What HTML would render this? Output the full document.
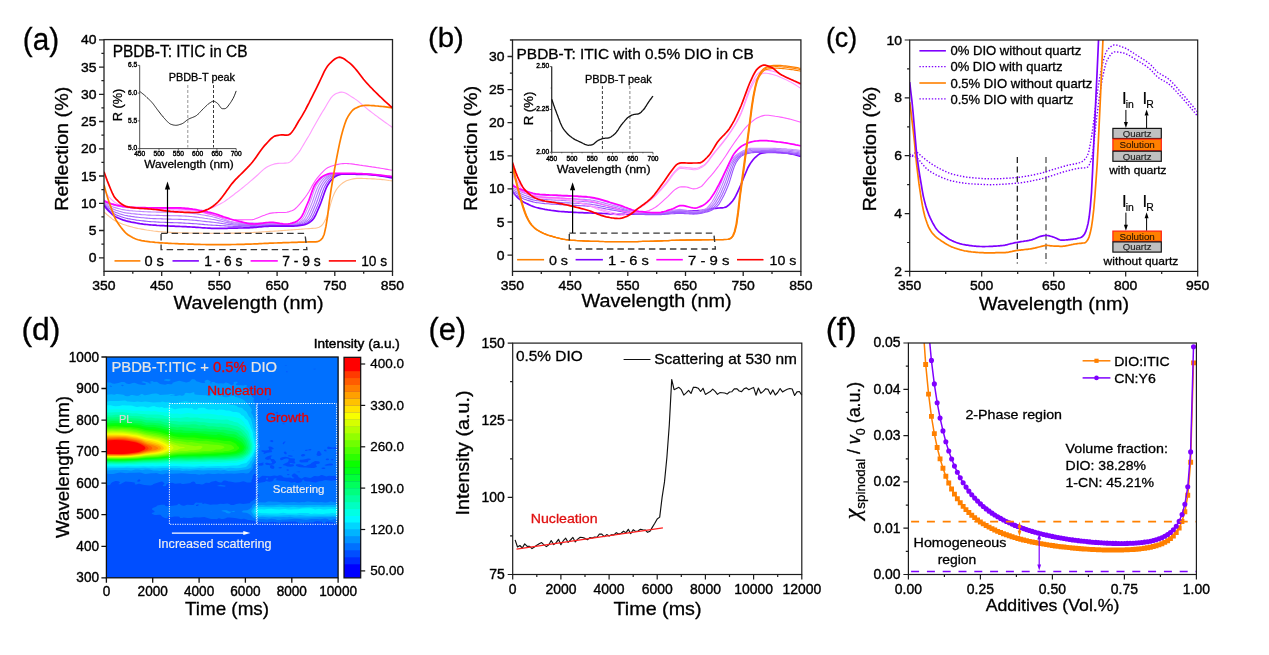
<!DOCTYPE html>
<html lang="en"><head><meta charset="utf-8"><title>Figure</title>
<style>
html,body{margin:0;padding:0;background:#fff;}
body{width:1269px;height:655px;overflow:hidden;}
svg{display:block;}
svg text{font-family:'Liberation Sans', Arial, Helvetica, sans-serif;}
</style></head><body>
<svg width="1269" height="655" viewBox="0 0 1269 655">
<rect width="1269" height="655" fill="#fff"/>
<g id="panel_a">
<clipPath id="ca"><rect x="104" y="39.6" width="288.5" height="231.7"/></clipPath>
<path d="M104 212L105.7 213.5L107.4 215L109.1 216.4L110.8 217.7L112.5 219.1L114.2 220.3L115.9 221.2L117.7 222.1L119.4 222.8L121.1 223.5L122.8 224.2L124.5 224.8L126.2 225.3L127.9 225.9L129.6 226.4L131.3 226.8L133 227.3L134.7 227.7L136.4 228.1L138.1 228.5L139.8 228.8L141.6 229.1L143.3 229.4L145 229.7L146.7 230L148.4 230.2L150.1 230.5L151.8 230.7L153.5 231L155.2 231.2L156.9 231.4L158.6 231.6L160.3 231.8L162 231.9L163.7 232L165.5 232.1L167.2 232.2L168.9 232.3L170.6 232.4L172.3 232.5L174 232.5L175.7 232.6L177.4 232.7L179.1 232.7L180.8 232.8L182.5 232.8L184.2 232.9L185.9 232.9L187.6 232.9L189.4 233L191.1 233L192.8 233L194.5 233L196.2 233.1L197.9 233.1L199.6 233.1L201.3 233.1L203 233.2L204.7 233.2L206.4 233.2L208.1 233.2L209.8 233.2L211.5 233.2L213.3 233.2L215 233.2L216.7 233.2L218.4 233.2L220.1 233.2L221.8 233.2L223.5 233.2L225.2 233.2L226.9 233.2L228.6 233.1L230.3 233.1L232 233.1L233.7 233.1L235.4 233L237.2 233L238.9 232.9L240.6 232.9L242.3 232.9L244 232.8L245.7 232.8L247.4 232.7L249.1 232.7L250.8 232.6L252.5 232.5L254.2 232.4L255.9 232.3L257.6 232.2L259.3 232.1L261.1 232L262.8 231.9L264.5 231.8L266.2 231.6L267.9 231.5L269.6 231.4L271.3 231.3L273 231.2L274.7 231.1L276.4 231L278.1 230.9L279.8 230.7L281.5 230.6L283.2 230.5L285 230.4L286.7 230.3L288.4 230.1L290.1 230L291.8 229.9L293.5 229.8L295.2 229.6L296.9 229.5L298.6 229.4L300.3 229.2L302 229.1L303.7 229L305.4 228.8L307.1 228.7L308.9 228.6L310.6 228.5L312.3 228.4L314 228.3L315.7 228.1L317.4 227.8L319.1 227.2L320.8 226.2L322.5 224.7L324.2 222.1L325.9 218.7L327.6 214.1L329.3 208.8L331 202.6L332.8 197.1L334.5 193L336.2 189.9L337.9 187.5L339.6 185.7L341.3 184.2L343 182.8L344.7 181.7L346.4 180.8L348.1 180.2L349.8 179.7L351.5 179.3L353.2 178.9L354.9 178.6L356.7 178.4L358.4 178.4L360.1 178.4L361.8 178.4L363.5 178.5L365.2 178.5L366.9 178.6L368.6 178.7L370.3 178.8L372 178.9L373.7 178.9L375.4 179L377.1 179.2L378.8 179.3L380.6 179.4L382.3 179.6L384 179.8L385.7 180L387.4 180.2L389.1 180.5L390.8 180.7L392.5 180.9" fill="none" stroke="#FFC490" stroke-width="1.1" clip-path="url(#ca)"/>
<path d="M104 201.6L105.7 202.3L107.4 203L109.1 203.6L110.8 204.2L112.5 204.8L114.2 205.3L115.9 205.7L117.7 206.1L119.4 206.4L121.1 206.8L122.8 207.1L124.5 207.3L126.2 207.5L127.9 207.7L129.6 207.8L131.3 207.9L133 208L134.7 208.1L136.4 208.2L138.1 208.3L139.8 208.4L141.6 208.5L143.3 208.5L145 208.6L146.7 208.6L148.4 208.7L150.1 208.7L151.8 208.7L153.5 208.7L155.2 208.7L156.9 208.7L158.6 208.7L160.3 208.7L162 208.7L163.7 208.7L165.5 208.7L167.2 208.7L168.9 208.7L170.6 208.7L172.3 208.7L174 208.7L175.7 208.7L177.4 208.7L179.1 208.7L180.8 208.8L182.5 208.8L184.2 208.9L185.9 209.1L187.6 209.3L189.4 209.5L191.1 209.8L192.8 210.1L194.5 210.4L196.2 210.7L197.9 211L199.6 211.4L201.3 211.7L203 212.1L204.7 212.4L206.4 212.8L208.1 213.1L209.8 213.6L211.5 214.1L213.3 214.6L215 215.2L216.7 215.9L218.4 216.6L220.1 217.3L221.8 218L223.5 218.7L225.2 219.4L226.9 220.1L228.6 220.7L230.3 221.2L232 221.6L233.7 222L235.4 222.2L237.2 222.4L238.9 222.5L240.6 222.6L242.3 222.6L244 222.7L245.7 222.7L247.4 222.8L249.1 222.8L250.8 222.9L252.5 222.9L254.2 223L255.9 223L257.6 223L259.3 223.1L261.1 223.1L262.8 223.1L264.5 223.2L266.2 223.2L267.9 223.3L269.6 223.4L271.3 223.4L273 223.5L274.7 223.7L276.4 223.9L278.1 224L279.8 224.2L281.5 224.3L283.2 224.5L285 224.5L286.7 224.5L288.4 224.4L290.1 224.2L291.8 223.9L293.5 223.6L295.2 223.3L296.9 222.7L298.6 221.9L300.3 220.9L302 219.5L303.7 217L305.4 213.4L307.1 209.4L308.9 205.4L310.6 200.9L312.3 195.8L314 190.7L315.7 186.5L317.4 183.6L319.1 181.2L320.8 179.1L322.5 177.5L324.2 176.4L325.9 175.5L327.6 174.8L329.3 174.2L331 173.9L332.8 173.9L334.5 173.9L336.2 173.9L337.9 173.9L339.6 173.9L341.3 173.9L343 173.9L344.7 173.9L346.4 173.9L348.1 173.9L349.8 173.9L351.5 173.9L353.2 173.9L354.9 173.9L356.7 173.9L358.4 173.9L360.1 173.9L361.8 173.9L363.5 173.9L365.2 173.9L366.9 173.9L368.6 174L370.3 174.1L372 174.2L373.7 174.4L375.4 174.6L377.1 174.8L378.8 175L380.6 175.2L382.3 175.5L384 175.7L385.7 176L387.4 176.3L389.1 176.6L390.8 176.8L392.5 177.1" fill="none" stroke="#D090FF" stroke-width="1.1" clip-path="url(#ca)"/>
<path d="M104 202.4L105.7 203.4L107.4 204.3L109.1 205.2L110.8 206L112.5 206.7L114.2 207.4L115.9 207.9L117.7 208.4L119.4 208.8L121.1 209.3L122.8 209.6L124.5 209.9L126.2 210.2L127.9 210.4L129.6 210.6L131.3 210.7L133 210.9L134.7 211L136.4 211.2L138.1 211.3L139.8 211.4L141.6 211.5L143.3 211.6L145 211.7L146.7 211.8L148.4 211.9L150.1 211.9L151.8 212L153.5 212L155.2 212L156.9 212.1L158.6 212.1L160.3 212.1L162 212.1L163.7 212.1L165.5 212.2L167.2 212.2L168.9 212.2L170.6 212.2L172.3 212.2L174 212.2L175.7 212.3L177.4 212.3L179.1 212.3L180.8 212.4L182.5 212.4L184.2 212.5L185.9 212.6L187.6 212.8L189.4 212.9L191.1 213.1L192.8 213.4L194.5 213.6L196.2 213.8L197.9 214.1L199.6 214.4L201.3 214.7L203 215L204.7 215.3L206.4 215.6L208.1 215.9L209.8 216.2L211.5 216.5L213.3 217L215 217.4L216.7 217.9L218.4 218.4L220.1 219L221.8 219.5L223.5 220.1L225.2 220.6L226.9 221.1L228.6 221.6L230.3 222.1L232 222.5L233.7 222.8L235.4 223.1L237.2 223.3L238.9 223.4L240.6 223.5L242.3 223.5L244 223.6L245.7 223.6L247.4 223.6L249.1 223.7L250.8 223.7L252.5 223.7L254.2 223.7L255.9 223.7L257.6 223.8L259.3 223.8L261.1 223.8L262.8 223.8L264.5 223.8L266.2 223.9L267.9 223.9L269.6 223.9L271.3 224L273 224.1L274.7 224.1L276.4 224.3L278.1 224.4L279.8 224.5L281.5 224.6L283.2 224.7L285 224.8L286.7 224.9L288.4 224.8L290.1 224.7L291.8 224.5L293.5 224.2L295.2 223.9L296.9 223.6L298.6 223L300.3 222.3L302 221.3L303.7 220L305.4 217.8L307.1 214.5L308.9 210.6L310.6 206.5L312.3 202.3L314 197.3L315.7 192.2L317.4 187.7L319.1 184.5L320.8 181.9L322.5 179.7L324.2 177.9L325.9 176.7L327.6 175.8L329.3 175L331 174.4L332.8 174L334.5 173.9L336.2 173.9L337.9 173.9L339.6 173.9L341.3 173.9L343 173.9L344.7 173.9L346.4 173.9L348.1 173.9L349.8 173.9L351.5 173.9L353.2 173.9L354.9 173.9L356.7 173.9L358.4 173.9L360.1 174L361.8 174L363.5 174L365.2 174L366.9 174L368.6 174.1L370.3 174.2L372 174.4L373.7 174.5L375.4 174.7L377.1 174.9L378.8 175.1L380.6 175.4L382.3 175.6L384 175.9L385.7 176.1L387.4 176.4L389.1 176.7L390.8 177L392.5 177.3" fill="none" stroke="#C088FF" stroke-width="1.1" clip-path="url(#ca)"/>
<path d="M104 203.2L105.7 204.4L107.4 205.6L109.1 206.7L110.8 207.7L112.5 208.7L114.2 209.5L115.9 210.2L117.7 210.7L119.4 211.3L121.1 211.7L122.8 212.2L124.5 212.6L126.2 212.9L127.9 213.1L129.6 213.3L131.3 213.6L133 213.8L134.7 213.9L136.4 214.1L138.1 214.3L139.8 214.4L141.6 214.6L143.3 214.7L145 214.8L146.7 215L148.4 215.1L150.1 215.1L151.8 215.2L153.5 215.3L155.2 215.3L156.9 215.4L158.6 215.4L160.3 215.5L162 215.5L163.7 215.6L165.5 215.6L167.2 215.6L168.9 215.6L170.6 215.7L172.3 215.7L174 215.7L175.7 215.8L177.4 215.8L179.1 215.9L180.8 215.9L182.5 216L184.2 216L185.9 216.1L187.6 216.2L189.4 216.4L191.1 216.5L192.8 216.7L194.5 216.9L196.2 217.1L197.9 217.3L199.6 217.6L201.3 217.8L203 218L204.7 218.3L206.4 218.5L208.1 218.8L209.8 219L211.5 219.3L213.3 219.5L215 219.8L216.7 220.2L218.4 220.6L220.1 220.9L221.8 221.3L223.5 221.8L225.2 222.2L226.9 222.5L228.6 222.9L230.3 223.3L232 223.6L233.7 223.9L235.4 224.1L237.2 224.3L238.9 224.5L240.6 224.5L242.3 224.5L244 224.5L245.7 224.5L247.4 224.5L249.1 224.5L250.8 224.5L252.5 224.5L254.2 224.5L255.9 224.5L257.6 224.5L259.3 224.5L261.1 224.5L262.8 224.5L264.5 224.5L266.2 224.5L267.9 224.5L269.6 224.5L271.3 224.5L273 224.5L274.7 224.6L276.4 224.7L278.1 224.8L279.8 224.9L281.5 225L283.2 225L285 225.1L286.7 225.2L288.4 225.2L290.1 225.1L291.8 225L293.5 224.8L295.2 224.5L296.9 224.2L298.6 223.9L300.3 223.4L302 222.6L303.7 221.6L305.4 220.4L307.1 218.5L308.9 215.5L310.6 211.7L312.3 207.7L314 203.6L315.7 198.8L317.4 193.7L319.1 189L320.8 185.4L322.5 182.7L324.2 180.4L325.9 178.5L327.6 177L329.3 176.1L331 175.3L332.8 174.6L334.5 174.1L336.2 174L337.9 174L339.6 174L341.3 174L343 174L344.7 174L346.4 174L348.1 174L349.8 174L351.5 174L353.2 174L354.9 174L356.7 174L358.4 174L360.1 174L361.8 174.1L363.5 174.1L365.2 174.1L366.9 174.2L368.6 174.2L370.3 174.4L372 174.5L373.7 174.6L375.4 174.8L377.1 175L378.8 175.3L380.6 175.5L382.3 175.7L384 176L385.7 176.3L387.4 176.6L389.1 176.8L390.8 177.1L392.5 177.4" fill="none" stroke="#B478FF" stroke-width="1.1" clip-path="url(#ca)"/>
<path d="M104 203.9L105.7 205.5L107.4 206.9L109.1 208.3L110.8 209.5L112.5 210.7L114.2 211.7L115.9 212.4L117.7 213.1L119.4 213.7L121.1 214.2L122.8 214.7L124.5 215.2L126.2 215.5L127.9 215.9L129.6 216.1L131.3 216.4L133 216.6L134.7 216.9L136.4 217.1L138.1 217.3L139.8 217.5L141.6 217.7L143.3 217.8L145 218L146.7 218.1L148.4 218.2L150.1 218.4L151.8 218.5L153.5 218.6L155.2 218.6L156.9 218.7L158.6 218.8L160.3 218.8L162 218.9L163.7 219L165.5 219L167.2 219L168.9 219.1L170.6 219.1L172.3 219.2L174 219.2L175.7 219.3L177.4 219.3L179.1 219.4L180.8 219.4L182.5 219.5L184.2 219.6L185.9 219.6L187.6 219.7L189.4 219.9L191.1 220L192.8 220.1L194.5 220.3L196.2 220.4L197.9 220.6L199.6 220.8L201.3 221L203 221.2L204.7 221.4L206.4 221.6L208.1 221.8L209.8 221.9L211.5 222.1L213.3 222.3L215 222.5L216.7 222.7L218.4 222.9L220.1 223.2L221.8 223.4L223.5 223.7L225.2 223.9L226.9 224.2L228.6 224.4L230.3 224.6L232 224.8L233.7 225L235.4 225.2L237.2 225.3L238.9 225.5L240.6 225.6L242.3 225.6L244 225.6L245.7 225.6L247.4 225.6L249.1 225.6L250.8 225.5L252.5 225.5L254.2 225.4L255.9 225.4L257.6 225.3L259.3 225.3L261.1 225.2L262.8 225.2L264.5 225.2L266.2 225.1L267.9 225.1L269.6 225.1L271.3 225.1L273 225.1L274.7 225.1L276.4 225.2L278.1 225.2L279.8 225.3L281.5 225.3L283.2 225.4L285 225.4L286.7 225.5L288.4 225.5L290.1 225.5L291.8 225.4L293.5 225.3L295.2 225.1L296.9 224.8L298.6 224.5L300.3 224.2L302 223.7L303.7 223L305.4 222L307.1 220.8L308.9 219.2L310.6 216.4L312.3 212.8L314 208.8L315.7 204.8L317.4 200.3L319.1 195.2L320.8 190.3L322.5 186.3L324.2 183.5L325.9 181.1L327.6 179L329.3 177.4L331 176.4L332.8 175.5L334.5 174.8L336.2 174.3L337.9 174L339.6 174L341.3 174L343 174L344.7 174L346.4 174L348.1 174L349.8 174.1L351.5 174.1L353.2 174.1L354.9 174.1L356.7 174.1L358.4 174.1L360.1 174.1L361.8 174.2L363.5 174.2L365.2 174.2L366.9 174.3L368.6 174.4L370.3 174.5L372 174.6L373.7 174.8L375.4 175L377.1 175.2L378.8 175.4L380.6 175.6L382.3 175.9L384 176.1L385.7 176.4L387.4 176.7L389.1 177L390.8 177.3L392.5 177.6" fill="none" stroke="#A868FF" stroke-width="1.1" clip-path="url(#ca)"/>
<path d="M104 204.7L105.7 206.5L107.4 208.2L109.1 209.8L110.8 211.3L112.5 212.6L114.2 213.8L115.9 214.7L117.7 215.4L119.4 216.1L121.1 216.7L122.8 217.3L124.5 217.8L126.2 218.2L127.9 218.6L129.6 218.9L131.3 219.2L133 219.5L134.7 219.8L136.4 220.1L138.1 220.3L139.8 220.5L141.6 220.7L143.3 220.9L145 221.1L146.7 221.3L148.4 221.5L150.1 221.6L151.8 221.7L153.5 221.8L155.2 221.9L156.9 222L158.6 222.1L160.3 222.2L162 222.3L163.7 222.3L165.5 222.4L167.2 222.5L168.9 222.5L170.6 222.6L172.3 222.6L174 222.7L175.7 222.8L177.4 222.8L179.1 222.9L180.8 222.9L182.5 223L184.2 223.1L185.9 223.2L187.6 223.3L189.4 223.4L191.1 223.5L192.8 223.6L194.5 223.7L196.2 223.8L197.9 224L199.6 224.1L201.3 224.3L203 224.4L204.7 224.6L206.4 224.7L208.1 224.9L209.8 225L211.5 225.1L213.3 225.2L215 225.3L216.7 225.4L218.4 225.5L220.1 225.6L221.8 225.7L223.5 225.8L225.2 225.9L226.9 226L228.6 226.1L230.3 226.2L232 226.3L233.7 226.4L235.4 226.5L237.2 226.5L238.9 226.6L240.6 226.6L242.3 226.7L244 226.7L245.7 226.7L247.4 226.7L249.1 226.7L250.8 226.6L252.5 226.5L254.2 226.4L255.9 226.3L257.6 226.2L259.3 226.1L261.1 226L262.8 225.9L264.5 225.8L266.2 225.7L267.9 225.7L269.6 225.6L271.3 225.6L273 225.6L274.7 225.6L276.4 225.7L278.1 225.7L279.8 225.7L281.5 225.7L283.2 225.8L285 225.8L286.7 225.8L288.4 225.8L290.1 225.8L291.8 225.8L293.5 225.7L295.2 225.6L296.9 225.4L298.6 225.1L300.3 224.8L302 224.5L303.7 224L305.4 223.4L307.1 222.4L308.9 221.2L310.6 219.7L312.3 217.2L314 213.8L315.7 209.9L317.4 206L319.1 201.7L320.8 196.8L322.5 191.8L324.2 187.4L325.9 184.4L327.6 181.8L329.3 179.6L331 177.9L332.8 176.6L334.5 175.8L336.2 175L337.9 174.5L339.6 174.1L341.3 174.1L343 174.1L344.7 174.1L346.4 174.1L348.1 174.1L349.8 174.1L351.5 174.1L353.2 174.1L354.9 174.2L356.7 174.2L358.4 174.2L360.1 174.2L361.8 174.3L363.5 174.3L365.2 174.3L366.9 174.4L368.6 174.5L370.3 174.6L372 174.8L373.7 174.9L375.4 175.1L377.1 175.3L378.8 175.5L380.6 175.8L382.3 176L384 176.3L385.7 176.6L387.4 176.8L389.1 177.1L390.8 177.4L392.5 177.7" fill="none" stroke="#9A50FF" stroke-width="1.1" clip-path="url(#ca)"/>
<path d="M104 205.5L105.7 207.6L107.4 209.6L109.1 211.4L110.8 213L112.5 214.6L114.2 215.9L115.9 216.9L117.7 217.8L119.4 218.5L121.1 219.2L122.8 219.9L124.5 220.4L126.2 220.9L127.9 221.3L129.6 221.7L131.3 222.1L133 222.4L134.7 222.7L136.4 223L138.1 223.3L139.8 223.6L141.6 223.8L143.3 224.1L145 224.3L146.7 224.5L148.4 224.7L150.1 224.8L151.8 225L153.5 225.1L155.2 225.2L156.9 225.4L158.6 225.5L160.3 225.6L162 225.7L163.7 225.7L165.5 225.8L167.2 225.9L168.9 226L170.6 226.1L172.3 226.1L174 226.2L175.7 226.3L177.4 226.3L179.1 226.4L180.8 226.5L182.5 226.6L184.2 226.6L185.9 226.7L187.6 226.8L189.4 226.9L191.1 227L192.8 227.1L194.5 227.2L196.2 227.3L197.9 227.4L199.6 227.5L201.3 227.7L203 227.8L204.7 227.9L206.4 228L208.1 228.1L209.8 228.2L211.5 228.3L213.3 228.3L215 228.3L216.7 228.3L218.4 228.3L220.1 228.3L221.8 228.3L223.5 228.3L225.2 228.3L226.9 228.3L228.6 228.2L230.3 228.2L232 228.2L233.7 228.2L235.4 228.1L237.2 228.1L238.9 228L240.6 228L242.3 228L244 227.9L245.7 227.9L247.4 227.8L249.1 227.8L250.8 227.7L252.5 227.6L254.2 227.4L255.9 227.3L257.6 227.1L259.3 226.9L261.1 226.8L262.8 226.6L264.5 226.5L266.2 226.3L267.9 226.3L269.6 226.2L271.3 226.2L273 226.2L274.7 226.2L276.4 226.2L278.1 226.2L279.8 226.2L281.5 226.2L283.2 226.2L285 226.2L286.7 226.2L288.4 226.2L290.1 226.2L291.8 226.2L293.5 226.1L295.2 226L296.9 225.9L298.6 225.7L300.3 225.4L302 225.1L303.7 224.8L305.4 224.4L307.1 223.7L308.9 222.8L310.6 221.6L312.3 220.2L314 218L315.7 214.8L317.4 211L319.1 207.1L320.8 203L322.5 198.2L324.2 193.2L325.9 188.7L327.6 185.2L329.3 182.6L331 180.3L332.8 178.4L334.5 177L336.2 176.1L337.9 175.3L339.6 174.7L341.3 174.2L343 174.1L344.7 174.1L346.4 174.1L348.1 174.1L349.8 174.2L351.5 174.2L353.2 174.2L354.9 174.2L356.7 174.3L358.4 174.3L360.1 174.3L361.8 174.4L363.5 174.4L365.2 174.4L366.9 174.5L368.6 174.6L370.3 174.7L372 174.9L373.7 175.1L375.4 175.2L377.1 175.4L378.8 175.7L380.6 175.9L382.3 176.2L384 176.4L385.7 176.7L387.4 177L389.1 177.3L390.8 177.6L392.5 177.9" fill="none" stroke="#7F00FF" stroke-width="1.7" clip-path="url(#ca)"/>
<path d="M104 200L105.7 200.9L107.4 201.8L109.1 202.6L110.8 203.3L112.5 204L114.2 204.6L115.9 205L117.7 205.4L119.4 205.8L121.1 206.1L122.8 206.5L124.5 206.8L126.2 207L127.9 207.2L129.6 207.4L131.3 207.6L133 207.6L134.7 207.7L136.4 207.8L138.1 207.8L139.8 207.8L141.6 207.9L143.3 207.9L145 207.9L146.7 207.9L148.4 208L150.1 208L151.8 208L153.5 208L155.2 208L156.9 208.1L158.6 208.1L160.3 208.1L162 208.2L163.7 208.2L165.5 208.3L167.2 208.4L168.9 208.4L170.6 208.5L172.3 208.6L174 208.7L175.7 208.7L177.4 208.8L179.1 208.9L180.8 209L182.5 209.2L184.2 209.3L185.9 209.4L187.6 209.6L189.4 209.7L191.1 209.9L192.8 210.1L194.5 210.4L196.2 210.7L197.9 211.1L199.6 211.5L201.3 212L203 212.4L204.7 212.9L206.4 213.4L208.1 213.9L209.8 214.3L211.5 214.8L213.3 215.2L215 215.6L216.7 216L218.4 216.4L220.1 216.9L221.8 217.3L223.5 217.8L225.2 218.2L226.9 218.6L228.6 219L230.3 219.3L232 219.6L233.7 219.8L235.4 219.9L237.2 219.9L238.9 219.9L240.6 219.9L242.3 219.9L244 219.8L245.7 219.8L247.4 219.8L249.1 219.7L250.8 219.7L252.5 219.6L254.2 219.2L255.9 218.6L257.6 217.9L259.3 217.2L261.1 216.4L262.8 215.8L264.5 215.2L266.2 214.5L267.9 213.9L269.6 213.4L271.3 213.1L273 212.9L274.7 212.7L276.4 212.6L278.1 212.5L279.8 212.5L281.5 212.5L283.2 212.5L285 212.5L286.7 212.3L288.4 211.9L290.1 211.3L291.8 210.7L293.5 209.9L295.2 208.7L296.9 207.2L298.6 205.4L300.3 203.4L302 201.3L303.7 199.2L305.4 197L307.1 194.5L308.9 191.7L310.6 188.7L312.3 185.6L314 182.7L315.7 180L317.4 177.8L319.1 175.8L320.8 173.9L322.5 172.1L324.2 170.4L325.9 168.9L327.6 167.7L329.3 166.9L331 166.3L332.8 165.7L334.5 165.2L336.2 164.8L337.9 164.4L339.6 164L341.3 163.8L343 163.6L344.7 163.5L346.4 163.5L348.1 163.6L349.8 163.7L351.5 163.9L353.2 164.1L354.9 164.4L356.7 164.6L358.4 164.9L360.1 165.2L361.8 165.4L363.5 165.7L365.2 165.9L366.9 166.1L368.6 166.4L370.3 166.6L372 166.9L373.7 167.1L375.4 167.4L377.1 167.7L378.8 167.9L380.6 168.2L382.3 168.5L384 168.8L385.7 169.1L387.4 169.4L389.1 169.7L390.8 170L392.5 170.3" fill="none" stroke="#FF50FF" stroke-width="1.1" clip-path="url(#ca)"/>
<path d="M104 189.7L105.7 192.4L107.4 195L109.1 197.1L110.8 198.9L112.5 200.4L114.2 201.9L115.9 203.1L117.7 204L119.4 204.7L121.1 205.4L122.8 206L124.5 206.5L126.2 207L127.9 207.4L129.6 207.8L131.3 208L133 208.2L134.7 208.3L136.4 208.4L138.1 208.5L139.8 208.6L141.6 208.6L143.3 208.7L145 208.8L146.7 208.8L148.4 208.9L150.1 208.9L151.8 208.9L153.5 209L155.2 209L156.9 209.1L158.6 209.1L160.3 209.2L162 209.3L163.7 209.4L165.5 209.5L167.2 209.6L168.9 209.7L170.6 209.8L172.3 210L174 210.1L175.7 210.2L177.4 210.3L179.1 210.5L180.8 210.6L182.5 210.7L184.2 210.8L185.9 210.8L187.6 210.9L189.4 210.9L191.1 210.9L192.8 210.9L194.5 210.8L196.2 210.8L197.9 210.7L199.6 210.6L201.3 210.4L203 210.3L204.7 210L206.4 209.6L208.1 209.1L209.8 208.5L211.5 207.9L213.3 207.2L215 206.4L216.7 205.6L218.4 204.8L220.1 204L221.8 203.1L223.5 202.1L225.2 201L226.9 199.8L228.6 198.6L230.3 197.3L232 196L233.7 194.7L235.4 193.3L237.2 192L238.9 190.7L240.6 189.4L242.3 188L244 186.6L245.7 185.2L247.4 183.8L249.1 182.3L250.8 180.9L252.5 179.5L254.2 178L255.9 176.5L257.6 175L259.3 173.3L261.1 171.7L262.8 170.1L264.5 168.7L266.2 167.5L267.9 166.5L269.6 165.7L271.3 165L273 164.4L274.7 163.9L276.4 163.6L278.1 163.4L279.8 163.3L281.5 163.3L283.2 163.2L285 163.1L286.7 163L288.4 162.8L290.1 161.9L291.8 160.5L293.5 158.7L295.2 156.7L296.9 154.7L298.6 152.6L300.3 150.1L302 147.3L303.7 144.4L305.4 141.5L307.1 138.6L308.9 135.7L310.6 132.7L312.3 129.6L314 126.6L315.7 123.5L317.4 120.5L319.1 117.5L320.8 114.6L322.5 111.8L324.2 109.1L325.9 106.2L327.6 103.3L329.3 100.5L331 97.9L332.8 95.9L334.5 94.5L336.2 93.6L337.9 92.9L339.6 92.4L341.3 92.1L343 92.2L344.7 92.7L346.4 93.5L348.1 94.5L349.8 95.6L351.5 96.7L353.2 97.7L354.9 98.9L356.7 100.1L358.4 101.4L360.1 102.9L361.8 104.3L363.5 105.8L365.2 107.2L366.9 108.6L368.6 110L370.3 111.3L372 112.6L373.7 113.9L375.4 115.2L377.1 116.4L378.8 117.7L380.6 119L382.3 120.2L384 121.5L385.7 122.7L387.4 123.9L389.1 125.1L390.8 126.3L392.5 127.5" fill="none" stroke="#FF9CFF" stroke-width="1.1" clip-path="url(#ca)"/>
<path d="M104 201.1L105.7 201.8L107.4 202.4L109.1 203.1L110.8 203.7L112.5 204.2L114.2 204.6L115.9 205L117.7 205.3L119.4 205.7L121.1 206L122.8 206.3L124.5 206.5L126.2 206.8L127.9 207L129.6 207.2L131.3 207.3L133 207.4L134.7 207.4L136.4 207.5L138.1 207.5L139.8 207.6L141.6 207.6L143.3 207.7L145 207.7L146.7 207.8L148.4 207.8L150.1 207.8L151.8 207.8L153.5 207.9L155.2 207.9L156.9 207.9L158.6 207.9L160.3 207.9L162 207.9L163.7 207.9L165.5 207.9L167.2 207.9L168.9 207.9L170.6 207.9L172.3 207.9L174 207.9L175.7 207.9L177.4 207.9L179.1 207.9L180.8 207.9L182.5 208L184.2 208.1L185.9 208.3L187.6 208.4L189.4 208.7L191.1 208.9L192.8 209.2L194.5 209.4L196.2 209.7L197.9 210L199.6 210.4L201.3 210.7L203 211L204.7 211.4L206.4 211.7L208.1 212.1L209.8 212.4L211.5 212.8L213.3 213.3L215 213.8L216.7 214.3L218.4 214.9L220.1 215.5L221.8 216.1L223.5 216.7L225.2 217.2L226.9 217.8L228.6 218.4L230.3 219L232 219.5L233.7 220L235.4 220.4L237.2 220.8L238.9 221.2L240.6 221.7L242.3 222.1L244 222.5L245.7 222.9L247.4 223.3L249.1 223.6L250.8 223.8L252.5 223.9L254.2 224L255.9 223.9L257.6 223.8L259.3 223.6L261.1 223.4L262.8 223.2L264.5 222.9L266.2 222.7L267.9 222.5L269.6 222.4L271.3 222.4L273 222.4L274.7 222.6L276.4 222.8L278.1 223.1L279.8 223.4L281.5 223.6L283.2 223.9L285 224L286.7 224L288.4 223.8L290.1 223.5L291.8 223.1L293.5 222.6L295.2 222.1L296.9 221.2L298.6 219.9L300.3 218.4L302 216L303.7 212.6L305.4 208.6L307.1 204.5L308.9 200.4L310.6 195.5L312.3 190.6L314 186.4L315.7 183.5L317.4 181.2L319.1 179.3L320.8 177.7L322.5 176.4L324.2 175.6L325.9 174.8L327.6 174.1L329.3 173.6L331 173.3L332.8 173.3L334.5 173.3L336.2 173.3L337.9 173.3L339.6 173.3L341.3 173.3L343 173.3L344.7 173.3L346.4 173.3L348.1 173.3L349.8 173.3L351.5 173.4L353.2 173.4L354.9 173.4L356.7 173.5L358.4 173.6L360.1 173.6L361.8 173.7L363.5 173.8L365.2 173.9L366.9 174L368.6 174.2L370.3 174.3L372 174.4L373.7 174.6L375.4 174.7L377.1 174.9L378.8 175L380.6 175.2L382.3 175.4L384 175.6L385.7 175.8L387.4 176L389.1 176.2L390.8 176.4L392.5 176.6" fill="none" stroke="#FF00FF" stroke-width="1.7" clip-path="url(#ca)"/>
<path d="M104 184.8L105.7 191.1L107.4 196.9L109.1 202.2L110.8 206.9L112.5 211.7L114.2 216.4L115.9 219.9L117.7 222.8L119.4 225.3L121.1 227.5L122.8 229.6L124.5 231.6L126.2 233.3L127.9 234.7L129.6 235.8L131.3 236.8L133 237.7L134.7 238.5L136.4 239.2L138.1 239.8L139.8 240.2L141.6 240.6L143.3 240.9L145 241.2L146.7 241.4L148.4 241.6L150.1 241.9L151.8 242L153.5 242.2L155.2 242.4L156.9 242.5L158.6 242.6L160.3 242.8L162 242.9L163.7 243L165.5 243.1L167.2 243.2L168.9 243.3L170.6 243.4L172.3 243.5L174 243.5L175.7 243.6L177.4 243.7L179.1 243.8L180.8 243.8L182.5 243.9L184.2 243.9L185.9 244L187.6 244.1L189.4 244.1L191.1 244.2L192.8 244.2L194.5 244.3L196.2 244.3L197.9 244.4L199.6 244.4L201.3 244.5L203 244.5L204.7 244.5L206.4 244.6L208.1 244.6L209.8 244.6L211.5 244.7L213.3 244.7L215 244.7L216.7 244.7L218.4 244.7L220.1 244.7L221.8 244.7L223.5 244.7L225.2 244.6L226.9 244.6L228.6 244.6L230.3 244.6L232 244.5L233.7 244.5L235.4 244.5L237.2 244.4L238.9 244.4L240.6 244.3L242.3 244.3L244 244.3L245.7 244.2L247.4 244.2L249.1 244.1L250.8 244.1L252.5 244L254.2 243.9L255.9 243.8L257.6 243.8L259.3 243.7L261.1 243.6L262.8 243.5L264.5 243.4L266.2 243.4L267.9 243.3L269.6 243.2L271.3 243.2L273 243.1L274.7 243L276.4 243L278.1 242.9L279.8 242.8L281.5 242.8L283.2 242.7L285 242.7L286.7 242.6L288.4 242.6L290.1 242.5L291.8 242.4L293.5 242.4L295.2 242.3L296.9 242.3L298.6 242.2L300.3 242.2L302 242.1L303.7 242.1L305.4 242L307.1 242L308.9 241.9L310.6 241.9L312.3 241.9L314 241.8L315.7 241.8L317.4 241.7L319.1 241.1L320.8 239.9L322.5 238L324.2 234.3L325.9 226.7L327.6 216.2L329.3 202L331 190.2L332.8 179.5L334.5 169.5L336.2 160.3L337.9 151.6L339.6 143.4L341.3 136L343 129.8L344.7 124.3L346.4 119.7L348.1 116.4L349.8 113.7L351.5 111.5L353.2 109.7L354.9 108.5L356.7 107.7L358.4 106.9L360.1 106.3L361.8 105.8L363.5 105.5L365.2 105.4L366.9 105.4L368.6 105.4L370.3 105.5L372 105.6L373.7 105.7L375.4 105.9L377.1 106L378.8 106.2L380.6 106.3L382.3 106.5L384 106.7L385.7 106.9L387.4 107.1L389.1 107.4L390.8 107.6L392.5 107.9" fill="none" stroke="#FF8000" stroke-width="1.7" clip-path="url(#ca)"/>
<path d="M104 171.7L105.7 176.5L107.4 181.1L109.1 185.4L110.8 189.5L112.5 193.5L114.2 196.9L115.9 198.9L117.7 200.7L119.4 202.3L121.1 203.7L122.8 204.8L124.5 205.8L126.2 206.4L127.9 206.9L129.6 207.2L131.3 207.4L133 207.6L134.7 207.8L136.4 208L138.1 208.1L139.8 208.3L141.6 208.4L143.3 208.5L145 208.6L146.7 208.7L148.4 208.9L150.1 209L151.8 209.2L153.5 209.3L155.2 209.5L156.9 209.7L158.6 209.9L160.3 210.1L162 210.3L163.7 210.6L165.5 210.8L167.2 211L168.9 211.2L170.6 211.4L172.3 211.5L174 211.7L175.7 211.8L177.4 211.9L179.1 212L180.8 212.1L182.5 212.2L184.2 212.3L185.9 212.3L187.6 212.4L189.4 212.4L191.1 212.5L192.8 212.5L194.5 212.5L196.2 212.5L197.9 212.5L199.6 212.2L201.3 211.7L203 211.2L204.7 210.6L206.4 209.9L208.1 209.2L209.8 208.3L211.5 207.2L213.3 206L215 204.6L216.7 203.1L218.4 201.5L220.1 199.6L221.8 197.5L223.5 195.3L225.2 192.9L226.9 190.5L228.6 188.2L230.3 185.8L232 183.6L233.7 181.6L235.4 179.7L237.2 177.9L238.9 176.1L240.6 174.5L242.3 172.8L244 171.1L245.7 169.4L247.4 167.7L249.1 165.9L250.8 164L252.5 162L254.2 159.8L255.9 157.4L257.6 154.9L259.3 152.4L261.1 150L262.8 147.7L264.5 145.6L266.2 143.8L267.9 142L269.6 140.2L271.3 138.5L273 137.1L274.7 136.1L276.4 135.6L278.1 135.3L279.8 135L281.5 134.9L283.2 134.9L285 135.1L286.7 135.2L288.4 135L290.1 134L291.8 132.3L293.5 129.9L295.2 127.2L296.9 124.3L298.6 121.3L300.3 118.6L302 115.9L303.7 112.9L305.4 109.8L307.1 106.5L308.9 103.1L310.6 99.7L312.3 96.3L314 92.9L315.7 89.6L317.4 86.2L319.1 82.7L320.8 79L322.5 75.3L324.2 71.7L325.9 68.6L327.6 66L329.3 64L331 62.3L332.8 60.7L334.5 59.3L336.2 58.2L337.9 57.5L339.6 57.2L341.3 57.6L343 58.3L344.7 59.3L346.4 60.6L348.1 61.9L349.8 63.1L351.5 64.6L353.2 66.4L354.9 68.3L356.7 70.4L358.4 72.5L360.1 74.8L361.8 77L363.5 79.2L365.2 81.2L366.9 83.2L368.6 85L370.3 86.8L372 88.5L373.7 90.3L375.4 92L377.1 93.7L378.8 95.4L380.6 97L382.3 98.7L384 100.3L385.7 101.9L387.4 103.4L389.1 104.9L390.8 106.5L392.5 107.9" fill="none" stroke="#FF0000" stroke-width="1.7" clip-path="url(#ca)"/>
<path d="M161.1 233.3H304.9L306.9 249.6H161.1Z" fill="none" stroke="#383838" stroke-width="1.35" stroke-dasharray="6.5 4"/>
<path d="M167.5 233V188" stroke="#000" stroke-width="1.2"/><path d="M167.5 181.5l-2.6 8h5.2z" fill="#000"/>
<path d="M114.5 260.9L140.4 260.9" stroke="#FF8000" stroke-width="1.6"/>
<path d="M172.5 260.9L198.9 260.9" stroke="#7F00FF" stroke-width="1.6"/>
<path d="M250.6 260.9L277.8 260.9" stroke="#FF00FF" stroke-width="1.6"/>
<path d="M328.8 260.9L356 260.9" stroke="#FF0000" stroke-width="1.6"/>
<text transform="translate(144.4,265.7)" font-size="13.90" textLength="19.5" lengthAdjust="spacingAndGlyphs" stroke="#000" stroke-width="0.3">0 s</text>
<text transform="translate(204.2,265.7)" font-size="13.90" textLength="38.3" lengthAdjust="spacingAndGlyphs" stroke="#000" stroke-width="0.3">1 - 6 s</text>
<text transform="translate(282.2,265.7)" font-size="13.90" textLength="38.5" lengthAdjust="spacingAndGlyphs" stroke="#000" stroke-width="0.3">7 - 9 s</text>
<text transform="translate(361.2,265.7)" font-size="13.90" textLength="26" lengthAdjust="spacingAndGlyphs" stroke="#000" stroke-width="0.3">10 s</text>
<text transform="translate(112.7,57.4)" font-size="15.70" textLength="134.9" lengthAdjust="spacingAndGlyphs" stroke="#000" stroke-width="0.3">PBDB-T: ITIC in CB</text>
<rect x="104" y="39.6" width="288.5" height="231.7" fill="none" stroke="#222" stroke-width="1.3"/>
<path d="M104 257.8h-5M104 230.5h-5M104 203.3h-5M104 176h-5M104 148.8h-5M104 121.5h-5M104 94.3h-5M104 67.1h-5M104 39.8h-5M104 244.1h-2.6M104 216.9h-2.6M104 189.7h-2.6M104 162.4h-2.6M104 135.2h-2.6M104 107.9h-2.6M104 80.7h-2.6M104 53.4h-2.6" stroke="#222" stroke-width="1.3" fill="none"/>
<path d="M104 271.3v4.6M161.7 271.3v4.6M219.4 271.3v4.6M277.1 271.3v4.6M334.8 271.3v4.6M392.5 271.3v4.6M132.8 271.3v2.5M190.6 271.3v2.5M248.2 271.3v2.5M305.9 271.3v2.5M363.7 271.3v2.5" stroke="#222" stroke-width="1.3" fill="none"/>
<text transform="translate(96.6,262.2) scale(1.025,1)" font-size="13.60" text-anchor="end" stroke="#000" stroke-width="0.4">0</text><text transform="translate(96.6,235) scale(1.025,1)" font-size="13.60" text-anchor="end" stroke="#000" stroke-width="0.4">5</text><text transform="translate(96.6,207.7) scale(1.025,1)" font-size="13.60" text-anchor="end" stroke="#000" stroke-width="0.4">10</text><text transform="translate(96.6,180.5) scale(1.025,1)" font-size="13.60" text-anchor="end" stroke="#000" stroke-width="0.4">15</text><text transform="translate(96.6,153.3) scale(1.025,1)" font-size="13.60" text-anchor="end" stroke="#000" stroke-width="0.4">20</text><text transform="translate(96.6,126) scale(1.025,1)" font-size="13.60" text-anchor="end" stroke="#000" stroke-width="0.4">25</text><text transform="translate(96.6,98.8) scale(1.025,1)" font-size="13.60" text-anchor="end" stroke="#000" stroke-width="0.4">30</text><text transform="translate(96.6,71.5) scale(1.025,1)" font-size="13.60" text-anchor="end" stroke="#000" stroke-width="0.4">35</text><text transform="translate(96.6,44.3) scale(1.025,1)" font-size="13.60" text-anchor="end" stroke="#000" stroke-width="0.4">40</text>
<text transform="translate(104,289.7) scale(1.025,1)" font-size="13.60" text-anchor="middle" stroke="#000" stroke-width="0.4">350</text><text transform="translate(161.7,289.7) scale(1.025,1)" font-size="13.60" text-anchor="middle" stroke="#000" stroke-width="0.4">450</text><text transform="translate(219.4,289.7) scale(1.025,1)" font-size="13.60" text-anchor="middle" stroke="#000" stroke-width="0.4">550</text><text transform="translate(277.1,289.7) scale(1.025,1)" font-size="13.60" text-anchor="middle" stroke="#000" stroke-width="0.4">650</text><text transform="translate(334.8,289.7) scale(1.025,1)" font-size="13.60" text-anchor="middle" stroke="#000" stroke-width="0.4">750</text><text transform="translate(392.5,289.7) scale(1.025,1)" font-size="13.60" text-anchor="middle" stroke="#000" stroke-width="0.4">850</text>
<text transform="translate(248.5,309.2)" font-size="19" text-anchor="middle" textLength="150" lengthAdjust="spacingAndGlyphs" stroke="#000" stroke-width="0.3">Wavelength (nm)</text>
<text transform="translate(68.4,148.7) rotate(-90)" font-size="19" text-anchor="middle" textLength="124" lengthAdjust="spacingAndGlyphs" stroke="#000" stroke-width="0.3">Reflection (%)</text>
<text transform="translate(22.8,50) scale(0.960,1)" font-size="31" stroke="#000" stroke-width="0.3">(a)</text>
<path d="M139.7 65.4L139.7 148.6" stroke="#222" stroke-width="0.8"/>
<path d="M139.7 148.6L236.2 148.6" stroke="#222" stroke-width="0.8"/>
<path d="M139.7 148.6h-2M139.7 120.9h-2M139.7 93.1h-2M139.7 65.4h-2" stroke="#222" stroke-width="0.7" fill="none"/>
<path d="M139.7 148.6v2M159 148.6v2M178.3 148.6v2M197.6 148.6v2M216.9 148.6v2M236.2 148.6v2" stroke="#222" stroke-width="0.7" fill="none"/>
<text transform="translate(137.2,150.2)" font-size="6.60" text-anchor="end" stroke="#000" stroke-width="0.4">5.0</text><text transform="translate(137.2,122.5)" font-size="6.60" text-anchor="end" stroke="#000" stroke-width="0.4">5.5</text><text transform="translate(137.2,94.7)" font-size="6.60" text-anchor="end" stroke="#000" stroke-width="0.4">6.0</text><text transform="translate(137.2,67)" font-size="6.60" text-anchor="end" stroke="#000" stroke-width="0.4">6.5</text>
<text transform="translate(139.7,156.3)" font-size="6.60" text-anchor="middle" stroke="#000" stroke-width="0.4">450</text><text transform="translate(159,156.3)" font-size="6.60" text-anchor="middle" stroke="#000" stroke-width="0.4">500</text><text transform="translate(178.3,156.3)" font-size="6.60" text-anchor="middle" stroke="#000" stroke-width="0.4">550</text><text transform="translate(197.6,156.3)" font-size="6.60" text-anchor="middle" stroke="#000" stroke-width="0.4">600</text><text transform="translate(216.9,156.3)" font-size="6.60" text-anchor="middle" stroke="#000" stroke-width="0.4">650</text><text transform="translate(236.2,156.3)" font-size="6.60" text-anchor="middle" stroke="#000" stroke-width="0.4">700</text>
<path d="M187.8 85L187.8 147.5" stroke="#888" stroke-width="0.9" stroke-dasharray="3 2"/>
<path d="M213.5 85L213.5 147.5" stroke="#222" stroke-width="0.9" stroke-dasharray="3 2"/>
<path d="M139.7 91.5L140.5 92L141.3 92.6L142.1 93.3L142.9 93.9L143.8 94.6L144.6 95.3L145.4 96L146.2 96.7L147 97.5L147.8 98.2L148.6 99L149.4 99.8L150.2 100.6L151.1 101.5L151.9 102.4L152.7 103.3L153.5 104.3L154.3 105.4L155.1 106.5L155.9 107.6L156.7 108.7L157.5 109.8L158.4 110.9L159.2 112L160 113L160.8 114.1L161.6 115.1L162.4 116L163.2 117L164 117.8L164.8 118.8L165.6 119.7L166.5 120.7L167.3 121.5L168.1 122.3L168.9 123.1L169.7 123.6L170.5 124.1L171.3 124.4L172.1 124.6L172.9 124.9L173.8 125.1L174.6 125.2L175.4 125.3L176.2 125.3L177 125.2L177.8 125.1L178.6 124.9L179.4 124.6L180.2 124.4L181.1 124.1L181.9 123.8L182.7 123.4L183.5 122.9L184.3 122.3L185.1 121.7L185.9 121L186.7 120.3L187.5 119.7L188.4 119.2L189.2 118.8L190 118.4L190.8 118.1L191.6 117.8L192.4 117.5L193.2 117.2L194 116.8L194.8 116.5L195.7 116L196.5 115.5L197.3 114.9L198.1 114.1L198.9 113.4L199.7 112.5L200.5 111.6L201.3 110.8L202.1 109.9L203 109.1L203.8 108.3L204.6 107.5L205.4 106.7L206.2 105.9L207 105.2L207.8 104.4L208.6 103.8L209.4 103.2L210.3 102.7L211.1 102.1L211.9 101.6L212.7 101.3L213.5 101.2L214.3 101.3L215.1 101.7L215.9 102.2L216.7 102.7L217.5 103.3L218.4 104.2L219.2 105.4L220 106.6L220.8 107.7L221.6 108.4L222.4 108.7L223.2 108.7L224 108.7L224.8 108.7L225.7 108.4L226.5 107.9L227.3 107L228.1 106L228.9 104.9L229.7 103.8L230.5 102.7L231.3 101.5L232.1 100.1L233 98.6L233.8 97L234.6 95.2L235.4 93.1L236.2 90.9" fill="none" stroke="#111" stroke-width="0.9"/>
<text transform="translate(168.7,81.3)" font-size="10.60" textLength="66.3" lengthAdjust="spacingAndGlyphs" stroke="#000" stroke-width="0.3">PBDB-T peak</text>
<text transform="translate(189,167.5)" font-size="11.40" text-anchor="middle" textLength="89.5" lengthAdjust="spacingAndGlyphs" stroke="#000" stroke-width="0.3">Wavelength (nm)</text>
<text transform="translate(121.8,105) rotate(-90)" font-size="12.40" text-anchor="middle" textLength="32.5" lengthAdjust="spacingAndGlyphs" stroke="#000" stroke-width="0.3">R (%)</text>
</g>
<g id="panel_b">
<clipPath id="cb"><rect x="512.5" y="39.9" width="288.4" height="231.5"/></clipPath>
<path d="M512.5 191.5L514.2 193.8L515.9 195.8L517.6 197.6L519.3 199L521 200.3L522.7 201.4L524.4 202.4L526.1 203.3L527.9 204.1L529.6 204.9L531.3 205.7L533 206.4L534.7 207L536.4 207.5L538.1 207.9L539.8 208.3L541.5 208.7L543.2 209L544.9 209.4L546.6 209.7L548.3 210L550 210.2L551.7 210.5L553.4 210.7L555.2 210.9L556.9 211.1L558.6 211.3L560.3 211.5L562 211.6L563.7 211.7L565.4 211.8L567.1 211.9L568.8 212.1L570.5 212.2L572.2 212.2L573.9 212.3L575.6 212.4L577.3 212.5L579 212.6L580.7 212.7L582.5 212.7L584.2 212.8L585.9 212.9L587.6 212.9L589.3 213L591 213L592.7 213.1L594.4 213.2L596.1 213.2L597.8 213.3L599.5 213.3L601.2 213.4L602.9 213.5L604.6 213.5L606.3 213.6L608 213.7L609.8 213.8L611.5 213.8L613.2 213.9L614.9 214L616.6 214L618.3 214.1L620 214.1L621.7 214.1L623.4 214.2L625.1 214.2L626.8 214.2L628.5 214.2L630.2 214.2L631.9 214.1L633.6 214.1L635.3 214L637.1 214L638.8 213.9L640.5 213.9L642.2 213.8L643.9 213.7L645.6 213.7L647.3 213.6L649 213.5L650.7 213.4L652.4 213.4L654.1 213.3L655.8 213.2L657.5 213.1L659.2 212.9L660.9 212.8L662.6 212.7L664.4 212.6L666.1 212.4L667.8 212.3L669.5 212.2L671.2 212L672.9 211.9L674.6 211.8L676.3 211.7L678 211.6L679.7 211.5L681.4 211.4L683.1 211.4L684.8 211.3L686.5 211.2L688.2 211.2L689.9 211.1L691.7 211L693.4 210.9L695.1 210.8L696.8 210.8L698.5 210.6L700.2 210.5L701.9 210.4L703.6 210.2L705.3 210L707 209.7L708.7 209.4L710.4 209L712.1 208.7L713.8 208.5L715.5 208.3L717.2 208.2L719 208L720.7 207.9L722.4 207.8L724.1 207.5L725.8 207.1L727.5 206L729.2 204.6L730.9 202.9L732.6 201L734.3 198.6L736 195.4L737.7 191.9L739.4 188.2L741.1 184.3L742.8 180L744.5 175.8L746.3 171.5L748 167.5L749.7 164.5L751.4 161.9L753.1 159.7L754.8 157.8L756.5 156.3L758.2 154.9L759.9 153.8L761.6 153.2L763.3 152.9L765 152.6L766.7 152.3L768.4 152.2L770.1 152.2L771.8 152.2L773.6 152.2L775.3 152.2L777 152.3L778.7 152.4L780.4 152.5L782.1 152.6L783.8 152.8L785.5 153L787.2 153.2L788.9 153.5L790.6 153.8L792.3 154.1L794 154.5L795.7 154.9L797.4 155.4L799.1 155.9L800.9 156.5" fill="none" stroke="#7F00FF" stroke-width="1.7" clip-path="url(#cb)"/>
<path d="M512.5 186.3L514.2 187.1L515.9 187.9L517.6 188.6L519.3 189.3L521 190L522.7 190.7L524.4 191.3L526.1 191.9L527.9 192.4L529.6 193L531.3 193.5L533 194L534.7 194.4L536.4 194.7L538.1 194.9L539.8 195L541.5 195.2L543.2 195.3L544.9 195.4L546.6 195.5L548.3 195.6L550 195.6L551.7 195.7L553.4 195.8L555.2 195.8L556.9 195.9L558.6 196L560.3 196L562 196.1L563.7 196.2L565.4 196.3L567.1 196.4L568.8 196.5L570.5 196.5L572.2 196.6L573.9 196.7L575.6 196.8L577.3 196.8L579 196.9L580.7 197L582.5 197.1L584.2 197.2L585.9 197.4L587.6 197.5L589.3 197.7L591 197.9L592.7 198.2L594.4 198.6L596.1 198.9L597.8 199.3L599.5 199.8L601.2 200.3L602.9 200.7L604.6 201.3L606.3 201.8L608 202.3L609.8 202.8L611.5 203.4L613.2 203.9L614.9 204.4L616.6 204.9L618.3 205.4L620 205.9L621.7 206.5L623.4 207.2L625.1 207.8L626.8 208.4L628.5 209.1L630.2 209.7L631.9 210.3L633.6 210.8L635.3 211.3L637.1 211.7L638.8 212L640.5 212.2L642.2 212.5L643.9 212.7L645.6 212.9L647.3 213.1L649 213.3L650.7 213.5L652.4 213.6L654.1 213.7L655.8 213.7L657.5 213.7L659.2 213.6L660.9 213.3L662.6 213L664.4 212.6L666.1 212.2L667.8 211.7L669.5 211.2L671.2 210.8L672.9 210.3L674.6 210L676.3 209.7L678 209.5L679.7 209.4L681.4 209.5L683.1 209.7L684.8 210L686.5 210.3L688.2 210.7L689.9 211L691.7 211.2L693.4 211.4L695.1 211.4L696.8 211.2L698.5 211L700.2 210.6L701.9 210.1L703.6 209.6L705.3 208.9L707 207.9L708.7 206.2L710.4 204.1L712.1 201.7L713.8 198.7L715.5 195.4L717.2 191.8L719 187.7L720.7 183.7L722.4 179.5L724.1 175L725.8 170.6L727.5 166.6L729.2 163.3L730.9 160.7L732.6 158.5L734.3 156.7L736 155.2L737.7 153.9L739.4 152.9L741.1 152L742.8 151.1L744.5 150.3L746.3 149.5L748 148.9L749.7 148.4L751.4 148.2L753.1 148.2L754.8 148.2L756.5 148.2L758.2 148.2L759.9 148.2L761.6 148.2L763.3 148.2L765 148.2L766.7 148.3L768.4 148.3L770.1 148.3L771.8 148.3L773.6 148.4L775.3 148.4L777 148.5L778.7 148.6L780.4 148.6L782.1 148.7L783.8 148.8L785.5 148.9L787.2 149.1L788.9 149.2L790.6 149.3L792.3 149.5L794 149.7L795.7 149.9L797.4 150.1L799.1 150.3L800.9 150.5" fill="none" stroke="#C48CFF" stroke-width="1.1" clip-path="url(#cb)"/>
<path d="M512.5 187.9L514.2 188.8L515.9 189.6L517.6 190.4L519.3 191.2L521 191.9L522.7 192.6L524.4 193.3L526.1 193.8L527.9 194.4L529.6 195L531.3 195.5L533 195.9L534.7 196.3L536.4 196.6L538.1 196.9L539.8 197L541.5 197.2L543.2 197.3L544.9 197.4L546.6 197.5L548.3 197.6L550 197.7L551.7 197.8L553.4 197.9L555.2 198L556.9 198L558.6 198.1L560.3 198.2L562 198.3L563.7 198.4L565.4 198.5L567.1 198.5L568.8 198.6L570.5 198.7L572.2 198.8L573.9 198.8L575.6 198.9L577.3 199L579 199.1L580.7 199.2L582.5 199.3L584.2 199.4L585.9 199.5L587.6 199.7L589.3 199.8L591 200.1L592.7 200.3L594.4 200.6L596.1 201L597.8 201.4L599.5 201.8L601.2 202.2L602.9 202.6L604.6 203.1L606.3 203.6L608 204L609.8 204.5L611.5 205L613.2 205.5L614.9 205.9L616.6 206.3L618.3 206.8L620 207.3L621.7 207.8L623.4 208.4L625.1 209L626.8 209.5L628.5 210.1L630.2 210.6L631.9 211.1L633.6 211.6L635.3 212L637.1 212.3L638.8 212.6L640.5 212.8L642.2 213L643.9 213.2L645.6 213.3L647.3 213.5L649 213.6L650.7 213.8L652.4 213.9L654.1 213.9L655.8 214L657.5 214L659.2 213.9L660.9 213.7L662.6 213.4L664.4 213.1L666.1 212.7L667.8 212.3L669.5 211.9L671.2 211.5L672.9 211.2L674.6 210.9L676.3 210.6L678 210.5L679.7 210.4L681.4 210.5L683.1 210.6L684.8 210.9L686.5 211.2L688.2 211.5L689.9 211.7L691.7 211.9L693.4 212.1L695.1 212.1L696.8 211.9L698.5 211.7L700.2 211.3L701.9 210.9L703.6 210.4L705.3 209.8L707 209.2L708.7 208L710.4 206.4L712.1 204.5L713.8 202.3L715.5 199.4L717.2 196.1L719 192.6L720.7 188.6L722.4 184.6L724.1 180.3L725.8 175.6L727.5 170.9L729.2 166.6L730.9 163.2L732.6 160.6L734.3 158.4L736 156.6L737.7 155.2L739.4 153.9L741.1 153L742.8 152.2L744.5 151.4L746.3 150.7L748 150.1L749.7 149.6L751.4 149.3L753.1 149.3L754.8 149.3L756.5 149.3L758.2 149.3L759.9 149.3L761.6 149.3L763.3 149.3L765 149.3L766.7 149.3L768.4 149.3L770.1 149.4L771.8 149.4L773.6 149.5L775.3 149.5L777 149.6L778.7 149.6L780.4 149.7L782.1 149.8L783.8 149.9L785.5 150L787.2 150.2L788.9 150.3L790.6 150.5L792.3 150.6L794 150.8L795.7 151L797.4 151.2L799.1 151.5L800.9 151.7" fill="none" stroke="#B880FF" stroke-width="1.1" clip-path="url(#cb)"/>
<path d="M512.5 189.6L514.2 190.5L515.9 191.4L517.6 192.2L519.3 193L521 193.8L522.7 194.6L524.4 195.3L526.1 195.8L527.9 196.4L529.6 196.9L531.3 197.5L533 197.9L534.7 198.3L536.4 198.6L538.1 198.9L539.8 199L541.5 199.2L543.2 199.3L544.9 199.5L546.6 199.6L548.3 199.7L550 199.8L551.7 199.9L553.4 200L555.2 200.1L556.9 200.2L558.6 200.2L560.3 200.3L562 200.4L563.7 200.5L565.4 200.6L567.1 200.7L568.8 200.8L570.5 200.9L572.2 200.9L573.9 201L575.6 201.1L577.3 201.2L579 201.3L580.7 201.3L582.5 201.4L584.2 201.6L585.9 201.7L587.6 201.8L589.3 202L591 202.2L592.7 202.4L594.4 202.7L596.1 203L597.8 203.4L599.5 203.8L601.2 204.1L602.9 204.5L604.6 205L606.3 205.4L608 205.8L609.8 206.2L611.5 206.6L613.2 207L614.9 207.4L616.6 207.8L618.3 208.2L620 208.7L621.7 209.1L623.4 209.6L625.1 210.1L626.8 210.6L628.5 211.1L630.2 211.5L631.9 211.9L633.6 212.3L635.3 212.7L637.1 213L638.8 213.2L640.5 213.3L642.2 213.5L643.9 213.6L645.6 213.7L647.3 213.9L649 214L650.7 214.1L652.4 214.1L654.1 214.2L655.8 214.2L657.5 214.2L659.2 214.1L660.9 214L662.6 213.8L664.4 213.5L666.1 213.2L667.8 212.9L669.5 212.6L671.2 212.3L672.9 212L674.6 211.8L676.3 211.6L678 211.5L679.7 211.4L681.4 211.5L683.1 211.6L684.8 211.8L686.5 212L688.2 212.2L689.9 212.5L691.7 212.6L693.4 212.7L695.1 212.7L696.8 212.6L698.5 212.4L700.2 212.1L701.9 211.7L703.6 211.2L705.3 210.7L707 210.1L708.7 209.4L710.4 208.2L712.1 206.7L713.8 205L715.5 202.9L717.2 200L719 196.9L720.7 193.4L722.4 189.5L724.1 185.5L725.8 181.1L727.5 176.2L729.2 171.2L730.9 166.6L732.6 163.1L734.3 160.4L736 158.2L737.7 156.5L739.4 155.1L741.1 154L742.8 153.2L744.5 152.5L746.3 151.9L748 151.3L749.7 150.8L751.4 150.5L753.1 150.3L754.8 150.3L756.5 150.3L758.2 150.3L759.9 150.3L761.6 150.4L763.3 150.4L765 150.4L766.7 150.4L768.4 150.4L770.1 150.5L771.8 150.5L773.6 150.5L775.3 150.6L777 150.7L778.7 150.7L780.4 150.8L782.1 150.9L783.8 151L785.5 151.1L787.2 151.3L788.9 151.4L790.6 151.6L792.3 151.8L794 152L795.7 152.2L797.4 152.4L799.1 152.7L800.9 153" fill="none" stroke="#AC70FF" stroke-width="1.1" clip-path="url(#cb)"/>
<path d="M512.5 191.2L514.2 192.2L515.9 193.1L517.6 194L519.3 194.9L521 195.7L522.7 196.5L524.4 197.2L526.1 197.8L527.9 198.4L529.6 198.9L531.3 199.4L533 199.9L534.7 200.3L536.4 200.6L538.1 200.8L539.8 201L541.5 201.2L543.2 201.4L544.9 201.5L546.6 201.7L548.3 201.8L550 201.9L551.7 202L553.4 202.1L555.2 202.2L556.9 202.3L558.6 202.4L560.3 202.5L562 202.6L563.7 202.7L565.4 202.8L567.1 202.9L568.8 202.9L570.5 203L572.2 203.1L573.9 203.2L575.6 203.3L577.3 203.3L579 203.4L580.7 203.5L582.5 203.6L584.2 203.7L585.9 203.8L587.6 204L589.3 204.1L591 204.3L592.7 204.6L594.4 204.8L596.1 205.1L597.8 205.4L599.5 205.7L601.2 206.1L602.9 206.4L604.6 206.8L606.3 207.2L608 207.5L609.8 207.9L611.5 208.3L613.2 208.6L614.9 209L616.6 209.3L618.3 209.7L620 210L621.7 210.4L623.4 210.8L625.1 211.3L626.8 211.7L628.5 212.1L630.2 212.4L631.9 212.8L633.6 213.1L635.3 213.4L637.1 213.6L638.8 213.8L640.5 213.9L642.2 214L643.9 214.1L645.6 214.2L647.3 214.2L649 214.3L650.7 214.4L652.4 214.4L654.1 214.5L655.8 214.5L657.5 214.5L659.2 214.4L660.9 214.3L662.6 214.1L664.4 213.9L666.1 213.7L667.8 213.5L669.5 213.3L671.2 213L672.9 212.8L674.6 212.7L676.3 212.5L678 212.4L679.7 212.4L681.4 212.4L683.1 212.5L684.8 212.7L686.5 212.9L688.2 213L689.9 213.2L691.7 213.3L693.4 213.4L695.1 213.4L696.8 213.3L698.5 213.1L700.2 212.8L701.9 212.4L703.6 212L705.3 211.5L707 211L708.7 210.4L710.4 209.6L712.1 208.5L713.8 207.1L715.5 205.6L717.2 203.5L719 200.7L720.7 197.6L722.4 194.2L724.1 190.4L725.8 186.4L727.5 182L729.2 176.8L730.9 171.5L732.6 166.6L734.3 162.9L736 160.3L737.7 158.1L739.4 156.5L741.1 155.1L742.8 154.2L744.5 153.5L746.3 152.9L748 152.4L749.7 152L751.4 151.7L753.1 151.5L754.8 151.4L756.5 151.4L758.2 151.4L759.9 151.4L761.6 151.4L763.3 151.4L765 151.4L766.7 151.5L768.4 151.5L770.1 151.5L771.8 151.6L773.6 151.6L775.3 151.7L777 151.7L778.7 151.8L780.4 151.9L782.1 152L783.8 152.1L785.5 152.2L787.2 152.4L788.9 152.5L790.6 152.7L792.3 152.9L794 153.1L795.7 153.4L797.4 153.6L799.1 153.9L800.9 154.2" fill="none" stroke="#A060FF" stroke-width="1.1" clip-path="url(#cb)"/>
<path d="M512.5 192.9L514.2 193.9L515.9 194.9L517.6 195.8L519.3 196.7L521 197.6L522.7 198.5L524.4 199.2L526.1 199.8L527.9 200.4L529.6 200.9L531.3 201.4L533 201.9L534.7 202.3L536.4 202.6L538.1 202.8L539.8 203L541.5 203.2L543.2 203.4L544.9 203.6L546.6 203.7L548.3 203.8L550 204L551.7 204.1L553.4 204.2L555.2 204.3L556.9 204.4L558.6 204.5L560.3 204.6L562 204.7L563.7 204.8L565.4 204.9L567.1 205L568.8 205.1L570.5 205.2L572.2 205.3L573.9 205.3L575.6 205.4L577.3 205.5L579 205.6L580.7 205.7L582.5 205.8L584.2 205.9L585.9 206L587.6 206.1L589.3 206.3L591 206.5L592.7 206.7L594.4 206.9L596.1 207.2L597.8 207.4L599.5 207.7L601.2 208L602.9 208.3L604.6 208.6L606.3 209L608 209.3L609.8 209.6L611.5 209.9L613.2 210.2L614.9 210.5L616.6 210.8L618.3 211.1L620 211.4L621.7 211.7L623.4 212.1L625.1 212.4L626.8 212.7L628.5 213.1L630.2 213.4L631.9 213.6L633.6 213.9L635.3 214.1L637.1 214.3L638.8 214.4L640.5 214.4L642.2 214.5L643.9 214.5L645.6 214.6L647.3 214.6L649 214.6L650.7 214.7L652.4 214.7L654.1 214.7L655.8 214.7L657.5 214.7L659.2 214.7L660.9 214.6L662.6 214.5L664.4 214.4L666.1 214.2L667.8 214.1L669.5 213.9L671.2 213.8L672.9 213.7L674.6 213.6L676.3 213.5L678 213.4L679.7 213.4L681.4 213.4L683.1 213.5L684.8 213.6L686.5 213.7L688.2 213.8L689.9 213.9L691.7 214L693.4 214.1L695.1 214L696.8 213.9L698.5 213.8L700.2 213.5L701.9 213.2L703.6 212.8L705.3 212.3L707 211.9L708.7 211.4L710.4 210.7L712.1 209.9L713.8 208.8L715.5 207.6L717.2 206.1L719 204.1L720.7 201.3L722.4 198.3L724.1 195L725.8 191.3L727.5 187.3L729.2 182.9L730.9 177.4L732.6 171.7L734.3 166.6L736 162.8L737.7 160.1L739.4 158L741.1 156.4L742.8 155.2L744.5 154.4L746.3 153.9L748 153.5L749.7 153.1L751.4 152.8L753.1 152.6L754.8 152.5L756.5 152.5L758.2 152.5L759.9 152.5L761.6 152.5L763.3 152.5L765 152.5L766.7 152.5L768.4 152.6L770.1 152.6L771.8 152.6L773.6 152.7L775.3 152.7L777 152.8L778.7 152.9L780.4 153L782.1 153.1L783.8 153.2L785.5 153.3L787.2 153.5L788.9 153.7L790.6 153.8L792.3 154.1L794 154.3L795.7 154.5L797.4 154.8L799.1 155.1L800.9 155.4" fill="none" stroke="#9A50FF" stroke-width="1.1" clip-path="url(#cb)"/>
<path d="M512.5 174.3L514.2 178L515.9 181.3L517.6 184.1L519.3 186.2L521 188.1L522.7 189.7L524.4 191L526.1 192.2L527.9 193.2L529.6 194.3L531.3 195.2L533 196L534.7 196.7L536.4 197.2L538.1 197.5L539.8 197.8L541.5 198L543.2 198.1L544.9 198.3L546.6 198.4L548.3 198.5L550 198.6L551.7 198.7L553.4 198.8L555.2 198.9L556.9 199L558.6 199.1L560.3 199.2L562 199.4L563.7 199.6L565.4 199.8L567.1 200.1L568.8 200.3L570.5 200.6L572.2 201L573.9 201.3L575.6 201.7L577.3 202.1L579 202.5L580.7 202.9L582.5 203.3L584.2 203.8L585.9 204.2L587.6 204.7L589.3 205.1L591 205.7L592.7 206.2L594.4 206.8L596.1 207.5L597.8 208.1L599.5 208.7L601.2 209.3L602.9 209.9L604.6 210.4L606.3 210.9L608 211.3L609.8 211.8L611.5 212.3L613.2 212.7L614.9 213.1L616.6 213.5L618.3 213.8L620 214L621.7 214.1L623.4 214L625.1 213.7L626.8 213.3L628.5 212.7L630.2 212.1L631.9 211.4L633.6 210.7L635.3 210L637.1 209.2L638.8 208.3L640.5 207.3L642.2 206.3L643.9 205.2L645.6 204L647.3 202.7L649 201.4L650.7 200.1L652.4 198.7L654.1 197.2L655.8 195.6L657.5 193.8L659.2 192L660.9 190.1L662.6 188.1L664.4 186.1L666.1 184.1L667.8 182L669.5 179.6L671.2 177.2L672.9 174.9L674.6 172.9L676.3 171.2L678 169.5L679.7 168.5L681.4 168.4L683.1 168.5L684.8 168.7L686.5 168.9L688.2 169L689.9 169.2L691.7 169.4L693.4 169.6L695.1 169.7L696.8 169.5L698.5 169L700.2 168.1L701.9 167.2L703.6 166.1L705.3 164.8L707 163L708.7 160.8L710.4 158.5L712.1 156.1L713.8 153.8L715.5 151.7L717.2 149.6L719 147.5L720.7 145.4L722.4 143.3L724.1 141.1L725.8 138.9L727.5 136.6L729.2 134.2L730.9 131.7L732.6 129.1L734.3 126.5L736 123.7L737.7 120.7L739.4 117.5L741.1 113.9L742.8 109.6L744.5 104.8L746.3 99.9L748 95.2L749.7 90.8L751.4 87.2L753.1 83.9L754.8 80.9L756.5 78.5L758.2 76.8L759.9 75.3L761.6 74.1L763.3 73.3L765 73.1L766.7 73.2L768.4 73.5L770.1 73.9L771.8 74.3L773.6 74.7L775.3 75.2L777 75.8L778.7 76.5L780.4 77.2L782.1 77.9L783.8 78.7L785.5 79.5L787.2 80.3L788.9 81.2L790.6 82.1L792.3 83L794 84L795.7 85L797.4 86.1L799.1 87.2L800.9 88.3" fill="none" stroke="#FF9CFF" stroke-width="1.1" clip-path="url(#cb)"/>
<path d="M512.5 170.4L514.2 174.5L515.9 178.2L517.6 181.3L519.3 183.7L521 185.8L522.7 187.5L524.4 189L526.1 190.3L527.9 191.4L529.6 192.5L531.3 193.6L533 194.5L534.7 195.2L536.4 195.8L538.1 196.2L539.8 196.5L541.5 196.8L543.2 197L544.9 197.2L546.6 197.3L548.3 197.5L550 197.6L551.7 197.7L553.4 197.8L555.2 198L556.9 198.1L558.6 198.3L560.3 198.5L562 198.7L563.7 198.9L565.4 199.2L567.1 199.6L568.8 199.9L570.5 200.3L572.2 200.7L573.9 201.2L575.6 201.7L577.3 202.2L579 202.7L580.7 203.2L582.5 203.7L584.2 204.2L585.9 204.8L587.6 205.3L589.3 205.9L591 206.5L592.7 207.1L594.4 207.8L596.1 208.5L597.8 209.2L599.5 209.9L601.2 210.5L602.9 211.1L604.6 211.7L606.3 212.2L608 212.7L609.8 213.2L611.5 213.7L613.2 214.2L614.9 214.6L616.6 215L618.3 215.2L620 215.4L621.7 215.3L623.4 215.1L625.1 214.5L626.8 213.8L628.5 213.1L630.2 212.3L631.9 211.5L633.6 210.7L635.3 209.9L637.1 208.9L638.8 207.9L640.5 206.9L642.2 205.8L643.9 204.6L645.6 203.4L647.3 202.1L649 200.8L650.7 199.5L652.4 198L654.1 196.5L655.8 194.8L657.5 192.9L659.2 191L660.9 189L662.6 186.9L664.4 184.9L666.1 182.8L667.8 180.6L669.5 178.3L671.2 175.8L672.9 173.5L674.6 171.6L676.3 169.9L678 168.2L679.7 167.1L681.4 167.1L683.1 167.2L684.8 167.3L686.5 167.5L688.2 167.7L689.9 167.9L691.7 168.1L693.4 168.3L695.1 168.4L696.8 168.2L698.5 167.7L700.2 167L701.9 166.1L703.6 165.1L705.3 163.9L707 162.1L708.7 160L710.4 157.7L712.1 155.4L713.8 153.1L715.5 151L717.2 149L719 146.9L720.7 144.8L722.4 142.7L724.1 140.5L725.8 138.3L727.5 136L729.2 133.5L730.9 131L732.6 128.3L734.3 125.6L736 122.7L737.7 119.5L739.4 116.2L741.1 112.5L742.8 108L744.5 103L746.3 97.9L748 92.9L749.7 88.3L751.4 84.5L753.1 81L754.8 77.8L756.5 75.2L758.2 73.4L759.9 71.8L761.6 70.5L763.3 69.8L765 69.8L766.7 69.9L768.4 70.2L770.1 70.6L771.8 71L773.6 71.4L775.3 72L777 72.6L778.7 73.4L780.4 74.2L782.1 75.1L783.8 76L785.5 76.8L787.2 77.7L788.9 78.5L790.6 79.4L792.3 80.3L794 81.2L795.7 82.1L797.4 83L799.1 84L800.9 85" fill="none" stroke="#FF90FF" stroke-width="1.1" clip-path="url(#cb)"/>
<path d="M512.5 183.6L514.2 185.4L515.9 187L517.6 188.4L519.3 189.6L521 190.7L522.7 191.7L524.4 192.5L526.1 193.3L527.9 194L529.6 194.6L531.3 195.3L533 195.8L534.7 196.3L536.4 196.6L538.1 196.9L539.8 197L541.5 197.1L543.2 197.3L544.9 197.4L546.6 197.4L548.3 197.5L550 197.6L551.7 197.6L553.4 197.7L555.2 197.8L556.9 197.8L558.6 197.9L560.3 198L562 198.1L563.7 198.2L565.4 198.3L567.1 198.5L568.8 198.6L570.5 198.8L572.2 198.9L573.9 199.1L575.6 199.2L577.3 199.4L579 199.6L580.7 199.8L582.5 200L584.2 200.3L585.9 200.5L587.6 200.7L589.3 201L591 201.3L592.7 201.7L594.4 202.1L596.1 202.5L597.8 203L599.5 203.5L601.2 204L602.9 204.5L604.6 205L606.3 205.5L608 206L609.8 206.5L611.5 207L613.2 207.6L614.9 208.2L616.6 208.9L618.3 209.5L620 210.1L621.7 210.7L623.4 211.2L625.1 211.6L626.8 211.9L628.5 212.1L630.2 212.3L631.9 212.4L633.6 212.5L635.3 212.6L637.1 212.7L638.8 212.7L640.5 212.7L642.2 212.5L643.9 212.1L645.6 211.6L647.3 211L649 210.4L650.7 209.7L652.4 209L654.1 208.1L655.8 207L657.5 205.7L659.2 204.3L660.9 202.8L662.6 201.3L664.4 199.7L666.1 198.2L667.8 196.6L669.5 194.9L671.2 193.1L672.9 191.4L674.6 189.9L676.3 188.8L678 187.7L679.7 187L681.4 186.9L683.1 186.9L684.8 186.9L686.5 187L688.2 187.4L689.9 187.9L691.7 188.5L693.4 188.9L695.1 188.8L696.8 188.5L698.5 187.8L700.2 187.1L701.9 186L703.6 184.2L705.3 182.1L707 180.1L708.7 178.2L710.4 176.3L712.1 174.4L713.8 172.3L715.5 170.2L717.2 167.9L719 165.5L720.7 163.1L722.4 160.7L724.1 158.2L725.8 155.7L727.5 153.1L729.2 150.4L730.9 147.8L732.6 145.2L734.3 142.7L736 140.4L737.7 138L739.4 135.6L741.1 133.3L742.8 131L744.5 128.9L746.3 126.9L748 125.1L749.7 123.6L751.4 122.1L753.1 120.7L754.8 119.4L756.5 118.3L758.2 117.4L759.9 116.7L761.6 116.1L763.3 115.6L765 115.3L766.7 115.2L768.4 115.3L770.1 115.5L771.8 115.7L773.6 116L775.3 116.3L777 116.5L778.7 116.8L780.4 117.1L782.1 117.4L783.8 117.7L785.5 118.1L787.2 118.5L788.9 118.9L790.6 119.3L792.3 119.7L794 120.2L795.7 120.7L797.4 121.2L799.1 121.7L800.9 122.2" fill="none" stroke="#FF60FF" stroke-width="1.1" clip-path="url(#cb)"/>
<path d="M512.5 185.6L514.2 186.4L515.9 187.2L517.6 188L519.3 188.7L521 189.4L522.7 190L524.4 190.6L526.1 191.2L527.9 191.7L529.6 192.3L531.3 192.8L533 193.3L534.7 193.7L536.4 194L538.1 194.2L539.8 194.4L541.5 194.5L543.2 194.6L544.9 194.7L546.6 194.8L548.3 194.9L550 195L551.7 195L553.4 195.1L555.2 195.2L556.9 195.2L558.6 195.3L560.3 195.4L562 195.5L563.7 195.6L565.4 195.6L567.1 195.7L568.8 195.8L570.5 195.9L572.2 195.9L573.9 196L575.6 196.1L577.3 196.2L579 196.3L580.7 196.4L582.5 196.5L584.2 196.6L585.9 196.7L587.6 196.9L589.3 197L591 197.3L592.7 197.6L594.4 197.9L596.1 198.3L597.8 198.7L599.5 199.1L601.2 199.6L602.9 200.1L604.6 200.6L606.3 201.1L608 201.6L609.8 202.2L611.5 202.7L613.2 203.2L614.9 203.7L616.6 204.2L618.3 204.7L620 205.3L621.7 205.9L623.4 206.5L625.1 207.2L626.8 207.8L628.5 208.5L630.2 209.1L631.9 209.7L633.6 210.2L635.3 210.7L637.1 211L638.8 211.3L640.5 211.5L642.2 211.7L643.9 211.9L645.6 212.1L647.3 212.3L649 212.4L650.7 212.5L652.4 212.6L654.1 212.7L655.8 212.7L657.5 212.7L659.2 212.6L660.9 212.3L662.6 211.9L664.4 211.5L666.1 211L667.8 210.4L669.5 209.9L671.2 209.4L672.9 208.8L674.6 207.9L676.3 207.1L678 206.3L679.7 205.7L681.4 205.5L683.1 205.6L684.8 205.9L686.5 206.3L688.2 206.7L689.9 207.2L691.7 207.7L693.4 208L695.1 208.1L696.8 207.8L698.5 207.3L700.2 206.6L701.9 205.9L703.6 205L705.3 203.9L707 202.4L708.7 200.7L710.4 198.7L712.1 196.3L713.8 193.7L715.5 190.9L717.2 187.7L719 184.4L720.7 181L722.4 177.5L724.1 173.9L725.8 170.3L727.5 166.8L729.2 163.1L730.9 159.5L732.6 156.1L734.3 153.4L736 151.4L737.7 149.5L739.4 147.9L741.1 146.5L742.8 145.4L744.5 144.5L746.3 143.7L748 143L749.7 142.4L751.4 141.9L753.1 141.5L754.8 141.2L756.5 141L758.2 140.8L759.9 140.7L761.6 140.6L763.3 140.6L765 140.6L766.7 140.7L768.4 140.8L770.1 141L771.8 141.2L773.6 141.4L775.3 141.6L777 141.8L778.7 142L780.4 142.2L782.1 142.4L783.8 142.7L785.5 142.9L787.2 143.2L788.9 143.5L790.6 143.8L792.3 144.1L794 144.4L795.7 144.8L797.4 145.1L799.1 145.5L800.9 145.9" fill="none" stroke="#FF00FF" stroke-width="1.7" clip-path="url(#cb)"/>
<path d="M513.4 167.1L515.1 174.8L516.8 182.1L518.5 188.9L520.2 195.4L522 201.5L523.7 207.3L525.4 212.2L527.1 216.6L528.8 220L530.5 222.8L532.2 225.1L533.9 226.9L535.6 228.4L537.3 229.7L539 230.7L540.7 231.7L542.4 232.6L544.1 233.4L545.8 234.1L547.5 234.8L549.3 235.4L551 235.9L552.7 236.4L554.4 236.9L556.1 237.4L557.8 237.8L559.5 238.2L561.2 238.6L562.9 239L564.6 239.3L566.3 239.6L568 239.8L569.7 240L571.4 240.2L573.1 240.3L574.8 240.4L576.6 240.5L578.3 240.7L580 240.7L581.7 240.8L583.4 240.9L585.1 241L586.8 241.1L588.5 241.1L590.2 241.2L591.9 241.3L593.6 241.3L595.3 241.4L597 241.4L598.7 241.4L600.4 241.5L602.1 241.5L603.9 241.5L605.6 241.6L607.3 241.6L609 241.6L610.7 241.6L612.4 241.7L614.1 241.7L615.8 241.7L617.5 241.7L619.2 241.7L620.9 241.7L622.6 241.7L624.3 241.7L626 241.7L627.7 241.7L629.4 241.7L631.2 241.7L632.9 241.6L634.6 241.6L636.3 241.6L638 241.6L639.7 241.5L641.4 241.5L643.1 241.4L644.8 241.4L646.5 241.4L648.2 241.3L649.9 241.3L651.6 241.2L653.3 241.2L655 241.1L656.7 241.1L658.5 241L660.2 241L661.9 240.9L663.6 240.8L665.3 240.7L667 240.7L668.7 240.6L670.4 240.5L672.1 240.4L673.8 240.3L675.5 240.3L677.2 240.2L678.9 240.2L680.6 240.1L682.3 240.1L684 240.1L685.8 240.1L687.5 240L689.2 240L690.9 240L692.6 240L694.3 239.9L696 239.9L697.7 239.9L699.4 239.9L701.1 239.9L702.8 239.8L704.5 239.8L706.2 239.8L707.9 239.8L709.6 239.8L711.3 239.7L713 239.7L714.8 239.7L716.5 239.7L718.2 239.6L719.9 239.6L721.6 239.6L723.3 239.6L725 239.5L726.7 239.5L728.4 239.4L730.1 238.9L731.8 237.9L733.5 235.8L735.2 231.5L736.9 224.3L738.6 212.4L740.3 197.1L742.1 184.2L743.8 171.9L745.5 159.2L747.2 146.3L748.9 133.4L750.6 120.4L752.3 106.9L754 96.2L755.7 87.7L757.4 81L759.1 77.1L760.8 74.3L762.5 72L764.2 70.4L765.9 69.6L767.6 69.2L769.4 68.9L771.1 68.6L772.8 68.4L774.5 68.3L776.2 68.3L777.9 68.3L779.6 68.4L781.3 68.5L783 68.6L784.7 68.8L786.4 69L788.1 69.2L789.8 69.4L791.5 69.6L793.2 69.8L794.9 70.1L796.7 70.4L798.4 70.7L800.1 71L801.8 71.4" fill="none" stroke="#FF8000" stroke-width="1.1" clip-path="url(#cb)"/>
<path d="M513 167.1L514.7 174.8L516.4 182.1L518.1 188.9L519.8 195.4L521.5 201.5L523.2 207.3L524.9 212.2L526.6 216.6L528.3 220L530 222.8L531.7 225.1L533.4 226.9L535.1 228.4L536.8 229.7L538.6 230.7L540.3 231.7L542 232.6L543.7 233.4L545.4 234.1L547.1 234.8L548.8 235.4L550.5 235.9L552.2 236.4L553.9 236.9L555.6 237.4L557.3 237.8L559 238.2L560.7 238.6L562.4 239L564.1 239.3L565.9 239.6L567.6 239.8L569.3 240L571 240.2L572.7 240.3L574.4 240.4L576.1 240.5L577.8 240.7L579.5 240.7L581.2 240.8L582.9 240.9L584.6 241L586.3 241.1L588 241.1L589.7 241.2L591.4 241.3L593.2 241.3L594.9 241.4L596.6 241.4L598.3 241.4L600 241.5L601.7 241.5L603.4 241.5L605.1 241.6L606.8 241.6L608.5 241.6L610.2 241.6L611.9 241.7L613.6 241.7L615.3 241.7L617 241.7L618.7 241.7L620.5 241.7L622.2 241.7L623.9 241.7L625.6 241.7L627.3 241.7L629 241.7L630.7 241.7L632.4 241.6L634.1 241.6L635.8 241.6L637.5 241.6L639.2 241.5L640.9 241.5L642.6 241.4L644.3 241.4L646 241.4L647.8 241.3L649.5 241.3L651.2 241.2L652.9 241.2L654.6 241.1L656.3 241.1L658 241L659.7 241L661.4 240.9L663.1 240.8L664.8 240.7L666.5 240.7L668.2 240.6L669.9 240.5L671.6 240.4L673.3 240.3L675.1 240.3L676.8 240.2L678.5 240.2L680.2 240.1L681.9 240.1L683.6 240.1L685.3 240.1L687 240L688.7 240L690.4 240L692.1 240L693.8 239.9L695.5 239.9L697.2 239.9L698.9 239.9L700.6 239.9L702.4 239.8L704.1 239.8L705.8 239.8L707.5 239.8L709.2 239.8L710.9 239.7L712.6 239.7L714.3 239.7L716 239.7L717.7 239.6L719.4 239.6L721.1 239.6L722.8 239.6L724.5 239.5L726.2 239.5L727.9 239.4L729.7 238.9L731.4 237.9L733.1 235.8L734.8 231.5L736.5 224.3L738.2 212.4L739.9 197.1L741.6 184.2L743.3 171.9L745 159.2L746.7 146.3L748.4 133.4L750.1 120.4L751.8 106.9L753.5 96.2L755.2 87.6L756.9 80.8L758.7 76.7L760.4 73.8L762.1 71.3L763.8 69.6L765.5 68.6L767.2 68L768.9 67.6L770.6 67.2L772.3 66.9L774 66.7L775.7 66.6L777.4 66.6L779.1 66.7L780.8 66.8L782.5 67L784.2 67.1L786 67.3L787.7 67.5L789.4 67.7L791.1 67.9L792.8 68.1L794.5 68.4L796.2 68.7L797.9 69L799.6 69.4L801.3 69.7" fill="none" stroke="#FF8000" stroke-width="1.1" clip-path="url(#cb)"/>
<path d="M512.5 167.1L514.2 174.8L515.9 182.1L517.6 188.9L519.3 195.4L521 201.5L522.7 207.3L524.4 212.2L526.1 216.6L527.9 220L529.6 222.8L531.3 225.1L533 226.9L534.7 228.4L536.4 229.7L538.1 230.7L539.8 231.7L541.5 232.6L543.2 233.4L544.9 234.1L546.6 234.8L548.3 235.4L550 235.9L551.7 236.4L553.4 236.9L555.2 237.4L556.9 237.8L558.6 238.2L560.3 238.6L562 239L563.7 239.3L565.4 239.6L567.1 239.8L568.8 240L570.5 240.2L572.2 240.3L573.9 240.4L575.6 240.5L577.3 240.7L579 240.7L580.7 240.8L582.5 240.9L584.2 241L585.9 241.1L587.6 241.1L589.3 241.2L591 241.3L592.7 241.3L594.4 241.4L596.1 241.4L597.8 241.4L599.5 241.5L601.2 241.5L602.9 241.5L604.6 241.6L606.3 241.6L608 241.6L609.8 241.6L611.5 241.7L613.2 241.7L614.9 241.7L616.6 241.7L618.3 241.7L620 241.7L621.7 241.7L623.4 241.7L625.1 241.7L626.8 241.7L628.5 241.7L630.2 241.7L631.9 241.6L633.6 241.6L635.3 241.6L637.1 241.6L638.8 241.5L640.5 241.5L642.2 241.4L643.9 241.4L645.6 241.4L647.3 241.3L649 241.3L650.7 241.2L652.4 241.2L654.1 241.1L655.8 241.1L657.5 241L659.2 241L660.9 240.9L662.6 240.8L664.4 240.7L666.1 240.7L667.8 240.6L669.5 240.5L671.2 240.4L672.9 240.3L674.6 240.3L676.3 240.2L678 240.2L679.7 240.1L681.4 240.1L683.1 240.1L684.8 240.1L686.5 240L688.2 240L689.9 240L691.7 240L693.4 239.9L695.1 239.9L696.8 239.9L698.5 239.9L700.2 239.9L701.9 239.8L703.6 239.8L705.3 239.8L707 239.8L708.7 239.8L710.4 239.7L712.1 239.7L713.8 239.7L715.5 239.7L717.2 239.6L719 239.6L720.7 239.6L722.4 239.6L724.1 239.5L725.8 239.5L727.5 239.4L729.2 238.9L730.9 237.9L732.6 235.8L734.3 231.5L736 224.3L737.7 212.4L739.4 197.1L741.1 184.2L742.8 171.9L744.5 159.2L746.3 146.3L748 133.4L749.7 120.5L751.4 106.9L753.1 96.2L754.8 87.6L756.5 80.7L758.2 76.5L759.9 73.3L761.6 70.8L763.3 68.9L765 67.8L766.7 67.1L768.4 66.5L770.1 66L771.8 65.7L773.6 65.4L775.3 65.3L777 65.3L778.7 65.4L780.4 65.5L782.1 65.6L783.8 65.8L785.5 66L787.2 66.2L788.9 66.4L790.6 66.6L792.3 66.8L794 67.1L795.7 67.4L797.4 67.7L799.1 68.1L800.9 68.4" fill="none" stroke="#FF8000" stroke-width="1.3" clip-path="url(#cb)"/>
<path d="M512.5 162.4L514.2 167.7L515.9 172.6L517.6 176.9L519.3 180.5L521 183.9L522.7 186.9L524.4 189.4L526.1 191.2L527.9 192.8L529.6 194.3L531.3 195.6L533 196.7L534.7 197.7L536.4 198.5L538.1 199.2L539.8 199.7L541.5 200.2L543.2 200.6L544.9 201L546.6 201.3L548.3 201.6L550 201.9L551.7 202.2L553.4 202.4L555.2 202.7L556.9 203L558.6 203.3L560.3 203.6L562 203.9L563.7 204.3L565.4 204.7L567.1 205L568.8 205.4L570.5 205.8L572.2 206.2L573.9 206.6L575.6 207.1L577.3 207.5L579 207.9L580.7 208.4L582.5 208.8L584.2 209.3L585.9 209.8L587.6 210.3L589.3 210.8L591 211.4L592.7 212L594.4 212.7L596.1 213.4L597.8 214.1L599.5 214.8L601.2 215.4L602.9 215.9L604.6 216.4L606.3 216.8L608 217.1L609.8 217.5L611.5 217.8L613.2 218L614.9 218.3L616.6 218.4L618.3 218.5L620 218.4L621.7 218.1L623.4 217.6L625.1 217L626.8 216.4L628.5 215.6L630.2 214.6L631.9 213.3L633.6 212L635.3 210.6L637.1 209.2L638.8 207.9L640.5 206.7L642.2 205.4L643.9 204.2L645.6 202.9L647.3 201.6L649 200.1L650.7 198.6L652.4 196.9L654.1 195L655.8 192.8L657.5 190.6L659.2 188.2L660.9 185.8L662.6 183.4L664.4 181.1L666.1 178.6L667.8 176.1L669.5 173.6L671.2 171.2L672.9 169L674.6 166.8L676.3 164.9L678 163.8L679.7 163.1L681.4 162.8L683.1 162.8L684.8 162.9L686.5 163L688.2 163.1L689.9 163.1L691.7 163.1L693.4 163L695.1 163L696.8 163L698.5 162.9L700.2 162.8L701.9 162L703.6 160.8L705.3 159.2L707 157.5L708.7 155.7L710.4 153.5L712.1 150.9L713.8 148.1L715.5 145.3L717.2 142.6L719 140.3L720.7 138.3L722.4 136.5L724.1 134.8L725.8 133L727.5 131.1L729.2 128.9L730.9 126.3L732.6 123.4L734.3 120.3L736 116.9L737.7 113.3L739.4 109.7L741.1 105.8L742.8 101.4L744.5 96.7L746.3 91.9L748 87.2L749.7 83L751.4 79.3L753.1 75.7L754.8 72.5L756.5 69.9L758.2 68.2L759.9 66.8L761.6 65.7L763.3 65.1L765 65.2L766.7 65.6L768.4 66.1L770.1 66.7L771.8 67.5L773.6 68.7L775.3 70.1L777 71.6L778.7 73L780.4 74.2L782.1 75.2L783.8 76.1L785.5 76.9L787.2 77.7L788.9 78.5L790.6 79.3L792.3 80L794 80.8L795.7 81.5L797.4 82.3L799.1 83L800.9 83.6" fill="none" stroke="#FF0000" stroke-width="1.7" clip-path="url(#cb)"/>
<path d="M569.3 233.1H713.8L715.4 249H569.3Z" fill="none" stroke="#383838" stroke-width="1.35" stroke-dasharray="6.5 4"/>
<path d="M572.6 233V189" stroke="#000" stroke-width="1.2"/><path d="M572.6 182.2l-2.6 8h5.2z" fill="#000"/>
<path d="M517.1 259.7L544.1 259.7" stroke="#FF8000" stroke-width="1.6"/>
<path d="M575.6 259.7L602.9 259.7" stroke="#7F00FF" stroke-width="1.6"/>
<path d="M656.3 259.7L682.8 259.7" stroke="#FF00FF" stroke-width="1.6"/>
<path d="M737 259.7L763.5 259.7" stroke="#FF0000" stroke-width="1.6"/>
<text transform="translate(548.9,264.7)" font-size="13.60" textLength="19.1" lengthAdjust="spacingAndGlyphs" stroke="#000" stroke-width="0.3">0 s</text>
<text transform="translate(608.1,264.7)" font-size="13.60" textLength="40.7" lengthAdjust="spacingAndGlyphs" stroke="#000" stroke-width="0.3">1 - 6 s</text>
<text transform="translate(688,264.7)" font-size="13.60" textLength="41.4" lengthAdjust="spacingAndGlyphs" stroke="#000" stroke-width="0.3">7 - 9 s</text>
<text transform="translate(769.5,264.7)" font-size="13.60" textLength="26.8" lengthAdjust="spacingAndGlyphs" stroke="#000" stroke-width="0.3">10 s</text>
<text transform="translate(516.6,59.3)" font-size="15" textLength="237.1" lengthAdjust="spacingAndGlyphs" stroke="#000" stroke-width="0.3">PBDB-T: ITIC with 0.5% DIO in CB</text>
<rect x="512.5" y="39.9" width="288.4" height="231.5" fill="none" stroke="#222" stroke-width="1.3"/>
<path d="M512.5 255.1h-5M512.5 222h-5M512.5 188.9h-5M512.5 155.8h-5M512.5 122.7h-5M512.5 89.6h-5M512.5 56.5h-5M512.5 238.6h-2.6M512.5 205.4h-2.6M512.5 172.4h-2.6M512.5 139.2h-2.6M512.5 106.2h-2.6M512.5 73.1h-2.6M512.5 40h-2.6" stroke="#222" stroke-width="1.3" fill="none"/>
<path d="M512.5 271.4v4.6M570.2 271.4v4.6M627.8 271.4v4.6M685.5 271.4v4.6M743.2 271.4v4.6M800.9 271.4v4.6M541.3 271.4v2.5M599 271.4v2.5M656.7 271.4v2.5M714.3 271.4v2.5M772 271.4v2.5" stroke="#222" stroke-width="1.3" fill="none"/>
<text transform="translate(504.6,259.6) scale(1.025,1)" font-size="13.60" text-anchor="end" stroke="#000" stroke-width="0.4">0</text><text transform="translate(504.6,226.5) scale(1.025,1)" font-size="13.60" text-anchor="end" stroke="#000" stroke-width="0.4">5</text><text transform="translate(504.6,193.4) scale(1.025,1)" font-size="13.60" text-anchor="end" stroke="#000" stroke-width="0.4">10</text><text transform="translate(504.6,160.3) scale(1.025,1)" font-size="13.60" text-anchor="end" stroke="#000" stroke-width="0.4">15</text><text transform="translate(504.6,127.2) scale(1.025,1)" font-size="13.60" text-anchor="end" stroke="#000" stroke-width="0.4">20</text><text transform="translate(504.6,94.1) scale(1.025,1)" font-size="13.60" text-anchor="end" stroke="#000" stroke-width="0.4">25</text><text transform="translate(504.6,61) scale(1.025,1)" font-size="13.60" text-anchor="end" stroke="#000" stroke-width="0.4">30</text>
<text transform="translate(512.5,289.8) scale(1.025,1)" font-size="13.60" text-anchor="middle" stroke="#000" stroke-width="0.4">350</text><text transform="translate(570.2,289.8) scale(1.025,1)" font-size="13.60" text-anchor="middle" stroke="#000" stroke-width="0.4">450</text><text transform="translate(627.8,289.8) scale(1.025,1)" font-size="13.60" text-anchor="middle" stroke="#000" stroke-width="0.4">550</text><text transform="translate(685.5,289.8) scale(1.025,1)" font-size="13.60" text-anchor="middle" stroke="#000" stroke-width="0.4">650</text><text transform="translate(743.2,289.8) scale(1.025,1)" font-size="13.60" text-anchor="middle" stroke="#000" stroke-width="0.4">750</text><text transform="translate(800.9,289.8) scale(1.025,1)" font-size="13.60" text-anchor="middle" stroke="#000" stroke-width="0.4">850</text>
<text transform="translate(656.5,306.5)" font-size="19" text-anchor="middle" textLength="150" lengthAdjust="spacingAndGlyphs" stroke="#000" stroke-width="0.3">Wavelength (nm)</text>
<text transform="translate(477,148.4) rotate(-90)" font-size="19" text-anchor="middle" textLength="125" lengthAdjust="spacingAndGlyphs" stroke="#000" stroke-width="0.3">Reflection (%)</text>
<text transform="translate(428,46.6) scale(1.050,1)" font-size="28" stroke="#000" stroke-width="0.3">(b)</text>
<path d="M551.7 66.6L551.7 152.3" stroke="#333" stroke-width="1.3"/>
<path d="M551.7 152.3L653 152.3" stroke="#222" stroke-width="0.8"/>
<path d="M551.7 152.3h-2M551.7 109.5h-2M551.7 66.6h-2M551.7 130.9h-1M551.7 88h-1" stroke="#222" stroke-width="0.7" fill="none"/>
<path d="M551.7 152.3v2M572 152.3v2M592.2 152.3v2M612.5 152.3v2M632.7 152.3v2M653 152.3v2M561.8 152.3v1M582.1 152.3v1M602.4 152.3v1M622.6 152.3v1M642.9 152.3v1" stroke="#222" stroke-width="0.7" fill="none"/>
<text transform="translate(549.2,153.9)" font-size="6.60" text-anchor="end" stroke="#000" stroke-width="0.4">2.00</text><text transform="translate(549.2,111)" font-size="6.60" text-anchor="end" stroke="#000" stroke-width="0.4">2.25</text><text transform="translate(549.2,68.2)" font-size="6.60" text-anchor="end" stroke="#000" stroke-width="0.4">2.50</text>
<text transform="translate(551.7,160.6)" font-size="6.60" text-anchor="middle" stroke="#000" stroke-width="0.4">450</text><text transform="translate(572,160.6)" font-size="6.60" text-anchor="middle" stroke="#000" stroke-width="0.4">500</text><text transform="translate(592.2,160.6)" font-size="6.60" text-anchor="middle" stroke="#000" stroke-width="0.4">550</text><text transform="translate(612.5,160.6)" font-size="6.60" text-anchor="middle" stroke="#000" stroke-width="0.4">600</text><text transform="translate(632.7,160.6)" font-size="6.60" text-anchor="middle" stroke="#000" stroke-width="0.4">650</text><text transform="translate(653,160.6)" font-size="6.60" text-anchor="middle" stroke="#000" stroke-width="0.4">700</text>
<path d="M602.4 86L602.4 151" stroke="#222" stroke-width="0.9" stroke-dasharray="3 2"/>
<path d="M629.9 86L629.9 151" stroke="#777" stroke-width="0.9" stroke-dasharray="3 2"/>
<path d="M551.7 99.3L552.6 101.8L553.4 104.2L554.3 106.6L555.1 109L556 111.2L556.8 113.4L557.7 115.7L558.5 118L559.4 120.3L560.2 122.5L561.1 124.5L561.9 126.3L562.8 127.9L563.6 129.1L564.5 130.3L565.3 131.3L566.2 132.3L567 133.3L567.9 134.2L568.7 135L569.6 135.7L570.4 136.4L571.3 137.1L572.1 137.7L573 138.3L573.8 138.9L574.7 139.4L575.5 139.8L576.4 140.2L577.2 140.7L578.1 141L578.9 141.4L579.8 141.8L580.6 142.2L581.5 142.6L582.3 143L583.2 143.5L584 143.9L584.9 144.4L585.8 144.7L586.6 145L587.5 145.2L588.3 145.3L589.2 145.2L590 145.1L590.9 145L591.7 144.8L592.6 144.6L593.4 144.1L594.3 143.5L595.1 142.8L596 142L596.8 141.3L597.7 140.7L598.5 140.2L599.4 139.8L600.2 139.4L601.1 139.1L601.9 138.8L602.8 138.5L603.6 138.4L604.5 138.3L605.3 138.2L606.2 138.1L607 138.1L607.9 138L608.7 137.8L609.6 137.6L610.4 137.2L611.3 136.7L612.1 136.1L613 135.4L613.8 134.7L614.7 134L615.5 133.2L616.4 132.1L617.2 131L618.1 129.8L618.9 128.5L619.8 127.2L620.7 125.9L621.5 124.7L622.4 123.7L623.2 122.6L624.1 121.6L624.9 120.6L625.8 119.6L626.6 118.7L627.5 117.8L628.3 117.2L629.2 116.6L630 116.1L630.9 115.6L631.7 115.2L632.6 114.9L633.4 114.6L634.3 114.4L635.1 114.3L636 114.2L636.8 114.1L637.7 114L638.5 113.8L639.4 113.4L640.2 112.9L641.1 112.2L641.9 111.3L642.8 110.4L643.6 109.5L644.5 108.5L645.3 107.2L646.2 105.9L647 104.5L647.9 103.1L648.7 101.9L649.6 100.7L650.4 99.5L651.3 98.3L652.1 97.2L653 96.1" fill="none" stroke="#111" stroke-width="1.3"/>
<text transform="translate(585,83)" font-size="10.60" textLength="66.8" lengthAdjust="spacingAndGlyphs" stroke="#000" stroke-width="0.3">PBDB-T peak</text>
<text transform="translate(603.6,173.2)" font-size="11.80" text-anchor="middle" textLength="93.8" lengthAdjust="spacingAndGlyphs" stroke="#000" stroke-width="0.3">Wavelength (nm)</text>
<text transform="translate(532.6,108.5) rotate(-90)" font-size="12.60" text-anchor="middle" textLength="33.5" lengthAdjust="spacingAndGlyphs" stroke="#000" stroke-width="0.3">R (%)</text>
</g>
<g id="panel_c">
<clipPath id="cc"><rect x="909.7" y="40" width="288" height="231.4"/></clipPath>
<path d="M1017.3 157L1017.3 263.6" stroke="#111" stroke-width="1.2" stroke-dasharray="6 3.6"/>
<path d="M1046 157L1046 263.6" stroke="#444" stroke-width="1.2" stroke-dasharray="6 3.6"/>
<path d="M909.7 154L910.8 155.4L911.9 155.7L913 155L914.1 153.9L915.3 152.6L916.4 152.3L917.5 152.7L918.6 153.4L919.7 154.6L920.8 155.6L921.9 156.6L923 157.5L924.2 158.4L925.3 159.3L926.4 160.2L927.5 161L928.6 161.8L929.7 162.6L930.8 163.3L931.9 164.1L933.1 164.8L934.2 165.5L935.3 166.2L936.4 166.8L937.5 167.5L938.6 168.1L939.7 168.7L940.8 169.2L941.9 169.8L943.1 170.3L944.2 170.9L945.3 171.4L946.4 171.9L947.5 172.4L948.6 172.8L949.7 173.2L950.8 173.6L952 174L953.1 174.3L954.2 174.6L955.3 174.9L956.4 175.1L957.5 175.4L958.6 175.6L959.7 175.9L960.9 176.1L962 176.3L963.1 176.5L964.2 176.7L965.3 176.9L966.4 177.1L967.5 177.2L968.6 177.3L969.7 177.5L970.9 177.6L972 177.7L973.1 177.8L974.2 177.9L975.3 178L976.4 178.1L977.5 178.2L978.6 178.3L979.8 178.4L980.9 178.5L982 178.5L983.1 178.6L984.2 178.7L985.3 178.7L986.4 178.8L987.5 178.8L988.6 178.8L989.8 178.9L990.9 178.9L992 178.9L993.1 178.9L994.2 178.8L995.3 178.8L996.4 178.8L997.5 178.7L998.7 178.7L999.8 178.7L1000.9 178.6L1002 178.6L1003.1 178.5L1004.2 178.4L1005.3 178.4L1006.4 178.3L1007.6 178.2L1008.7 178.1L1009.8 178.1L1010.9 178L1012 177.9L1013.1 177.8L1014.2 177.7L1015.3 177.6L1016.4 177.6L1017.6 177.5L1018.7 177.3L1019.8 177.2L1020.9 177.1L1022 176.9L1023.1 176.8L1024.2 176.6L1025.3 176.4L1026.5 176.2L1027.6 176L1028.7 175.8L1029.8 175.6L1030.9 175.4L1032 175.1L1033.1 174.9L1034.2 174.7L1035.4 174.4L1036.5 174.2L1037.6 173.9L1038.7 173.7L1039.8 173.4L1040.9 173.2L1042 172.9L1043.1 172.6L1044.2 172.3L1045.4 172L1046.5 171.6L1047.6 171.3L1048.7 170.9L1049.8 170.5L1050.9 170.2L1052 169.8L1053.1 169.5L1054.3 169.2L1055.4 168.8L1056.5 168.5L1057.6 168.2L1058.7 167.8L1059.8 167.5L1060.9 167.2L1062 166.9L1063.2 166.5L1064.3 166.2L1065.4 165.9L1066.5 165.6L1067.6 165.3L1068.7 165.1L1069.8 164.8L1070.9 164.6L1072 164.4L1073.2 164.2L1074.3 164L1075.4 163.8L1076.5 163.5L1077.6 163.2L1078.7 162.9L1079.8 162.6L1080.9 162.1L1082.1 161.7L1083.2 160.9L1084.3 159.9L1085.4 158.6L1086.5 157.1L1087.6 155.1L1088.7 152L1089.8 146.7L1091 140L1092.1 133.1L1093.2 125.2L1094.3 116.3L1095.4 107.3L1096.5 98.8L1097.6 91.3L1098.7 83.9L1099.8 77L1101 70.8L1102.1 65.7L1103.2 61.3L1104.3 57.3L1105.4 53.9L1106.5 51.4L1107.6 49.9L1108.7 48.6L1109.9 47.5L1111 46.5L1112.1 45.7L1113.2 45.2L1114.3 44.9L1115.4 44.9L1116.5 45.1L1117.6 45.3L1118.8 45.7L1119.9 46.1L1121 46.5L1122.1 46.9L1123.2 47.3L1124.3 47.7L1125.4 48.2L1126.5 48.8L1127.6 49.4L1128.8 50.1L1129.9 50.8L1131 51.5L1132.1 52.2L1133.2 52.9L1134.3 53.6L1135.4 54.4L1136.5 55.1L1137.7 55.8L1138.8 56.5L1139.9 57.2L1141 57.9L1142.1 58.6L1143.2 59.3L1144.3 60L1145.4 60.8L1146.5 61.5L1147.7 62.4L1148.8 63.2L1149.9 64.1L1151 65.1L1152.1 66.2L1153.2 67.4L1154.3 68.7L1155.4 70L1156.6 71.2L1157.7 72.2L1158.8 73L1159.9 73.7L1161 74.3L1162.1 75L1163.2 75.6L1164.3 76.2L1165.5 76.8L1166.6 77.5L1167.7 78.3L1168.8 79.2L1169.9 80.1L1171 81.2L1172.1 82.3L1173.2 83.5L1174.3 84.7L1175.5 86L1176.6 87.3L1177.7 88.6L1178.8 89.9L1179.9 91.2L1181 92.4L1182.1 93.7L1183.2 94.9L1184.4 96.2L1185.5 97.5L1186.6 98.8L1187.7 100.1L1188.8 101.4L1189.9 102.8L1191 104.1L1192.1 105.4L1193.3 106.8L1194.4 108.2L1195.5 109.5L1196.6 110.9L1197.7 112.3" fill="none" stroke="#7F00FF" stroke-width="1.4" stroke-dasharray="1.4 1.7" clip-path="url(#cc)"/>
<path d="M909.7 155.7L910.8 156.9L911.9 157.1L913 156L914.1 156L915.3 157L916.4 157.7L917.5 158.3L918.6 159.3L919.7 160.6L920.8 162L921.9 163.5L923 164.8L924.2 166.1L925.3 167.4L926.4 168.5L927.5 169.4L928.6 170.3L929.7 171.1L930.8 171.8L931.9 172.5L933.1 173.2L934.2 173.8L935.3 174.4L936.4 175L937.5 175.5L938.6 176L939.7 176.5L940.8 177L941.9 177.5L943.1 178L944.2 178.4L945.3 178.8L946.4 179.3L947.5 179.7L948.6 180L949.7 180.4L950.8 180.7L952 181L953.1 181.2L954.2 181.4L955.3 181.7L956.4 181.9L957.5 182.1L958.6 182.3L959.7 182.5L960.9 182.7L962 182.8L963.1 183L964.2 183.1L965.3 183.3L966.4 183.4L967.5 183.5L968.6 183.6L969.7 183.7L970.9 183.8L972 183.9L973.1 183.9L974.2 184L975.3 184.1L976.4 184.2L977.5 184.2L978.6 184.3L979.8 184.3L980.9 184.4L982 184.4L983.1 184.5L984.2 184.5L985.3 184.6L986.4 184.6L987.5 184.6L988.6 184.6L989.8 184.7L990.9 184.7L992 184.7L993.1 184.6L994.2 184.6L995.3 184.6L996.4 184.6L997.5 184.5L998.7 184.5L999.8 184.4L1000.9 184.4L1002 184.3L1003.1 184.2L1004.2 184.2L1005.3 184.1L1006.4 184L1007.6 183.9L1008.7 183.8L1009.8 183.8L1010.9 183.7L1012 183.6L1013.1 183.5L1014.2 183.4L1015.3 183.3L1016.4 183.2L1017.6 183.1L1018.7 183L1019.8 182.8L1020.9 182.7L1022 182.6L1023.1 182.4L1024.2 182.2L1025.3 182.1L1026.5 181.9L1027.6 181.7L1028.7 181.5L1029.8 181.3L1030.9 181.1L1032 180.9L1033.1 180.6L1034.2 180.4L1035.4 180.2L1036.5 179.9L1037.6 179.7L1038.7 179.4L1039.8 179.2L1040.9 178.9L1042 178.7L1043.1 178.4L1044.2 178.1L1045.4 177.8L1046.5 177.4L1047.6 177.1L1048.7 176.7L1049.8 176.4L1050.9 176L1052 175.6L1053.1 175.3L1054.3 174.9L1055.4 174.6L1056.5 174.2L1057.6 173.8L1058.7 173.5L1059.8 173.1L1060.9 172.7L1062 172.4L1063.2 172L1064.3 171.7L1065.4 171.4L1066.5 171.1L1067.6 170.8L1068.7 170.5L1069.8 170.3L1070.9 170L1072 169.7L1073.2 169.4L1074.3 169.2L1075.4 168.9L1076.5 168.7L1077.6 168.5L1078.7 168.3L1079.8 168.2L1080.9 168.1L1082.1 168L1083.2 168L1084.3 167.9L1085.4 167.9L1086.5 167.6L1087.6 167.1L1088.7 166L1089.8 163.7L1091 160.2L1092.1 155.9L1093.2 149.1L1094.3 139.6L1095.4 129.1L1096.5 119.2L1097.6 110.6L1098.7 102.2L1099.8 94.1L1101 86.6L1102.1 80.4L1103.2 74.7L1104.3 69.5L1105.4 64.9L1106.5 61.5L1107.6 59.4L1108.7 57.5L1109.9 55.7L1111 54.3L1112.1 53.1L1113.2 52.3L1114.3 51.9L1115.4 51.9L1116.5 51.9L1117.6 52L1118.8 52.2L1119.9 52.3L1121 52.5L1122.1 52.7L1123.2 52.9L1124.3 53.2L1125.4 53.6L1126.5 54.1L1127.6 54.6L1128.8 55.2L1129.9 55.8L1131 56.5L1132.1 57.2L1133.2 57.9L1134.3 58.6L1135.4 59.3L1136.5 60L1137.7 60.7L1138.8 61.3L1139.9 62L1141 62.7L1142.1 63.4L1143.2 64.1L1144.3 64.9L1145.4 65.6L1146.5 66.4L1147.7 67.3L1148.8 68.1L1149.9 69L1151 70L1152.1 71.1L1153.2 72.4L1154.3 73.7L1155.4 74.9L1156.6 76.1L1157.7 77.1L1158.8 77.9L1159.9 78.6L1161 79.3L1162.1 79.9L1163.2 80.5L1164.3 81.1L1165.5 81.7L1166.6 82.4L1167.7 83.2L1168.8 84.1L1169.9 85L1171 86L1172.1 87.1L1173.2 88.2L1174.3 89.4L1175.5 90.6L1176.6 91.8L1177.7 93.1L1178.8 94.3L1179.9 95.5L1181 96.8L1182.1 98L1183.2 99.2L1184.4 100.5L1185.5 101.7L1186.6 103L1187.7 104.3L1188.8 105.6L1189.9 106.9L1191 108.2L1192.1 109.5L1193.3 110.9L1194.4 112.2L1195.5 113.6L1196.6 115L1197.7 116.4" fill="none" stroke="#7F00FF" stroke-width="1.4" stroke-dasharray="1.4 1.7" clip-path="url(#cc)"/>
<path d="M909.7 102.2L910.9 110.9L912 120.3L913.2 130.3L914.4 141.5L915.5 153.7L916.7 164.9L917.9 174.8L919 183.9L920.2 192L921.3 199.2L922.5 206L923.7 211.8L924.8 216.2L926 220.1L927.2 223.5L928.3 226.4L929.5 228.8L930.7 230.8L931.8 232.5L933 233.9L934.2 235.2L935.3 236.3L936.5 237.3L937.6 238.3L938.8 239.1L940 239.9L941.1 240.7L942.3 241.5L943.5 242.2L944.6 243L945.8 243.7L947 244.4L948.1 245.1L949.3 245.8L950.5 246.3L951.6 246.9L952.8 247.3L954 247.7L955.1 248.1L956.3 248.5L957.4 248.9L958.6 249.2L959.8 249.6L960.9 249.9L962.1 250.2L963.3 250.5L964.4 250.8L965.6 251L966.8 251.2L967.9 251.4L969.1 251.6L970.3 251.7L971.4 251.9L972.6 252L973.7 252.1L974.9 252.2L976.1 252.3L977.2 252.4L978.4 252.5L979.6 252.6L980.7 252.6L981.9 252.7L983.1 252.7L984.2 252.8L985.4 252.8L986.6 252.8L987.7 252.8L988.9 252.8L990.1 252.8L991.2 252.8L992.4 252.8L993.5 252.8L994.7 252.8L995.9 252.7L997 252.7L998.2 252.7L999.4 252.7L1000.5 252.7L1001.7 252.7L1002.9 252.7L1004 252.6L1005.2 252.6L1006.4 252.4L1007.5 252.3L1008.7 252.1L1009.8 251.8L1011 251.6L1012.2 251.4L1013.3 251.1L1014.5 250.9L1015.7 250.7L1016.8 250.5L1018 250.4L1019.2 250.2L1020.3 250.1L1021.5 249.9L1022.7 249.8L1023.8 249.7L1025 249.5L1026.1 249.4L1027.3 249.3L1028.5 249.1L1029.6 249L1030.8 248.8L1032 248.6L1033.1 248.4L1034.3 248.2L1035.5 247.9L1036.6 247.6L1037.8 247.3L1039 247L1040.1 246.7L1041.3 246.4L1042.5 246.1L1043.6 245.8L1044.8 245.6L1045.9 245.4L1047.1 245.4L1048.3 245.5L1049.4 245.6L1050.6 245.8L1051.8 245.9L1052.9 246L1054.1 246.1L1055.3 246.1L1056.4 246.2L1057.6 246.2L1058.8 246.2L1059.9 246.3L1061.1 246.3L1062.2 246.3L1063.4 246.2L1064.6 246.1L1065.7 245.9L1066.9 245.7L1068.1 245.5L1069.2 245.2L1070.4 245L1071.6 244.7L1072.7 244.5L1073.9 244.2L1075.1 244L1076.2 243.8L1077.4 243.6L1078.6 243.5L1079.7 243.4L1080.9 243.3L1082 243.1L1083.2 243L1084.4 242.8L1085.5 242.5L1086.7 241.3L1087.9 239.6L1089 237.1L1090.2 233.1L1091.4 227.5L1092.5 220.1L1093.7 209.9L1094.9 196.2L1096 180.9L1097.2 163.6L1098.3 142.3L1099.5 117.5L1100.7 91.7L1101.8 65.5L1103 38.7L1104.2 12.1L1105.3 -14.4L1106.5 -41" fill="none" stroke="#FF8000" stroke-width="1.7" clip-path="url(#cc)"/>
<path d="M909.7 82.2L910.8 91.5L912 101.7L913.1 112.8L914.2 125.5L915.4 139.8L916.5 152.4L917.7 161.7L918.8 169.5L919.9 176.5L921.1 183.4L922.2 190.1L923.3 196.1L924.5 201.1L925.6 205.2L926.7 208.9L927.9 212.2L929 215.1L930.1 217.7L931.3 220.1L932.4 222.4L933.6 224.5L934.7 226.4L935.8 228.2L937 229.7L938.1 231L939.2 232.2L940.4 233.1L941.5 234L942.6 234.8L943.8 235.6L944.9 236.4L946.1 237.2L947.2 238L948.3 238.7L949.5 239.4L950.6 240L951.7 240.6L952.9 241.1L954 241.6L955.1 242L956.3 242.5L957.4 242.9L958.6 243.2L959.7 243.6L960.8 243.9L962 244.2L963.1 244.5L964.2 244.7L965.4 244.9L966.5 245.1L967.6 245.2L968.8 245.4L969.9 245.6L971 245.7L972.2 245.8L973.3 246L974.5 246.1L975.6 246.2L976.7 246.3L977.9 246.4L979 246.4L980.1 246.5L981.3 246.5L982.4 246.6L983.5 246.6L984.7 246.6L985.8 246.5L987 246.5L988.1 246.5L989.2 246.4L990.4 246.4L991.5 246.3L992.6 246.3L993.8 246.2L994.9 246.1L996 246.1L997.2 246L998.3 245.9L999.5 245.8L1000.6 245.7L1001.7 245.6L1002.9 245.5L1004 245.3L1005.1 245.1L1006.3 244.8L1007.4 244.6L1008.5 244.3L1009.7 244L1010.8 243.7L1011.9 243.5L1013.1 243.2L1014.2 242.9L1015.4 242.7L1016.5 242.5L1017.6 242.3L1018.8 242.1L1019.9 241.9L1021 241.7L1022.2 241.5L1023.3 241.4L1024.4 241.2L1025.6 241L1026.7 240.8L1027.9 240.6L1029 240.4L1030.1 240.1L1031.3 239.9L1032.4 239.6L1033.5 239.1L1034.7 238.7L1035.8 238.2L1036.9 237.7L1038.1 237.2L1039.2 236.8L1040.4 236.4L1041.5 236.1L1042.6 235.9L1043.8 235.7L1044.9 235.5L1046 235.4L1047.2 235.5L1048.3 235.6L1049.4 235.9L1050.6 236.2L1051.7 236.5L1052.8 236.9L1054 237.3L1055.1 237.7L1056.3 238.2L1057.4 238.8L1058.5 239.4L1059.7 239.8L1060.8 240.1L1061.9 240.2L1063.1 240.2L1064.2 240.1L1065.3 240L1066.5 239.9L1067.6 239.8L1068.8 239.7L1069.9 239.6L1071 239.4L1072.2 239.3L1073.3 239.1L1074.4 239L1075.6 238.8L1076.7 238.6L1077.8 238.3L1079 238L1080.1 237.7L1081.3 237.2L1082.4 236.6L1083.5 235.4L1084.7 233.7L1085.8 231.5L1086.9 228L1088.1 223.4L1089.2 217L1090.3 207.1L1091.5 192.5L1092.6 170.9L1093.7 145.1L1094.9 120L1096 94.9L1097.2 70L1098.3 45.3L1099.4 20.4L1100.6 -4.5L1101.7 -29.4" fill="none" stroke="#7F00FF" stroke-width="1.7" clip-path="url(#cc)"/>
<path d="M919.4 50.8L945.9 50.8" stroke="#7F00FF" stroke-width="1.6"/>
<text transform="translate(950.4,55.4)" font-size="12.60" textLength="130.9" lengthAdjust="spacingAndGlyphs" stroke="#000" stroke-width="0.3">0% DIO without quartz</text>
<path d="M919.4 66.6L945.9 66.6" stroke="#7F00FF" stroke-width="1.4" stroke-dasharray="1.4 1.7"/>
<text transform="translate(950.4,71.2)" font-size="12.60" textLength="112" lengthAdjust="spacingAndGlyphs" stroke="#000" stroke-width="0.3">0% DIO with quartz</text>
<path d="M919.4 83L945.9 83" stroke="#FF8000" stroke-width="1.6"/>
<text transform="translate(950.4,87.6)" font-size="12.60" textLength="141.8" lengthAdjust="spacingAndGlyphs" stroke="#000" stroke-width="0.3">0.5% DIO without quartz</text>
<path d="M919.4 98.9L945.9 98.9" stroke="#7F00FF" stroke-width="1.4" stroke-dasharray="1.4 1.7"/>
<text transform="translate(950.4,103.5)" font-size="12.60" textLength="122.9" lengthAdjust="spacingAndGlyphs" stroke="#000" stroke-width="0.3">0.5% DIO with quartz</text>
<path d="M1125.9 109.9V123.4" stroke="#000" stroke-width="1"/><path d="M1125.9 128.1l-2 -6h4z" fill="#000"/>
<path d="M1146.6 128.1V115.4" stroke="#000" stroke-width="1"/><path d="M1146.6 109.6l-2 6h4z" fill="#000"/>
<text transform="translate(1122,104)" font-size="16.60" stroke="#000" stroke-width="0.2">I</text>
<text transform="translate(1125.7,108.1)" font-size="10.40" stroke="#000" stroke-width="0.2">in</text>
<text transform="translate(1142.4,104)" font-size="16.60" stroke="#000" stroke-width="0.2">I</text>
<text transform="translate(1146.3,108.1)" font-size="10.40" stroke="#000" stroke-width="0.2">R</text>
<rect x="1112.9" y="128.4" width="48.4" height="10.1" fill="#C0C0C0" stroke="#151515" stroke-width="1.2"/>
<text transform="translate(1137.1,136.8)" font-size="9.60" text-anchor="middle" fill="#222" stroke="#222" stroke-width="0.15">Quartz</text>
<rect x="1112.9" y="139.1" width="48.4" height="11.5" fill="#FF8000" stroke="#FF2010" stroke-width="1.2"/>
<text transform="translate(1137.1,148.2)" font-size="9.80" text-anchor="middle" fill="#331500" stroke="#331500" stroke-width="0.15">Solution</text>
<rect x="1112.9" y="151.2" width="48.4" height="10.1" fill="#C0C0C0" stroke="#151515" stroke-width="1.2"/>
<text transform="translate(1137.1,159.6)" font-size="9.60" text-anchor="middle" fill="#222" stroke="#222" stroke-width="0.15">Quartz</text>
<text transform="translate(1137.9,173.8)" font-size="11.80" text-anchor="middle" textLength="57.2" lengthAdjust="spacingAndGlyphs" stroke="#000" stroke-width="0.3">with quartz</text>
<path d="M1125.9 212.6V226.1" stroke="#000" stroke-width="1"/><path d="M1125.9 230.8l-2 -6h4z" fill="#000"/>
<path d="M1146.6 230.8V218.1" stroke="#000" stroke-width="1"/><path d="M1146.6 212.3l-2 6h4z" fill="#000"/>
<text transform="translate(1122,206.7)" font-size="16.60" stroke="#000" stroke-width="0.2">I</text>
<text transform="translate(1125.7,210.8)" font-size="10.40" stroke="#000" stroke-width="0.2">in</text>
<text transform="translate(1142.4,206.7)" font-size="16.60" stroke="#000" stroke-width="0.2">I</text>
<text transform="translate(1146.3,210.8)" font-size="10.40" stroke="#000" stroke-width="0.2">R</text>
<rect x="1112.9" y="231.1" width="48.4" height="10.2" fill="#FF8000" stroke="#FF2010" stroke-width="1.2"/>
<text transform="translate(1137.1,239.6)" font-size="9.80" text-anchor="middle" fill="#331500" stroke="#331500" stroke-width="0.15">Solution</text>
<rect x="1112.9" y="241.9" width="48.4" height="10.2" fill="#C0C0C0" stroke="#151515" stroke-width="1.2"/>
<text transform="translate(1137.1,250.3)" font-size="9.60" text-anchor="middle" fill="#222" stroke="#222" stroke-width="0.15">Quartz</text>
<text transform="translate(1140.9,264.6)" font-size="11.80" text-anchor="middle" textLength="74.7" lengthAdjust="spacingAndGlyphs" stroke="#000" stroke-width="0.3">without quartz</text>
<rect x="909.7" y="40" width="288" height="231.4" fill="none" stroke="#1c1c1c" stroke-width="1.2"/>
<path d="M909.7 271.4h-5M909.7 213.6h-5M909.7 155.7h-5M909.7 97.9h-5M909.7 40h-5M909.7 242.5h-2.6M909.7 184.7h-2.6M909.7 126.8h-2.6M909.7 68.9h-2.6" stroke="#1c1c1c" stroke-width="1.2" fill="none"/>
<path d="M909.7 271.4v5M981.7 271.4v5M1053.7 271.4v5M1125.7 271.4v5M1197.7 271.4v5M945.7 271.4v2.6M1017.7 271.4v2.6M1089.7 271.4v2.6M1161.7 271.4v2.6" stroke="#1c1c1c" stroke-width="1.2" fill="none"/>
<text transform="translate(902.1,275.9) scale(1.025,1)" font-size="13.60" text-anchor="end" stroke="#000" stroke-width="0.4">2</text><text transform="translate(902.1,218.1) scale(1.025,1)" font-size="13.60" text-anchor="end" stroke="#000" stroke-width="0.4">4</text><text transform="translate(902.1,160.2) scale(1.025,1)" font-size="13.60" text-anchor="end" stroke="#000" stroke-width="0.4">6</text><text transform="translate(902.1,102.3) scale(1.025,1)" font-size="13.60" text-anchor="end" stroke="#000" stroke-width="0.4">8</text><text transform="translate(902.1,44.5) scale(1.025,1)" font-size="13.60" text-anchor="end" stroke="#000" stroke-width="0.4">10</text>
<text transform="translate(909.7,289.8) scale(1.025,1)" font-size="13.60" text-anchor="middle" stroke="#000" stroke-width="0.4">350</text><text transform="translate(981.7,289.8) scale(1.025,1)" font-size="13.60" text-anchor="middle" stroke="#000" stroke-width="0.4">500</text><text transform="translate(1053.7,289.8) scale(1.025,1)" font-size="13.60" text-anchor="middle" stroke="#000" stroke-width="0.4">650</text><text transform="translate(1125.7,289.8) scale(1.025,1)" font-size="13.60" text-anchor="middle" stroke="#000" stroke-width="0.4">800</text><text transform="translate(1197.7,289.8) scale(1.025,1)" font-size="13.60" text-anchor="middle" stroke="#000" stroke-width="0.4">950</text>
<text transform="translate(1054,309.5)" font-size="19" text-anchor="middle" textLength="150" lengthAdjust="spacingAndGlyphs" stroke="#000" stroke-width="0.3">Wavelength (nm)</text>
<text transform="translate(876,149) rotate(-90)" font-size="19" text-anchor="middle" textLength="125" lengthAdjust="spacingAndGlyphs" stroke="#000" stroke-width="0.3">Reflection (%)</text>
<text transform="translate(825.9,46.6) scale(0.960,1)" font-size="28" stroke="#000" stroke-width="0.3">(c)</text>
</g>
<g id="panel_d">
<rect x="106.4" y="357" width="231.7" height="220.8" fill="#004EFF"/>
<path d="M165.3 486.1L164.3 486.2L162.9 485.9L162.9 484.9L164.5 483.9L164.1 482.9L163.3 482.2L162.3 481.6L161.3 481.5L153.6 483.9L152.3 484.9L150.3 485.4L144.1 484.9L139.4 483.7L138.4 483.7L136.4 484.5L135.4 484.4L134.5 483.9L135.3 482.9L134.4 482.6L131.4 482L125.4 481.6L124.4 481.9L122.4 482.9L120.4 484.2L119.4 484.3L118.3 483.9L119.7 482.9L119.8 481.9L118.4 481.2L116.4 481L115.4 481.1L112.7 481.9L111.2 482.9L110 484.9L109.4 485.1L108.4 485.2L106.4 484.9L106.4 357L338.1 357L338.1 383.9L337.7 384L338.1 384.1L338.1 420.9L338 420.9L338.1 421.1L338.1 425.7L337 425.9L338.1 426.3L338.1 446.5L334.1 447.4L332.1 447.6L329.1 446.7L328.1 446.6L326.8 447.9L328.1 448.9L329.1 449.1L333.1 448.7L338.1 449.2L338.1 452.6L336.1 452.7L335.4 452.9L335.8 453.9L338.1 454.1L338.1 469.4L337 469.9L338.1 470.3L338.1 477L336.3 476.9L335.8 475.9L335.1 475.7L332.1 476L329.1 475.8L326.1 476.6L325 475.9L322.1 475L321.1 475.1L319.4 475.9L318.1 476.2L317.1 476.2L315.1 476L314.1 476.1L311.1 477.7L310.1 477.9L305.1 477L304.1 477.2L302.8 477.9L302.1 478.4L301.1 478.4L299.2 477.4L298.4 476.9L298.1 475.9L297.2 475.1L295.4 473.9L295.2 473.5L294.2 473.4L293.2 473.8L292.2 474.7L291.5 474.9L292.5 476.9L294.5 477.9L293.2 478.4L292.2 478.5L291.2 478.1L290.2 477.4L287.2 477.8L284.2 477.5L282.9 476.9L282.2 475.7L281.2 475.4L280.2 475.2L279.2 475.3L277.2 476L274.2 475.6L270.2 476.3L263.2 475.7L262.2 475.8L261.2 476.4L260.4 476.9L259.2 478.2L258.2 478.1L257.7 477.9L257.5 476.9L256.4 475.9L256.2 474.6L255.2 473.8L254.2 474L253.2 475.2L252.5 476.9L252.7 477.9L252.2 479L251.5 479.9L251.4 480.9L251.7 481.9L250.2 482.5L247.2 482.5L246.2 482.3L245.2 481.7L243.2 481.3L242.2 481.4L239.2 482.2L235.2 482.5L231.2 481.8L229.2 481.6L228.2 481.4L227.5 480.9L225.2 480.4L224.2 480.5L222.6 480.9L222.5 481.9L222.2 482.1L221.3 482.6L220.3 482.6L218.3 482L216.3 480.9L216.3 480.7L215.3 480.7L215.2 480.9L211.3 481.8L209.3 482.9L206.3 482.8L205.3 483L203.3 484.3L202.3 484.5L201.3 484.4L199.3 483.9L196.1 483.9L195.3 483L194.8 481.9L193.3 481.6L191.5 481.9L190.4 482.9L189.3 483.3L183.3 484L181.7 483.9L181.3 483.5L180.3 483.2L175.3 483.7L174.3 483.6L172.3 482.8L169.8 482.9L166.4 483.9L166.5 484.9L166.3 485.2L165.9 485.9L165.3 486.1ZM314.2 362L314 362L314.2 362ZM286.8 365L286.2 364.9L284.5 365L286.2 365.6L286.8 365ZM315.9 369L315.1 368.7L313.1 369L314.1 369.3L315.1 369.3L315.9 369ZM287.9 372L287.2 371.5L286.2 371.6L285.9 372L287.2 372.3L287.9 372ZM335.3 378L335 378L335.3 378ZM292.3 391L292.1 391L292.3 391ZM268.6 400L269.8 399L269.2 398.6L268.2 398.7L267.7 399L267 400L268.2 400.1L268.6 400ZM278.3 412.9L277.2 411.9L276.2 412.2L275.5 412.9L277.2 413.4L278.3 412.9ZM284.5 423.9L284.2 423.6L283.2 423.6L282.1 423.9L284.2 424.2L284.5 423.9ZM272.9 441.9L273.4 440.9L272.2 440L271.2 440L269.6 440.9L271.2 442.1L272.2 442.2L272.9 441.9ZM284.2 443.9L284.3 442.9L285.5 441.9L285.2 441.3L283.6 441.9L282.8 442.9L282.8 443.9L283.2 444.2L284.2 443.9ZM264.5 453.9L265.2 453.5L267.2 452.7L271.2 452.2L272 451.9L272.2 450.9L271.2 450L270.6 449.9L273.7 448.9L273.4 447.9L271.2 446.8L270.2 446.5L269.2 446.4L268.3 446.9L269 448.9L269.1 449.9L265.2 450.5L262.2 450.2L261.2 450.7L261.2 451L262.2 451.7L263.2 451.9L264.2 452.7L264.2 453.2L262.8 453.9L264.5 453.9ZM306.7 450.9L307.1 450.5L308.1 450.2L310.1 450.5L311.4 449.9L311.1 449.3L310.1 449L308.1 449.7L306.1 449.7L305.1 449.9L305.1 451L306.1 451.1L306.7 450.9ZM326.8 450.9L326 449.9L325.1 449.6L323.9 449.9L324.1 450.9L325.1 451.3L326.1 451.4L326.8 450.9ZM294.3 450.9L293.2 450.8L291.8 450.9L293.2 451.1L294.3 450.9ZM286.6 453.9L286.6 452.9L286.2 451.9L285.2 451.6L283.6 451.9L284.6 453.9L285.2 454.2L286.2 454.3L286.6 453.9ZM321.4 454.9L321.5 453.9L320.7 452.9L320.1 451.7L319.1 451.1L318.1 451L317.2 451.9L317.2 452.9L316.6 453.9L316.6 454.9L317.1 455.5L318.1 455.9L319.1 455.9L320.1 455.7L321.4 454.9ZM327.3 452.9L327.1 452.7L326.6 452.9L327.1 453.1L327.3 452.9ZM304.5 455.9L305.4 454.9L304.1 454.1L303.1 453.9L302.1 454.2L301 454.9L301.2 455.9L302.1 456.5L303.1 456.6L304.5 455.9ZM274.3 467.9L274.4 466.9L274.2 466.4L273.2 465.6L272.2 465.2L271.2 465.1L270.2 465.4L269.4 464.9L273.2 464.6L274.2 464.1L275.2 463L275.6 462.9L276.2 462L274.2 459.6L273.2 459.1L271.2 458.9L270.6 457.9L271.2 456.6L272.2 456L272.7 455.9L271.2 455.4L270.2 455.4L267.2 456.6L265 457.9L265.2 458.9L266.2 459.5L267.2 459.7L268.2 459.8L270.2 459.2L271.1 460.9L272 461.9L272.1 462.9L270.2 463.4L269.2 463.3L267.2 462.7L266.2 462.7L265.4 462.9L265.2 463.9L266.2 464.7L266.8 464.9L269.2 464.9L270.1 465.9L269.9 466.9L270.2 467.8L271.2 468.5L272.2 468.8L273.2 468.9L274.3 467.9ZM293.1 455.9L291.2 455.4L289.2 455.3L288.2 455.4L287.6 455.9L288.2 456.3L291.2 456.7L292.2 456.6L293.1 455.9ZM293.9 465.9L293.9 464.9L293.2 464.3L292.2 464.2L290.2 464.2L289.3 463.9L290.2 463.1L291.2 463.1L293.2 463.5L294.2 463.5L295.2 463.2L295.4 462.9L294.5 460.9L295.1 458.9L294.2 458.6L290.2 458.2L288.2 457.3L285.2 456.8L282.2 457.2L280.3 457.9L280.1 458.9L280.2 459.3L280.5 459.9L281.2 460.2L282.2 460L284.2 458.9L286.2 458.6L288.2 458.8L289 459.9L288.2 460.9L288.1 461.9L283.8 463.9L282.6 464.9L283.2 465.3L285.2 465.6L287.2 466.4L290.2 466.8L292.2 466.6L293.9 465.9ZM317.3 456.9L317.1 456.8L316.1 456.9L317.1 457.1L317.3 456.9ZM308.3 461.9L307.9 460.9L309.1 460.2L310.3 459.9L310.9 458.9L309.1 458.5L308.1 458.5L305.1 459.3L302.1 459.8L300.1 459.8L299.8 459.9L299.3 460.9L299.9 461.9L301.1 462.4L307.1 462.3L308.3 461.9ZM328.8 459.9L329 458.9L328.1 458.6L327.1 458.5L325.6 458.9L326.1 460L327.1 460.2L328.8 459.9ZM333.3 459.9L333.2 458.9L332.1 458.9L330.5 459.9L332.1 460.2L333.3 459.9ZM314 467.9L316.8 466.9L316.7 465.9L316 464.9L316.1 464.6L316.7 463.9L319.1 463.7L319.7 462.9L319.7 461.9L319.1 461.4L318.1 461.2L315.1 461.1L311.3 462.9L310.5 463.9L309.1 464.6L307.1 465.2L306.1 466L305.1 466.1L304.3 465.9L302.6 464.9L300.1 464.3L297.2 464.2L296.2 464.4L295.6 464.9L296.4 465.9L298.2 466.7L300.1 467.2L304.1 467.5L306.1 467.4L308.1 467.8L312.1 468.1L314 467.9ZM263.8 464.9L263 463.9L263.2 463.4L264 462.9L263.2 462.6L262.2 462.7L259.2 463.6L258.7 463.9L257.7 464.9L259.2 465.5L261.2 465.8L262.2 465.6L263.8 464.9ZM333 464.9L332.8 463.9L331.1 463.5L330.1 463.5L327.3 463.9L324.5 464.9L325.1 465.5L326.1 465.8L329.1 465.5L331.1 465.6L333 464.9ZM282 467.9L281.2 467L280.2 466.9L279.2 467.2L278.2 467.9L279.2 468.3L280.2 468.4L282 467.9ZM324.5 468.9L325.5 467.9L324.1 467.6L323.1 467.5L321.2 467.9L322.1 468.7L322.7 468.9L324.1 469L324.5 468.9ZM289.3 469.9L288.2 469.4L287.2 469.2L286.3 469.9L287.2 470.7L288.2 470.7L289.3 469.9ZM260.3 471.9L259.2 471.7L257.7 471.9L258.2 472.4L259.2 472.4L260.3 471.9ZM300.5 471.9L299.2 471.6L295.4 471.9L299.2 472.2L300.1 472.1L300.5 471.9ZM289.9 474.9L289.2 474.6L288.3 473.9L287.1 473.9L287.4 474.9L288.2 475.2L289.2 475.1L289.9 474.9ZM267.2 479.7L266.2 479.4L266 478.9L266.2 477.9L267.2 477.5L267.9 477.9L268.1 478.9L267.2 479.7ZM338.1 523.4L335.1 523.3L333.1 522.2L327.1 521.5L325.6 521.9L325.2 522.8L324.1 523.2L322.7 522.8L322.5 521.9L322.1 521.7L317.1 521.3L315.1 521.5L313.1 522.4L312.1 522.5L310.1 522.5L307.1 522.3L303.1 522.9L300.1 523L298.8 522.8L296.9 521.9L295.2 521.4L290.2 521.8L283.2 521.7L281.9 521.9L279.2 522.7L275.2 522.1L272.2 521.8L270.2 521.9L266.2 522.4L264.2 522.4L262.2 522L259.2 522L258.2 521.9L251.2 520.2L248.2 520L244.2 518.7L243.2 518.8L241.2 519.2L240.2 519.1L234.9 517.9L229.2 517.4L227.2 517.5L225.2 518.5L223.2 519L221.3 518.9L219.3 518.2L218.3 518.3L217.3 518.9L216.3 519.2L215.3 519.1L210.9 518.9L204.3 517.1L199.3 517.6L194.3 517.2L191.3 518L187.3 518L183.3 517.4L182.6 517.9L181.3 518.1L180.2 517.9L179.5 516.9L178.3 516.4L174.3 516.6L171.3 517.2L170.3 517L169.9 516.9L169.8 515.9L169.3 515.6L168.3 515.8L167.5 516.9L168 517.9L167.3 518.2L166.3 518.2L164.8 517.9L162.3 516.7L160.3 514.8L159.3 514.7L156.3 515L154.6 514.9L152.3 513.9L151.6 512.9L153.3 512.4L154.5 511.9L154.5 510.9L152.3 509.7L152 508.9L152.7 507.9L155.3 507.1L156.3 506.6L156.9 505.9L157.3 505.6L160 504.9L161.3 504.7L164.3 504.7L164.8 504.9L165.6 505.9L166.3 506.3L167.3 506.3L169.3 505.9L172.3 505.7L176.3 505.2L177.3 504.9L178.3 503.8L180.2 503.9L180.5 504.9L183.3 505.7L184.3 505.7L186.3 504.9L187.3 504.7L191.3 504.9L193.4 504.9L194.3 504.3L195 502.9L196.3 502.5L198.3 502.7L202.3 502.8L202.7 502.9L202 503.9L203.3 503.9L204.3 503.5L205.3 503.5L209.3 504.6L210.3 504.7L213.3 504.4L217.3 504.4L220.3 503.7L223.2 503.9L227.2 503.6L229.4 503.9L230.9 504.9L232.2 505L233.7 504.9L236.2 504L239.2 503.5L240.2 503.4L243.2 503.9L249.2 503.3L250.2 502.9L250.4 501.9L253.9 499.9L255.5 497.9L257.8 496.9L258.9 495.9L259.2 494.9L256.9 493.9L257.1 492.9L257.8 491.9L257.2 491.6L256.5 490.9L255.8 489.9L255.7 488.9L256.6 487.9L256.8 486.9L255.7 484.9L256.2 484.4L257.2 483.6L258.2 483.1L264.2 482.1L265 481.9L265.2 481.6L266.2 481.1L267.2 481.2L269.2 481.7L271.2 481.6L272.2 481.2L273.8 479.9L273.4 478.9L275.2 478.3L276.2 478.3L276.9 478.9L276.2 479.6L275.4 479.9L276.2 480.3L282.2 481.1L284.2 480.9L286.2 481.4L288.2 481.5L291.2 482.6L292.2 482.5L294.2 481.9L295.2 482.1L296.2 482.7L297.2 483L300.1 482.4L301.4 481.9L302.3 480.9L302.4 479.9L303.1 479.5L304 479.9L304.3 480.9L306.1 481.6L309.1 481.4L315.1 482.6L316.1 482.5L316.9 481.9L318.1 481.4L322.1 480.9L325.1 480.1L331.1 480.8L338.1 480L338.1 523.4ZM140.2 480.9L140.5 479.9L139.4 479.3L138.4 479.5L137.1 480.9L137.4 481.4L138.4 481.7L139.4 481.5L140.2 480.9ZM107.9 480.9L106.7 480.9L107.9 480.9ZM307.1 483.9L306.1 483.5L305.7 483.9L306.1 484.1L307.1 483.9ZM225.2 486.6L224.2 486.8L222.2 486.4L216.8 485.9L220.3 484.7L225.2 485.5L225.7 485.9L225.2 486.6ZM227.2 489.3L227.1 488.9L227.2 488.7L227.5 488.9L227.2 489.3ZM197.6 505.9L198.8 504.9L198.3 504.2L196.1 504.9L195.9 505.9L197.6 505.9Z" fill="#0070FF" fill-rule="evenodd"/>
<path d="M168.3 381.2L164.3 380.4L163.8 380L165.3 379.2L166.3 379.1L169.3 379.2L170.3 379.5L170.9 380L169.3 381L168.3 381.2ZM215.3 474L212.3 474.1L208.3 473.6L206.3 473.8L203.3 474.4L201.3 474.3L199.3 474.8L195.3 474.1L190.3 474.1L185.3 473.4L181.3 473.2L178.3 473.5L172.3 473.7L166.3 473.6L163.3 474.3L161.3 474.3L159.3 473.9L157.3 473.2L156.3 473.1L154.3 473.3L151.3 473.3L145.3 473.9L143.4 473.6L141.4 472.8L139.4 472.5L135.4 472.8L129.4 472.7L126.4 473.2L124.4 473.1L122.4 472.7L120.4 472.6L117.4 472.9L114.4 473.8L113.4 473.9L109.4 473.9L106.4 473.5L106.4 382.6L109.4 382.4L110.4 382.5L112.4 383.4L114.4 383.7L118.4 382.9L121.4 382L123.4 381.9L124.4 382.1L126.4 383.4L128.4 384L129.7 384L132.6 383L134.4 382.7L135.4 383L138.4 384.3L142.9 385L144.4 385L145.3 384.8L146.3 384L145.3 383.2L142.4 382.6L141.3 382L142.4 381.5L143.4 381.3L148.3 382.5L149.3 383.5L150.3 383.5L151.8 383L150.3 382.6L149.4 382L151.3 381.2L152.3 381.1L153.3 381.8L154.3 382.1L156.3 381.8L157.3 382.1L159.3 383.6L160.3 384.1L163.3 384.6L165.3 384.7L167.3 384L168.3 383.9L170.3 384.3L171.3 384.3L172.6 384L172.2 383L175.3 381.7L179.3 380.7L185.3 382.2L186.3 382.4L187.3 382.3L189.3 381.7L190.3 381.1L191.3 379.7L192.3 379.1L194.3 379.3L195.4 380L196.3 381.2L199.3 381.9L200.3 382.5L202.3 383.1L205.2 383L204.5 381L206.3 380L207.3 379.8L208.3 379.9L211.3 381.9L214.3 381.9L215.3 382.4L215.8 383L217.3 383.3L218.3 383.4L220.3 383.2L223.2 383.4L225.1 383L225.2 382.5L226.2 382.4L229.2 383.6L230.2 384.6L231.2 384.9L232.2 384.9L233.2 384.5L234 384L233.4 383L234 382L235.2 381.7L236.2 381.7L237.5 382L237.4 383L235.6 384L236.2 385L238.2 385.2L241.2 385.2L243.2 385.4L245.2 384.9L246.3 385L247.1 386L246 387L248.3 388L249.2 388.9L250.6 389L249.2 389L248.2 389.8L248.2 390.6L248.6 391L250.2 391.1L251.6 392L252.1 393L251.1 394L251.2 395L252 397L253.2 397.4L254 398L253.5 400L253.5 401L253.9 402L254.7 403L255.2 404L254.9 405L256 408L256.3 410L255.9 412L256.3 412.9L256.3 413.9L256.7 415.9L257.9 417.9L258.2 418.9L257.6 420.9L257.6 422.9L258.5 424.9L257.9 426.9L258.4 427.9L258.7 428.9L258.2 430.9L259 432.9L258.8 434.9L258.6 435.9L258.8 441.9L259.5 444.9L260.1 445.9L258.8 448.9L258.4 450.9L259.2 452.9L258.3 453.9L257.8 454.9L258.2 456.9L256.5 459.9L256.8 461.9L256.5 462.9L255.4 463.9L253.9 464.9L253.4 465.9L253.4 466.9L252.6 468.9L250.6 470.9L249.2 472.7L248.2 473.3L246.2 473.4L243.2 473.1L239.2 473.2L234.2 473.8L231.2 473.4L226.2 473.5L223.2 473.9L218.3 473.4L215.3 474ZM212.1 383L211.3 382.2L210.3 382.6L209.8 383L210.3 383.2L211.3 383.3L212.1 383ZM123.5 386L123.5 385L123.4 384.9L122.4 384.7L120.7 385L122.4 386.2L123.5 386ZM112 387L111.5 386L110.4 385.5L109.4 385.7L109.2 386L111 387L112 387ZM331.1 519.9L329.1 519.9L327.7 518.9L325.1 518.6L320.1 519.2L317.1 519L311.1 518.9L307.1 519.7L306.1 519.7L303.1 519.5L300 518.9L294.2 518.7L286.2 519.5L282.2 519.4L280.2 520L279.2 520.1L277.2 519.9L275.2 519.3L271.2 518.8L270.1 518.9L267.2 519.5L263.2 519.1L260.2 519.1L256.2 518.8L254.2 518.3L253.2 517.7L250.2 514.8L248.2 513.6L246.2 512.8L243.2 512.5L241.5 511.9L242.6 510.9L243.2 510.6L247.2 510.2L249.6 508.9L251.2 507.7L251.9 506.9L252 505.9L252.7 504.9L255.2 503.3L257.2 502.4L258.2 502.2L265.2 502.5L267.2 501.7L268.2 501.4L270.2 501.4L273.2 501.7L277.2 501.7L282.2 502.5L294.2 502.1L299.2 502.5L302.1 502.1L304.1 502.2L307.1 501.4L308.1 501.4L313.1 502.1L318.1 502.2L321.1 501.9L325.1 502.6L328.1 502.2L330.1 501.5L331.1 501.4L334.1 502.2L338.1 502.3L338.1 519.2L334.1 519L331.1 519.9ZM230.2 513.1L229.2 513.4L227.2 513.2L226.4 512.9L225.2 511.9L221.3 510.9L222.2 510.4L223.2 510.2L226.2 510.3L227.2 510.5L229.2 511.5L231.2 511.7L232.2 511.4L232.9 510.9L234.2 510.7L234.9 510.9L234.3 511.9L231.2 512.1L230.2 513.1ZM211.3 511.9L210.1 511.9L211.3 511.7L212 511.9L211.3 511.9Z" fill="#0092FF" fill-rule="evenodd"/>
<path d="M228.2 470.9L227.2 470.8L224.2 470.1L220.3 470.4L217.3 469.9L213.3 470.3L207.3 470.2L202.3 470.5L197.3 470.1L189.3 470.7L186.3 470.5L182.3 470.9L179.3 470.3L174.3 470.3L169.3 469.8L166.3 470.2L163.3 470.2L160.3 470.9L157.3 470.5L153.3 470.5L150.3 469.8L147.3 469.4L145.3 469.6L142.4 470.2L138.4 469.6L135.4 469.6L133.5 469.9L131.4 470.6L130.4 470.6L126.4 470.1L122.4 469.9L119.4 470.3L115.4 470L106.4 470.6L106.4 394.7L111.4 394.2L114.4 394.8L116.4 394L117.4 394L123.4 394.8L125.4 396L127.4 396.2L129.2 396L130.4 395.3L131.4 395.1L132.4 395.1L136.4 395.8L138.4 395.7L141.4 394.1L142.4 394L144.4 395.2L145.3 395.2L149.3 394.6L152.3 393.7L155.3 393.4L156.3 393.4L158.3 394L159.3 394.8L160.2 395L163.3 394.7L168.3 394.5L170.3 393.9L171.7 394L174.3 394.4L175.2 395L174.3 395.6L173.3 395.7L171.3 395.6L170.3 395.7L170 396L171.3 396.1L176.3 396L179.3 395.2L180.3 395.3L181.3 395.7L182.3 395.7L184.4 395L184.5 394L185.4 393L186.3 392.8L189.3 393.3L190.3 393.3L193.3 392.3L194.3 392.5L194.6 393L194.1 394L195.3 394.4L197.3 394.8L200.3 395.1L206.3 395.2L208.3 396.2L209.3 396.3L210.1 396L211.1 395L210.6 394L211.3 393.3L213.3 393.8L216.3 395.4L217.3 395.6L217.9 396L219.3 396.2L222.2 396.2L223.5 397L225.2 397.2L227.2 397.2L228.4 397L231.2 395.8L232.2 395.5L233.2 395.6L234.5 396L235.2 397L236.2 397.1L240.2 398.2L243.8 400L245.2 401.5L247.2 403L247.7 404L248.7 405L251.6 409L251.8 410L251.7 411L251.2 412L251.3 412.9L252.7 414.9L253.2 416.9L254.5 418.9L254.8 419.9L254.7 420.9L254.8 422.9L255.3 424.9L255.1 425.9L255.2 426.9L255.8 428.9L256.1 430.9L256.9 432.9L256.5 434.9L256.9 436.9L257.3 442.9L258 445.9L257.9 446.9L257.2 448.9L256.8 450.9L256.7 452.9L256.2 453.9L255.9 455.9L255 457.9L254.2 460.9L253.2 462L251.6 464.9L251.4 466.9L250.2 468L248.2 469L246.2 469.5L241.2 469.9L238.2 470.5L235.2 470.8L231.2 470.7L228.2 470.9ZM223.2 395.5L222.2 395.8L221.3 395.8L219.3 395.3L218.4 395L220.8 394L222.2 393.8L223.2 394.1L224 395L223.2 395.5ZM141.3 397L140.4 396.7L139.2 397L141.3 397ZM338.1 517.3L333.1 516.8L328.1 517.3L320.1 516.9L309.1 517.4L294.2 517.4L290.2 516.7L287.2 517.3L283.2 517.1L279.2 517.3L275.2 517.1L269.2 517.4L262.2 516.8L258.2 517.2L256.2 516.9L254.2 515.9L252.1 512.9L251.5 511.9L251.2 510.9L255.2 506L256.2 505.5L261.2 505L263.2 505L266.2 505.4L271.2 505.2L274.2 505.3L281.2 504.6L286.2 505.1L296.2 504.9L303.1 505.3L307.1 505.1L319.1 505L323.1 505.2L330.1 504.9L338.1 505L338.1 517.3Z" fill="#00B4FF" fill-rule="evenodd"/>
<path d="M240.2 468L236.2 468.2L230.2 467.7L225.2 468.4L220.3 468.1L215.3 468.1L208.3 468.1L203.3 468.5L199.3 468.1L195.3 468.6L189.3 468.7L186.3 468.6L183.3 468.7L179.3 468.1L176.3 468.3L173.3 468.3L169.3 467.8L165.3 468.1L162.3 467.9L154.3 468.5L145.3 467.8L140.4 468.1L137.4 467.9L130.4 468L126.4 467.7L123.4 468.1L106.4 468.3L106.4 401.9L109.4 401.1L116.4 401L118.4 401.1L124.4 400.4L125.4 400.5L127.4 401.4L128.4 401.6L134.4 401.9L137.4 401.4L141.4 402.1L145.3 401.4L153.3 402.6L157.3 402.2L160.3 402.2L162.3 401.6L163.3 401.7L165.3 402.2L169.3 402L170.3 402.2L170.6 403L172.3 403.5L176.3 403.3L181 402L185.3 401.3L187.3 401.5L189.3 402.3L190.3 402.5L191.3 402.4L193.3 401.7L194.3 401.6L196.3 401.8L197.3 402L198.3 402.5L199.3 402.6L202.3 402.4L205.3 402.8L207.3 402.8L210.3 402.2L212.3 402.6L214.3 403.5L215.3 403.8L218.3 404.1L218.9 404L220.7 403L221.3 402.9L222.3 403L223.2 403.7L227.2 403.4L228.2 403.7L230.2 404.8L231.2 404.9L233.2 404.7L237.2 406L237.5 407L239.2 407.5L241.2 407.7L242.2 408.1L244 410L246.2 411.4L247.2 413L248.6 415.9L249.4 416.9L250.6 417.9L251.1 418.9L251.5 420.9L251.9 421.9L252.2 423.9L252.6 424.9L252.8 426.9L255.1 432.9L254.7 434.9L255.3 436.9L255.8 439.9L256 442.9L256.5 445.9L256.4 446.9L255.4 451.9L254.5 453.9L254 455.9L252.6 457.9L252 459.9L250 461.9L249.7 462.9L249.2 463.8L247.8 464.9L247.1 465.9L245.7 466.9L243.2 467.6L240.2 468ZM338.1 515.7L332.1 515.4L327.1 515.7L323.1 515.4L307.1 515.7L300.1 515.1L296.2 515.6L290.2 515.1L284.2 515.2L276.2 515.7L272.2 515.4L269.2 515.6L263.2 515.3L259.2 515.4L257.2 515.2L256.2 514.7L254.2 513L253.6 511.9L253.7 510.9L254.2 509.8L255.2 508.4L256.2 507.6L257.2 507.2L261.2 506.9L272.2 507.3L280.2 506.7L288.2 507.4L291.2 506.9L293.2 506.8L299.2 507.4L310.1 506.7L314.1 507L318.1 506.8L323.1 507L327.1 506.7L334.1 507.1L338.1 506.8L338.1 515.7Z" fill="#00D6FF" fill-rule="evenodd"/>
<path d="M226.2 466L222.2 466.2L218.3 466L206.3 466.4L202.3 466L194.3 466.7L187.3 466.4L183.3 466.5L176.3 466L164.3 466.3L159.3 466.2L155.3 466.5L152.3 466.3L148.3 466.5L143.4 466.2L135.4 466.4L127.4 466.3L124.4 466.5L120.4 466.4L110.4 466.6L106.4 466.5L106.4 405.2L110.4 405.3L113.4 406L115.4 406.2L119.4 405.9L122.4 405.3L126.4 405.5L130.4 405.4L132.4 405.7L136.4 407L137.4 407L140.4 406.6L143.4 406.6L147.3 407.6L148.3 407.5L152.3 406.2L154.3 406.1L156.3 407L158.3 407.3L159.3 407.4L161.3 406.9L162.3 406.9L163.3 407.8L164.3 407.9L167.3 407.7L171.3 407.8L174.3 409.3L175.3 409.3L178.3 408.4L182.3 408.3L186.3 407.9L189.3 408.2L192.3 407.9L192.7 408L192.8 409L194.3 409.4L196.3 409.6L197.3 409.5L197.7 409L197.9 408L203.3 407.7L204.8 408L206.3 409L208.3 409.4L210.3 409.5L213.3 409.2L214.3 409.3L215.3 410L216.3 410.2L219.3 409.6L223.2 409.8L226.2 410.4L229.2 410.5L233.2 411.9L236.2 412.1L239.2 412.8L240.7 413.9L241.3 414.9L243.6 415.9L245.2 418.4L247.3 419.9L248.5 421.9L249.2 423.9L249.9 424.9L250.9 427.9L251.9 429.9L252.9 432.9L253.1 435.9L253.5 437.9L254.2 439.9L254.4 441.9L255.2 445.9L254.4 450.9L252.1 455.9L250.4 457.9L249.3 459.9L248 460.9L246.4 462.9L241.6 463.9L239.2 464.9L237.2 465.4L233.2 465.4L226.2 466ZM323.1 513.9L314.1 513.6L310.9 513.9L310.1 513.8L308.1 513L305.1 512.9L299.2 513.1L296.2 513.5L292.2 513.6L287.2 513.4L283.2 512.7L278.2 513.4L274.2 513.6L269.2 513.6L266.2 513.2L262.2 513.3L257.2 512.4L256.3 511.9L256.3 510.9L257.2 509.9L258.2 509.6L261.2 509.3L264.2 509.6L267.2 509.1L271.2 508.7L272.9 508.9L275.2 509.3L279.2 509.5L285.2 509L288.2 509.4L291.2 509.5L294.2 509.2L298.2 509.3L302.1 508.6L310.1 508.3L312.1 508.5L315.1 509.4L318 508.9L319.1 508.8L323.1 509.6L325.1 509.6L329.1 508.9L331.1 508.8L338.1 509.7L338.1 513.7L332.1 513L329.1 513.4L326.1 513.4L323.1 513.9Z" fill="#00F8FF" fill-rule="evenodd"/>
<path d="M137.4 465L127.4 464.8L123.4 465.2L106.4 465L106.4 409.7L117.4 409.2L120.4 409.4L123.4 409.4L125.4 409.8L128.4 410L133.7 411L138.4 410.6L144.4 411.3L146.3 410.9L148.3 410.8L151.3 411.6L154.3 411.1L155.3 411.1L158.3 411.8L168.3 412.8L172.3 413.8L177.3 413.6L180.3 414.2L188.3 413.1L196.3 414.3L198.3 414.3L201.3 413.8L204.3 413.8L207.3 413.6L215.3 414.6L218.3 415.2L221.3 415L226.2 416.3L232.2 416.5L238.7 417.9L240.2 418.5L240.9 418.9L242.7 420.9L243.9 421.9L244.8 423.9L247.2 426.4L248.9 428.9L249.8 429.9L250.9 432.9L251.6 436.9L252.6 439.9L253.8 445.9L253 450.9L251.2 454.6L250.2 455.9L247 458.9L245.2 460.1L242.2 461.4L236.2 462.7L234.2 462.9L231.2 462.8L210.3 464.1L202.3 463.7L194.3 464.4L192.3 464.4L188.3 463.9L180.3 464.3L173.3 463.7L156.3 464.7L152.3 464.3L148.3 464.7L143.4 464.5L137.4 465Z" fill="#00FFE4" fill-rule="evenodd"/>
<path d="M134.4 463.9L128.4 463.7L117.4 464.1L110.4 463.9L106.4 464L106.4 412.6L111.4 412.6L115.4 412.2L118.4 412.2L122.4 411.9L125.4 412.6L129.3 412.9L132.4 413.4L136.4 413.2L140.4 413.9L144.4 414L147.3 414.6L158.3 414.5L163.3 415.3L164.2 415.9L165.3 416.3L168.3 416.5L172.3 418L177.3 417.8L180.3 418.1L183.3 417.4L187.3 417L190.3 417.7L197.3 417.4L200.3 418.3L202.3 418.3L205.3 418.7L208.3 418.6L210 418.9L213.3 419L217.3 419.6L222.2 419.7L226.2 419.4L227.2 419.5L228.9 419.9L229.2 420.4L232.2 421L234.2 421.9L237.2 422.6L238.1 422.9L239.3 423.9L240.2 424.4L244.4 426.9L245.6 428.9L247.9 430.9L248.8 432.9L249.6 435.9L251 439.9L252 443.9L252.3 445.9L252.3 446.9L251.6 450.9L250.8 452.9L249.2 454.9L243.9 458.9L242.2 459.4L236.2 460.7L217.3 461.9L212.3 461.8L209.3 461.6L204.3 462.1L193.3 462.1L181.3 462.5L172.3 462.2L166.3 462.5L158.3 463.2L152.3 463L139.4 463.5L134.4 463.9Z" fill="#00FFC2" fill-rule="evenodd"/>
<path d="M132.4 462.9L116.4 463.2L111.4 463L106.4 463.2L106.4 415.2L111.4 415.4L115.4 414.8L117.4 414.7L126.4 415.2L131.4 416L138.4 416.3L141.4 416.2L146.3 417.7L147.3 417.8L151.3 417.6L155.3 418.3L161.3 418.4L167.3 418.9L168.5 419.9L170.3 420.8L172.3 421L176.3 421L179.3 421.7L183.3 421.4L188.3 421.7L195.3 421.2L200.3 422.2L204.3 422.2L210.3 423.3L214.3 423.3L216.3 423.5L220.3 423.3L223.2 423.7L227.2 423.8L229.2 424.5L237.2 426.3L240.2 428.1L244.1 430.9L244.7 431.9L246.6 433.9L248.1 436.9L249.8 440.9L250.7 443.9L250.9 445.9L250.8 448.9L250.6 449.9L249.3 452.9L247.3 454.9L243.2 457.6L242.2 458.1L240.2 458.5L234.2 459.3L224.2 460.1L210.3 460.2L201.3 460.8L195.3 460.6L187.3 461L179.3 460.7L167.3 461.3L158.3 462.1L137.4 462.6L132.4 462.9Z" fill="#00FFA0" fill-rule="evenodd"/>
<path d="M132.4 462L124.4 462.4L116.4 462.5L111.4 462.2L106.4 462.5L106.4 417.1L112.4 417.5L118.4 416.9L123.4 417.1L125.4 417.3L128.4 418.1L139.4 418.8L147.3 420.2L151.3 420.4L155.3 420.8L159.3 420.6L163.3 422L165.3 422.6L170.3 423.2L173.3 424.1L178.3 424.7L181.3 424.8L185.3 424.6L188.3 424.7L192.3 424.3L196.3 424.6L199.3 425.5L202.3 425L204.3 425.1L207.3 426.2L208.3 426.4L212.3 426.2L218.3 427.1L222.2 426.7L226.2 427.5L230.2 427.7L236.2 429.8L239.2 430.5L240.3 430.9L241.2 431.7L242.4 432.9L243 433.9L244.2 434.9L246.2 437.3L248.2 440.9L248.6 442.9L249.1 443.9L249.4 445.9L249.5 448.9L249.1 449.9L248.4 450.9L247.6 452.9L246.5 453.9L245.1 454.9L241.3 456.9L239.2 457.4L225.2 458.9L216.3 458.8L201.3 459.6L194.3 459.4L187.3 459.9L178.3 459.5L158.3 461L132.4 462Z" fill="#00FF7E" fill-rule="evenodd"/>
<path d="M140.4 461L124.4 461.7L115.4 461.8L111.4 461.6L106.4 461.8L106.4 419.3L108.4 419.6L113.4 419.4L117.4 419.6L122.4 419.2L125.4 419.3L133.4 420.5L141.4 421.1L145.3 422.5L146.3 422.7L149.3 422.5L158.3 423.2L162.2 423.9L164.9 424.9L168.3 425.7L171.3 426.7L176.3 427.3L177.3 427.4L180.3 426.9L182.3 426.9L193.3 428.3L201.3 428.8L206.3 428.6L211.3 429.2L215.3 429L220.3 429.9L223.2 429.7L226.2 429.9L229.2 430.7L235.2 431.7L236.2 431.9L238.2 433.2L239.7 434.9L242.2 436.2L244.4 437.9L246.3 440.9L247.9 446.9L248 447.9L247.8 448.9L246.4 450.9L245.7 452.9L244.4 453.9L242.2 455L239.2 456.1L237.2 456.5L224.2 457.7L216.3 457.7L205.3 458.1L201.3 458.5L194.3 458.4L186.3 458.7L178.3 458.6L160.3 460L150.3 460.6L143.4 460.7L140.4 461Z" fill="#00FF5C" fill-rule="evenodd"/>
<path d="M128.4 460.9L116.4 461.2L106.4 461.1L106.4 421.5L109.4 421.6L112.4 421.1L114.4 421L119.4 421.6L122.4 421.5L127.4 421.7L135.9 422.9L141.4 423.4L144.4 424.5L146.3 424.9L153.3 424.8L157.3 425.5L160.3 425.8L164.3 427.1L167.3 427.7L171.3 429.1L176.3 430L177.3 430.1L180.3 429.7L181.3 429.8L183.3 430.5L185.3 430.8L188.3 430.7L195.3 430.9L201.3 431.4L205.3 431.2L209.3 431.7L213.3 431.7L218.3 431.9L223.2 432.6L227.6 433.9L234.2 434.3L236 434.9L238.2 436.8L241 437.9L242.3 438.9L243.5 440.9L244.3 441.9L245.2 443.7L246.3 446.9L246.4 447.9L246 448.9L243.4 452.9L242.2 453.5L238.3 454.9L236.2 455.4L226.2 456.4L217.3 456.8L204.3 457.1L200.3 457.4L193.3 457.3L184.3 457.7L179.3 457.5L172.3 458.1L160.3 459.3L148.3 459.9L143.4 459.9L138.4 460.5L128.4 460.9Z" fill="#00FF3A" fill-rule="evenodd"/>
<path d="M137.4 460L122.4 460.5L106.4 460.5L106.4 423.2L110.4 423.3L115.4 423L121.4 423.1L139.4 424.9L140.4 425.2L142.4 426L149.3 427L154.3 426.9L167.3 429.8L172.6 431.9L175.3 432.5L179.3 432.5L183.3 433.1L186.3 433L189.3 433.3L192.3 432.8L194.3 432.8L198.3 433.3L202.3 433.5L206.3 434.2L215.3 435L216.3 434.9L218.3 434.2L219.3 434.3L222.2 435.2L233.2 437.3L236.2 438.3L241.2 441.8L242.2 442.8L243.8 444.9L244.7 446.9L244.5 447.9L243.6 449.9L242.2 451.5L241.2 452.2L236.2 454.1L229.2 455.1L221.3 455.3L216.3 455.9L204.3 456.1L200.3 456.4L193.3 456.3L188.3 456.6L179.3 456.6L160.3 458.6L143.4 459.4L137.4 460Z" fill="#00FF18" fill-rule="evenodd"/>
<path d="M124.4 459.9L116.4 460.1L106.4 459.9L106.4 425.1L116.4 424.5L126.4 425.4L130.4 425.5L134.4 426.2L139.4 426.7L144.4 428.1L150.3 428.9L156.3 429.2L160.3 430.2L163.3 430.5L164.9 430.9L167 431.9L170.3 433.1L175.3 434.5L179.3 434.6L185.3 435.5L196.3 435.3L206.3 436.2L214.3 437.5L219.3 437.4L223.2 437.8L226.2 438.5L230.2 438.5L232.2 439L238.2 442.3L240.2 443.9L240.8 444.9L242.1 445.9L242.8 446.9L242.1 448.9L241.4 449.9L238.3 451.9L235.2 452.9L228.2 453.9L224.2 454L216.3 454.8L203.3 455.1L199.3 455.4L179.3 455.7L171.3 456.6L167.3 457.2L158.3 458.1L151.3 458.3L142.4 458.8L136.4 459.5L124.4 459.9Z" fill="#0AFF00" fill-rule="evenodd"/>
<path d="M136.4 458.9L120.4 459.5L106.4 459.4L106.4 426.6L115.4 426.1L126.4 426.9L130.4 426.9L138.4 428.1L145.7 429.9L152.3 430.8L154.3 430.9L160.3 431.9L173.3 436.1L179.3 437.2L188.3 437.6L194.3 437.5L200.3 438.6L203.3 438.8L206.3 438.7L210.3 439.3L216.3 439.5L224.2 440.9L230.2 441L234.6 442.9L236.3 443.9L236.6 444.9L237.4 445.9L238.9 446.9L239.2 447.9L238.7 448.9L237.1 449.9L236 450.9L232.3 451.9L228.2 452.5L222.2 453.1L207.3 454L177.3 454.9L167.3 456.5L158.3 457.5L146.3 458L136.4 458.9Z" fill="#2CFF00" fill-rule="evenodd"/>
<path d="M123.4 458.9L117.4 459.1L106.4 459L106.4 427.6L110.4 427.7L114.4 427.4L122.4 427.7L130.4 428.3L133.4 428.9L136.4 429.2L145.3 431.3L150.3 431.9L160.3 433.7L168.3 436L172.3 437.8L174.3 438.5L179.3 438.9L188.3 440L191.3 440.1L198.3 440.9L202.3 441L206.3 440.8L211.3 441.6L214.3 442.3L218.3 442.6L227.2 444.3L230.2 444.7L231.2 445L232.6 445.9L233.7 446.9L234.1 447.9L233.6 448.9L233.2 449.1L229.2 450.7L228.2 451L225.2 451.1L222.2 451.8L218.3 451.8L208.3 452.6L203.3 452.6L196.3 453.1L190.3 453.3L183.3 453.8L177.3 453.9L173.3 454.4L167.3 455.8L162.3 456.3L158.3 456.9L146.3 457.4L136.4 458.4L123.4 458.9Z" fill="#4EFF00" fill-rule="evenodd"/>
<path d="M136.4 457.9L120.4 458.6L106.4 458.5L106.4 428.8L109.4 429L112.4 428.8L116.4 428.9L121.4 428.8L129.4 429.5L133.4 430.3L136.4 430.6L147.3 433.3L154.3 434.2L158.2 434.9L166.3 437.1L172.3 439.9L174.3 440.4L178.3 440.7L182.3 441.6L185.2 441.9L187.3 442.4L191.3 442.1L197.3 442.9L200.3 443.5L207.3 444.1L210.3 444.6L218.7 444.9L223 445.9L224.5 446.9L224.1 447.9L220.3 449.4L216.3 449.6L213.3 450.4L209.7 450.9L204.3 450.9L195.3 452L190.3 452L185.3 452.5L178.3 452.8L172.3 453.5L166.3 455.1L158.3 456.2L146.3 456.9L136.4 457.9Z" fill="#70FF00" fill-rule="evenodd"/>
<path d="M128.4 457.9L118.4 458.2L106.4 458.1L106.4 430.2L111.4 429.8L116.4 430.2L120.4 429.9L128.4 430.7L136.4 432L146.3 434.4L152.3 435.4L161.3 437.2L167.3 439.4L170.3 441.1L176.3 443.2L179.3 443.4L182.3 444.1L195.3 446.2L199.3 445.8L201.3 445.9L202.7 446.9L200.8 448.9L199.3 449.4L193.3 450.3L190.3 450.3L187.3 451L181.3 450.9L172.3 452.5L166.3 454.2L161.3 455.1L157.3 455.6L146.3 456.3L137.4 457.4L128.4 457.9Z" fill="#92FF00" fill-rule="evenodd"/>
<path d="M136.4 456.9L128.4 457.5L120.4 457.8L106.4 457.7L106.4 431.5L112.4 430.9L116.4 431.3L120.4 431.2L126.4 431.7L136.4 433.1L140.4 434L146.3 435.6L149.3 436.1L153.3 437.1L159.3 438L161.3 438.5L165.3 440.1L170.4 442.9L172.5 443.9L177.3 445.6L179.3 446.6L180.3 446.8L184 446.9L185 447.9L180.3 448.4L177.3 449.9L174.3 450.5L168.3 452.7L163.9 453.9L157.4 454.9L146.3 455.8L136.4 456.9Z" fill="#B4FF00" fill-rule="evenodd"/>
<path d="M130.4 456.9L120.4 457.3L106.4 457.2L106.4 432.5L114.4 432.3L124.4 432.6L137.4 434.4L139.7 434.9L145.3 436.8L155.3 438.7L158.3 439.1L160.3 439.7L163 440.9L171 444.9L173.1 446.9L173.6 447.9L172.8 448.9L169.3 451.2L164.3 452.9L162.3 453.4L158.3 454.1L145.3 455.3L141.4 456L130.4 456.9Z" fill="#D6FF00" fill-rule="evenodd"/>
<path d="M115.4 456.9L106.4 456.8L106.4 433.5L115.4 433.4L118.4 433.6L122.4 433.6L128.4 434.2L132.7 434.9L137.4 435.5L145.3 438.1L156.1 439.9L158.3 440.6L167.7 444.9L168.7 445.9L169.8 447.9L170 448.9L168.8 449.9L167.3 450.7L162.3 452.4L158.3 453.3L145.3 454.8L140.4 455.6L131.4 456.4L121.4 456.9L115.4 456.9Z" fill="#F8FF00" fill-rule="evenodd"/>
<path d="M132.4 455.9L121.4 456.5L112.4 456.5L106.4 456.3L106.4 434.7L109.4 434.5L115.4 434.5L127.4 435L133.4 436.1L136.4 436.5L145.3 439.2L152.3 440.6L158.3 442.3L163.3 444.6L165.6 445.9L166.5 446.9L166.9 447.9L166.7 448.9L165.4 449.9L161.3 451.7L159.3 452.3L152.3 453.4L145.3 454.2L141.4 454.9L132.4 455.9Z" fill="#FFE400" fill-rule="evenodd"/>
<path d="M124.4 455.9L112.4 456L106.4 455.9L106.4 435.7L109.4 435.5L118.4 435.5L127.4 436L132.4 437L137.4 437.8L142.4 439.2L146.3 440.7L149.3 441.2L158.3 443.9L160.6 444.9L162.2 445.9L163.2 446.9L163.9 447.9L163.7 448.9L162.3 449.9L160.3 450.9L156.7 451.9L146.3 453.4L138.4 454.8L130.4 455.7L124.4 455.9Z" fill="#FFC200" fill-rule="evenodd"/>
<path d="M133.4 454.9L129.4 455.3L122.4 455.6L106.4 455.4L106.4 436.5L118.4 436.4L125.4 436.8L127.4 437L136.4 438.6L141.6 439.9L145.3 441.7L157.3 445.2L159.3 446.1L160.4 446.9L161.1 447.9L160.8 448.9L160.3 449.3L159.3 449.9L156.3 451L146.3 452.7L140.9 453.9L133.4 454.9Z" fill="#FFA000" fill-rule="evenodd"/>
<path d="M128.4 454.9L121.4 455.2L110.4 455.2L106.4 455L106.4 437.4L111.4 437.5L118.4 437.3L124.4 437.6L127.4 437.9L130.4 438.6L137.9 439.9L140.4 440.6L147.7 443.9L151.3 444.7L155 445.9L157 446.9L158.4 447.9L157.8 448.9L155.5 449.9L153.3 450.5L139.4 453.6L128.4 454.9Z" fill="#FF7E00" fill-rule="evenodd"/>
<path d="M133.4 453.9L128.4 454.5L122.4 454.8L110.4 454.7L106.4 454.5L106.4 438.4L111.4 438.5L118.4 438.2L123.4 438.4L125.4 438.6L136.4 440.5L139.4 441.5L146.3 444.6L150.3 445.9L151.7 446.9L152.3 447.9L152.1 448.9L150.7 449.9L140.2 452.9L133.4 453.9Z" fill="#FF5C00" fill-rule="evenodd"/>
<path d="M129.4 453.9L121.4 454.4L106.4 454.1L106.4 439.5L117.4 439.1L123.4 439.3L135.4 441.3L137.4 441.9L141.4 443.4L146.5 445.9L147.9 446.9L148.6 447.9L148.3 448.9L147 449.9L140.4 452.2L137.4 452.9L129.4 453.9Z" fill="#FF3A00" fill-rule="evenodd"/>
<path d="M122.4 453.9L110.4 453.9L106.4 453.7L106.4 440.5L114.4 440.1L122.4 440.2L125.4 440.4L128.8 440.9L136.4 442.6L140.4 444.1L143.9 445.9L145 446.9L145.5 447.9L145.2 448.9L143.9 449.9L138.9 451.9L128.4 453.5L122.4 453.9Z" fill="#FF0000" fill-rule="evenodd"/>
<path d="M128.4 453L121.4 453.5L106.4 453.2L106.4 441.4L113.4 440.9L124.4 441.1L127.4 441.5L135.4 443.3L137.4 443.9L141.7 445.9L142.9 446.9L143.4 447.9L143 448.9L142.4 449.4L141.5 449.9L138.4 451.3L135.5 451.9L128.4 453Z" fill="#FF0000" fill-rule="evenodd"/>
<rect x="169.4" y="403.5" width="87" height="120.8" fill="none" stroke="#fff" stroke-width="1" stroke-dasharray="1.2 1.2"/>
<rect x="257.2" y="403.5" width="79.4" height="120.8" fill="none" stroke="#fff" stroke-width="1" stroke-dasharray="1.2 1.2"/>
<text transform="translate(111.4,372)" font-size="14.20" fill="#E4E4E4" textLength="165.7" lengthAdjust="spacingAndGlyphs" stroke="#E4E4E4" stroke-width="0.2">PBDB-T:ITIC + <tspan fill="#EA0000" stroke="#EA0000" stroke-width="0.3">0.5%</tspan> DIO</text>
<text transform="translate(207.2,395)" font-size="13.20" fill="#EA0000" textLength="64.3" lengthAdjust="spacingAndGlyphs" stroke="#EA0000" stroke-width="0.3">Nucleation</text>
<text transform="translate(265.7,422.4)" font-size="13.20" fill="#EA0000" textLength="43.2" lengthAdjust="spacingAndGlyphs" stroke="#EA0000" stroke-width="0.3">Growth</text>
<text transform="translate(119,422.7)" font-size="10.80" fill="#D8D8D8" textLength="13.4" lengthAdjust="spacingAndGlyphs" stroke="#D8D8D8" stroke-width="0.15">PL</text>
<text transform="translate(272.8,493)" font-size="11.20" fill="#F0F0F0" textLength="51.7" lengthAdjust="spacingAndGlyphs" stroke="#F0F0F0" stroke-width="0.15">Scattering</text>
<text transform="translate(158.1,548.3)" font-size="12.20" fill="#F0F0F0" textLength="113.4" lengthAdjust="spacingAndGlyphs" stroke="#F0F0F0" stroke-width="0.15">Increased scattering</text>
<path d="M171.9 533.1H244" stroke="#fff" stroke-width="1.3"/><path d="M250.3 533.1l-7 -2v4z" fill="#fff"/>
<rect x="106.4" y="357" width="231.7" height="220.8" fill="none" stroke="#111" stroke-width="1.3"/>
<path d="M106.4 577.8h-5M106.4 546.3h-5M106.4 514.7h-5M106.4 483.2h-5M106.4 451.6h-5M106.4 420.1h-5M106.4 388.5h-5M106.4 357h-5" stroke="#111" stroke-width="1.3" fill="none"/>
<path d="M106.4 577.8v5M152.7 577.8v5M199.1 577.8v5M245.4 577.8v5M291.8 577.8v5M338.1 577.8v5" stroke="#111" stroke-width="1.3" fill="none"/>
<text transform="translate(99,582.4) scale(0.980,1)" font-size="13.85" text-anchor="end" stroke="#000" stroke-width="0.4">300</text><text transform="translate(99,550.8) scale(0.980,1)" font-size="13.85" text-anchor="end" stroke="#000" stroke-width="0.4">400</text><text transform="translate(99,519.3) scale(0.980,1)" font-size="13.85" text-anchor="end" stroke="#000" stroke-width="0.4">500</text><text transform="translate(99,487.7) scale(0.980,1)" font-size="13.85" text-anchor="end" stroke="#000" stroke-width="0.4">600</text><text transform="translate(99,456.2) scale(0.980,1)" font-size="13.85" text-anchor="end" stroke="#000" stroke-width="0.4">700</text><text transform="translate(99,424.6) scale(0.980,1)" font-size="13.85" text-anchor="end" stroke="#000" stroke-width="0.4">800</text><text transform="translate(99,393.1) scale(0.980,1)" font-size="13.85" text-anchor="end" stroke="#000" stroke-width="0.4">900</text><text transform="translate(99,361.6) scale(0.980,1)" font-size="13.85" text-anchor="end" stroke="#000" stroke-width="0.4">1000</text>
<text transform="translate(106.4,595.5) scale(0.980,1)" font-size="13.85" text-anchor="middle" stroke="#000" stroke-width="0.4">0</text><text transform="translate(152.7,595.5) scale(0.980,1)" font-size="13.85" text-anchor="middle" stroke="#000" stroke-width="0.4">2000</text><text transform="translate(199.1,595.5) scale(0.980,1)" font-size="13.85" text-anchor="middle" stroke="#000" stroke-width="0.4">4000</text><text transform="translate(245.4,595.5) scale(0.980,1)" font-size="13.85" text-anchor="middle" stroke="#000" stroke-width="0.4">6000</text><text transform="translate(291.8,595.5) scale(0.980,1)" font-size="13.85" text-anchor="middle" stroke="#000" stroke-width="0.4">8000</text><text transform="translate(338.1,595.5) scale(0.980,1)" font-size="13.85" text-anchor="middle" stroke="#000" stroke-width="0.4">10000</text>
<text transform="translate(227,614.5)" font-size="19" text-anchor="middle" textLength="84" lengthAdjust="spacingAndGlyphs" stroke="#000" stroke-width="0.3">Time (ms)</text>
<text transform="translate(69,467) rotate(-90)" font-size="17.50" text-anchor="middle" textLength="142" lengthAdjust="spacingAndGlyphs" stroke="#000" stroke-width="0.3">Wavelength (nm)</text>
<rect x="344" y="357.3" width="16.7" height="220.6" fill="#0000FF"/>
<rect x="344" y="564" width="16.7" height="7.20" fill="#0000FF"/>
<rect x="344" y="557.1" width="16.7" height="7.20" fill="#002CFF"/>
<rect x="344" y="550.2" width="16.7" height="7.20" fill="#004EFF"/>
<rect x="344" y="543.3" width="16.7" height="7.20" fill="#0070FF"/>
<rect x="344" y="536.4" width="16.7" height="7.20" fill="#0092FF"/>
<rect x="344" y="529.5" width="16.7" height="7.20" fill="#00B4FF"/>
<rect x="344" y="522.6" width="16.7" height="7.20" fill="#00D6FF"/>
<rect x="344" y="515.7" width="16.7" height="7.20" fill="#00F8FF"/>
<rect x="344" y="508.8" width="16.7" height="7.20" fill="#00FFE4"/>
<rect x="344" y="501.9" width="16.7" height="7.20" fill="#00FFC2"/>
<rect x="344" y="495" width="16.7" height="7.20" fill="#00FFA0"/>
<rect x="344" y="488.1" width="16.7" height="7.20" fill="#00FF7E"/>
<rect x="344" y="481.2" width="16.7" height="7.20" fill="#00FF5C"/>
<rect x="344" y="474.3" width="16.7" height="7.20" fill="#00FF3A"/>
<rect x="344" y="467.4" width="16.7" height="7.20" fill="#00FF18"/>
<rect x="344" y="460.6" width="16.7" height="7.20" fill="#0AFF00"/>
<rect x="344" y="453.7" width="16.7" height="7.20" fill="#2CFF00"/>
<rect x="344" y="446.8" width="16.7" height="7.20" fill="#4EFF00"/>
<rect x="344" y="439.9" width="16.7" height="7.20" fill="#70FF00"/>
<rect x="344" y="433" width="16.7" height="7.20" fill="#92FF00"/>
<rect x="344" y="426.1" width="16.7" height="7.20" fill="#B4FF00"/>
<rect x="344" y="419.2" width="16.7" height="7.20" fill="#D6FF00"/>
<rect x="344" y="412.3" width="16.7" height="7.20" fill="#F8FF00"/>
<rect x="344" y="405.4" width="16.7" height="7.20" fill="#FFE400"/>
<rect x="344" y="398.5" width="16.7" height="7.20" fill="#FFC200"/>
<rect x="344" y="391.6" width="16.7" height="7.20" fill="#FFA000"/>
<rect x="344" y="384.7" width="16.7" height="7.20" fill="#FF7E00"/>
<rect x="344" y="377.8" width="16.7" height="7.20" fill="#FF5C00"/>
<rect x="344" y="370.9" width="16.7" height="7.20" fill="#FF3A00"/>
<rect x="344" y="364" width="16.7" height="7.20" fill="#FF0000"/>
<rect x="344" y="357.3" width="16.7" height="6.9" fill="#FF0000"/>
<rect x="344" y="357.3" width="16.7" height="220.6" fill="none" stroke="#111" stroke-width="1.2"/>
<path d="M360.7 570.9L365.2 570.9" stroke="#111" stroke-width="1.2"/>
<text transform="translate(370.2,575.3)" font-size="12.40" textLength="33.8" lengthAdjust="spacingAndGlyphs" stroke="#000" stroke-width="0.3">50.00</text>
<path d="M360.7 529.5L365.2 529.5" stroke="#111" stroke-width="1.2"/>
<text transform="translate(370.2,533.9)" font-size="12.40" textLength="33.8" lengthAdjust="spacingAndGlyphs" stroke="#000" stroke-width="0.3">120.0</text>
<path d="M360.7 488.1L365.2 488.1" stroke="#111" stroke-width="1.2"/>
<text transform="translate(370.2,492.5)" font-size="12.40" textLength="33.8" lengthAdjust="spacingAndGlyphs" stroke="#000" stroke-width="0.3">190.0</text>
<path d="M360.7 446.8L365.2 446.8" stroke="#111" stroke-width="1.2"/>
<text transform="translate(370.2,451.2)" font-size="12.40" textLength="33.8" lengthAdjust="spacingAndGlyphs" stroke="#000" stroke-width="0.3">260.0</text>
<path d="M360.7 405.4L365.2 405.4" stroke="#111" stroke-width="1.2"/>
<text transform="translate(370.2,409.8)" font-size="12.40" textLength="33.8" lengthAdjust="spacingAndGlyphs" stroke="#000" stroke-width="0.3">330.0</text>
<path d="M360.7 364L365.2 364" stroke="#111" stroke-width="1.2"/>
<text transform="translate(370.2,368.4)" font-size="12.40" textLength="33.8" lengthAdjust="spacingAndGlyphs" stroke="#000" stroke-width="0.3">400.0</text>
<text transform="translate(313.7,348.2)" font-size="13.50" textLength="86.2" lengthAdjust="spacingAndGlyphs" stroke="#000" stroke-width="0.45">Intensity (a.u.)</text>
<text transform="translate(21.4,340.2) scale(1.030,1)" font-size="31" stroke="#000" stroke-width="0.3">(d)</text>
</g>
<g id="panel_e">
<path d="M515.1 539.9L517.5 547L519.9 545.5L522.3 548L524.7 543.9L527.2 546.4L529.6 546.3L532 548.6L534.4 547L536.8 545.2L539.2 543.7L541.6 542.6L544 544.9L546.4 546.6L548.8 544.8L551.2 540.5L553.7 544.6L556.1 542.7L558.5 539.3L560.9 544.7L563.3 540.7L565.7 538.2L568.1 542.4L570.5 540L572.9 537.4L575.3 541.9L577.7 539.1L580.2 537.3L582.6 537.5L585 538.4L587.4 539.7L589.8 537.6L592.2 538L594.6 537L597 537.3L599.4 534L601.8 534.1L604.2 536.6L606.7 534.6L609.1 536.1L611.5 534.7L613.9 534.9L616.3 532.7L618.7 534.1L621.1 533.2L623.5 531.2L625.9 532.8L628.3 529.3L630.7 533.6L633.2 529.7L635.6 531.4L638 531L640.4 529.3L642.8 529.7L645.2 530L647.6 532.3L650 531.3L652.4 527.1L654.8 523.3L657.2 519L659.7 517.1L662.1 497.4L664.5 481.9L666.9 457.3L669.3 424.9L671.7 379.5L674.1 389.7L676.5 388.5L678.9 387.3L681.3 389.7L683.8 395.1L686.2 392.9L688.6 390.4L691 393.5L693.4 387.2L695.8 387.4L698.2 388.2L700.6 391.5L703 388.3L705.4 394.4L707.8 392.9L710.3 391.6L712.7 389.1L715.1 391.4L717.5 394.4L719.9 392.6L722.3 392.7L724.7 393L727.1 394.1L729.5 392L731.9 391.7L734.3 388.9L736.8 388.7L739.2 391L741.6 391.6L744 388.8L746.4 387.9L748.8 389.7L751.2 388.6L753.6 387.4L756 395.2L758.4 388L760.8 393.2L763.3 391.4L765.7 388.7L768.1 389.4L770.5 394.3L772.9 389.9L775.3 395L777.7 392.5L780.1 388.5L782.5 391.9L784.9 390.4L787.3 389.3L789.8 388.5L792.2 389L794.6 395.5L797 391.9L799.4 391.5L801.8 395.1" fill="none" stroke="#111" stroke-width="1.15" stroke-linejoin="round"/>
<path d="M516.5 549.2L662.9 527.9" stroke="#FF2020" stroke-width="1.3"/>
<text transform="translate(530.8,523)" font-size="13.60" fill="#E01010" textLength="66.8" lengthAdjust="spacingAndGlyphs" stroke="#E01010" stroke-width="0.3">Nucleation</text>
<text transform="translate(515.9,360.9)" font-size="14.60" textLength="66.8" lengthAdjust="spacingAndGlyphs" stroke="#000" stroke-width="0.3">0.5% DIO</text>
<path d="M623.6 359.5L650.5 359.5" stroke="#111" stroke-width="1.0"/>
<text transform="translate(654.3,364.4)" font-size="14.60" textLength="142.7" lengthAdjust="spacingAndGlyphs" stroke="#000" stroke-width="0.3">Scattering at 530 nm</text>
<rect x="512.7" y="343.1" width="289.1" height="231.4" fill="none" stroke="#1c1c1c" stroke-width="1.2"/>
<path d="M512.7 574.5h-5M512.7 497.4h-5M512.7 420.2h-5M512.7 343.1h-5M512.7 535.9h-2.6M512.7 458.8h-2.6M512.7 381.7h-2.6" stroke="#1c1c1c" stroke-width="1.2" fill="none"/>
<path d="M512.7 574.5v5M560.9 574.5v5M609.1 574.5v5M657.2 574.5v5M705.4 574.5v5M753.6 574.5v5M801.8 574.5v5M536.8 574.5v2.6M585 574.5v2.6M633.2 574.5v2.6M681.3 574.5v2.6M729.5 574.5v2.6M777.7 574.5v2.6" stroke="#1c1c1c" stroke-width="1.2" fill="none"/>
<text transform="translate(504.8,579) scale(0.930,1)" font-size="15" text-anchor="end" stroke="#000" stroke-width="0.4">75</text><text transform="translate(504.8,501.8) scale(0.930,1)" font-size="15" text-anchor="end" stroke="#000" stroke-width="0.4">100</text><text transform="translate(504.8,424.7) scale(0.930,1)" font-size="15" text-anchor="end" stroke="#000" stroke-width="0.4">125</text><text transform="translate(504.8,347.6) scale(0.930,1)" font-size="15" text-anchor="end" stroke="#000" stroke-width="0.4">150</text>
<text transform="translate(512.7,593.6) scale(0.930,1)" font-size="15" text-anchor="middle" stroke="#000" stroke-width="0.4">0</text><text transform="translate(560.9,593.6) scale(0.930,1)" font-size="15" text-anchor="middle" stroke="#000" stroke-width="0.4">2000</text><text transform="translate(609.1,593.6) scale(0.930,1)" font-size="15" text-anchor="middle" stroke="#000" stroke-width="0.4">4000</text><text transform="translate(657.2,593.6) scale(0.930,1)" font-size="15" text-anchor="middle" stroke="#000" stroke-width="0.4">6000</text><text transform="translate(705.4,593.6) scale(0.930,1)" font-size="15" text-anchor="middle" stroke="#000" stroke-width="0.4">8000</text><text transform="translate(753.6,593.6) scale(0.930,1)" font-size="15" text-anchor="middle" stroke="#000" stroke-width="0.4">10000</text><text transform="translate(801.8,593.6) scale(0.930,1)" font-size="15" text-anchor="middle" stroke="#000" stroke-width="0.4">12000</text>
<text transform="translate(657.5,615)" font-size="18.50" text-anchor="middle" textLength="88" lengthAdjust="spacingAndGlyphs" stroke="#000" stroke-width="0.3">Time (ms)</text>
<text transform="translate(469,453) rotate(-90)" font-size="17.50" text-anchor="middle" textLength="125" lengthAdjust="spacingAndGlyphs" stroke="#000" stroke-width="0.3">Intensity (a.u.)</text>
<text transform="translate(428.4,340.2) scale(0.995,1)" font-size="31" stroke="#000" stroke-width="0.3">(e)</text>
</g>
<g id="panel_f">
<clipPath id="cf"><rect x="908.4" y="343" width="288" height="231.5"/></clipPath>
<path d="M919.9 260.5L922.8 322.8L925.7 364.4L928.6 394.1L931.4 416.4L934.3 433.7L937.2 447.5L940.1 458.8L943 468.3L945.8 476.2L948.7 483.1L951.6 489L954.5 494.1L957.4 498.7L960.2 502.8L963.1 506.4L966 509.6L968.9 512.6L971.8 515.2L974.6 517.7L977.5 519.9L980.4 521.9L983.3 523.8L986.2 525.6L989 527.2L991.9 528.7L994.8 530.1L997.7 531.4L1000.6 532.6L1003.4 533.7L1006.3 534.8L1009.2 535.8L1012.1 536.7L1015 537.6L1017.8 538.5L1020.7 539.2L1023.6 540L1026.5 540.7L1029.4 541.4L1032.2 542L1035.1 542.6L1038 543.2L1040.9 543.7L1043.8 544.2L1046.6 544.7L1049.5 545.1L1052.4 545.6L1055.3 546L1058.2 546.4L1061 546.7L1063.9 547.1L1066.8 547.4L1069.7 547.7L1072.6 548L1075.4 548.2L1078.3 548.5L1081.2 548.7L1084.1 548.9L1087 549.1L1089.8 549.3L1092.7 549.5L1095.6 549.6L1098.5 549.7L1101.4 549.8L1104.2 549.9L1107.1 550L1110 550L1112.9 550.1L1115.8 550.1L1118.6 550L1121.5 550L1124.4 549.9L1127.3 549.8L1130.2 549.6L1133 549.5L1135.9 549.2L1138.8 548.9L1141.7 548.6L1144.6 548.2L1147.4 547.8L1150.3 547.2L1153.2 546.5L1156.1 545.8L1159 544.8L1161.8 543.7L1164.7 542.4L1167.6 540.7L1170.5 538.7L1173.4 536.1L1176.2 532.6L1179.1 528L1182 521.5L1184.9 511.7L1187.8 495.3L1190.6 462.2L1193.5 362.8" fill="none" stroke="#FF8000" stroke-width="1.5" clip-path="url(#cf)"/>
<path d="M923.2 362h4.9v4.9h-4.9zM926.1 391.7h4.9v4.9h-4.9zM929 413.9h4.9v4.9h-4.9zM931.9 431.2h4.9v4.9h-4.9zM934.7 445.1h4.9v4.9h-4.9zM937.6 456.4h4.9v4.9h-4.9zM940.5 465.8h4.9v4.9h-4.9zM943.4 473.8h4.9v4.9h-4.9zM946.3 480.6h4.9v4.9h-4.9zM949.1 486.5h4.9v4.9h-4.9zM952 491.7h4.9v4.9h-4.9zM954.9 496.3h4.9v4.9h-4.9zM957.8 500.3h4.9v4.9h-4.9zM960.7 503.9h4.9v4.9h-4.9zM963.5 507.2h4.9v4.9h-4.9zM966.4 510.1h4.9v4.9h-4.9zM969.3 512.8h4.9v4.9h-4.9zM972.2 515.2h4.9v4.9h-4.9zM975.1 517.4h4.9v4.9h-4.9zM977.9 519.5h4.9v4.9h-4.9zM980.8 521.4h4.9v4.9h-4.9zM983.7 523.1h4.9v4.9h-4.9zM986.6 524.7h4.9v4.9h-4.9zM989.5 526.2h4.9v4.9h-4.9zM992.3 527.6h4.9v4.9h-4.9zM995.2 528.9h4.9v4.9h-4.9zM998.1 530.1h4.9v4.9h-4.9zM1001 531.3h4.9v4.9h-4.9zM1003.9 532.3h4.9v4.9h-4.9zM1006.8 533.3h4.9v4.9h-4.9zM1009.6 534.3h4.9v4.9h-4.9zM1012.5 535.2h4.9v4.9h-4.9zM1015.4 536h4.9v4.9h-4.9zM1018.3 536.8h4.9v4.9h-4.9zM1021.1 537.5h4.9v4.9h-4.9zM1024 538.2h4.9v4.9h-4.9zM1026.9 538.9h4.9v4.9h-4.9zM1029.8 539.5h4.9v4.9h-4.9zM1032.7 540.1h4.9v4.9h-4.9zM1035.5 540.7h4.9v4.9h-4.9zM1038.4 541.2h4.9v4.9h-4.9zM1041.3 541.7h4.9v4.9h-4.9zM1044.2 542.2h4.9v4.9h-4.9zM1047.1 542.7h4.9v4.9h-4.9zM1050 543.1h4.9v4.9h-4.9zM1052.8 543.5h4.9v4.9h-4.9zM1055.7 543.9h4.9v4.9h-4.9zM1058.6 544.3h4.9v4.9h-4.9zM1061.5 544.6h4.9v4.9h-4.9zM1064.3 544.9h4.9v4.9h-4.9zM1067.2 545.2h4.9v4.9h-4.9zM1070.1 545.5h4.9v4.9h-4.9zM1073 545.8h4.9v4.9h-4.9zM1075.9 546h4.9v4.9h-4.9zM1078.8 546.3h4.9v4.9h-4.9zM1081.6 546.5h4.9v4.9h-4.9zM1084.5 546.7h4.9v4.9h-4.9zM1087.4 546.9h4.9v4.9h-4.9zM1090.3 547h4.9v4.9h-4.9zM1093.2 547.2h4.9v4.9h-4.9zM1096 547.3h4.9v4.9h-4.9zM1098.9 547.4h4.9v4.9h-4.9zM1101.8 547.5h4.9v4.9h-4.9zM1104.7 547.5h4.9v4.9h-4.9zM1107.5 547.6h4.9v4.9h-4.9zM1110.4 547.6h4.9v4.9h-4.9zM1113.3 547.6h4.9v4.9h-4.9zM1116.2 547.6h4.9v4.9h-4.9zM1119.1 547.5h4.9v4.9h-4.9zM1122 547.4h4.9v4.9h-4.9zM1124.8 547.3h4.9v4.9h-4.9zM1127.7 547.2h4.9v4.9h-4.9zM1130.6 547h4.9v4.9h-4.9zM1133.5 546.8h4.9v4.9h-4.9zM1136.4 546.5h4.9v4.9h-4.9zM1139.2 546.2h4.9v4.9h-4.9zM1142.1 545.8h4.9v4.9h-4.9zM1145 545.3h4.9v4.9h-4.9zM1147.9 544.8h4.9v4.9h-4.9zM1150.8 544.1h4.9v4.9h-4.9zM1153.6 543.3h4.9v4.9h-4.9zM1156.5 542.4h4.9v4.9h-4.9zM1159.4 541.3h4.9v4.9h-4.9zM1162.3 539.9h4.9v4.9h-4.9zM1165.2 538.3h4.9v4.9h-4.9zM1168 536.2h4.9v4.9h-4.9zM1170.9 533.6h4.9v4.9h-4.9zM1173.8 530.2h4.9v4.9h-4.9zM1176.7 525.6h4.9v4.9h-4.9zM1179.5 519.1h4.9v4.9h-4.9zM1182.4 509.3h4.9v4.9h-4.9zM1185.3 492.8h4.9v4.9h-4.9zM1188.2 459.8h4.9v4.9h-4.9zM1191.1 360.4h4.9v4.9h-4.9z" fill="#FF8000" clip-path="url(#cf2)"/>
<path d="M922.8 233.4L925.7 289.8L928.6 330.2L931.4 360.4L934.3 383.9L937.2 402.7L940.1 418.1L943 430.9L945.8 441.7L948.7 451L951.6 459L954.5 466.1L957.4 472.3L960.2 477.8L963.1 482.7L966 487.1L968.9 491.1L971.8 494.8L974.6 498.1L977.5 501.1L980.4 503.9L983.3 506.5L986.2 508.9L989 511.1L991.9 513.1L994.8 515L997.7 516.8L1000.6 518.4L1003.4 520L1006.3 521.5L1009.2 522.8L1012.1 524.1L1015 525.4L1017.8 526.5L1020.7 527.6L1023.6 528.6L1026.5 529.6L1029.4 530.5L1032.2 531.4L1035.1 532.2L1038 533L1040.9 533.8L1043.8 534.5L1046.6 535.1L1049.5 535.8L1052.4 536.4L1055.3 537L1058.2 537.5L1061 538L1063.9 538.5L1066.8 539L1069.7 539.5L1072.6 539.9L1075.4 540.3L1078.3 540.6L1081.2 541L1084.1 541.3L1087 541.6L1089.8 541.9L1092.7 542.2L1095.6 542.4L1098.5 542.6L1101.4 542.8L1104.2 543L1107.1 543.1L1110 543.3L1112.9 543.4L1115.8 543.4L1118.6 543.5L1121.5 543.5L1124.4 543.5L1127.3 543.4L1130.2 543.3L1133 543.2L1135.9 543L1138.8 542.8L1141.7 542.5L1144.6 542.1L1147.4 541.7L1150.3 541.2L1153.2 540.5L1156.1 539.7L1159 538.8L1161.8 537.7L1164.7 536.3L1167.6 534.6L1170.5 532.5L1173.4 529.7L1176.2 526.2L1179.1 521.4L1182 514.5L1184.9 504.2L1187.8 486.8L1190.6 451.9L1193.5 346.7" fill="none" stroke="#7F00FF" stroke-width="1.5" clip-path="url(#cf)"/>
<path d="M928.9 360.4a2.55 2.55 0 1 0 5.1 0a2.55 2.55 0 1 0 -5.1 0zM931.8 383.9a2.55 2.55 0 1 0 5.1 0a2.55 2.55 0 1 0 -5.1 0zM934.6 402.7a2.55 2.55 0 1 0 5.1 0a2.55 2.55 0 1 0 -5.1 0zM937.5 418.1a2.55 2.55 0 1 0 5.1 0a2.55 2.55 0 1 0 -5.1 0zM940.4 430.9a2.55 2.55 0 1 0 5.1 0a2.55 2.55 0 1 0 -5.1 0zM943.3 441.7a2.55 2.55 0 1 0 5.1 0a2.55 2.55 0 1 0 -5.1 0zM946.2 451a2.55 2.55 0 1 0 5.1 0a2.55 2.55 0 1 0 -5.1 0zM949.1 459a2.55 2.55 0 1 0 5.1 0a2.55 2.55 0 1 0 -5.1 0zM951.9 466.1a2.55 2.55 0 1 0 5.1 0a2.55 2.55 0 1 0 -5.1 0zM954.8 472.3a2.55 2.55 0 1 0 5.1 0a2.55 2.55 0 1 0 -5.1 0zM957.7 477.8a2.55 2.55 0 1 0 5.1 0a2.55 2.55 0 1 0 -5.1 0zM960.6 482.7a2.55 2.55 0 1 0 5.1 0a2.55 2.55 0 1 0 -5.1 0zM963.5 487.1a2.55 2.55 0 1 0 5.1 0a2.55 2.55 0 1 0 -5.1 0zM966.3 491.1a2.55 2.55 0 1 0 5.1 0a2.55 2.55 0 1 0 -5.1 0zM969.2 494.8a2.55 2.55 0 1 0 5.1 0a2.55 2.55 0 1 0 -5.1 0zM972.1 498.1a2.55 2.55 0 1 0 5.1 0a2.55 2.55 0 1 0 -5.1 0zM975 501.1a2.55 2.55 0 1 0 5.1 0a2.55 2.55 0 1 0 -5.1 0zM977.9 503.9a2.55 2.55 0 1 0 5.1 0a2.55 2.55 0 1 0 -5.1 0zM980.7 506.5a2.55 2.55 0 1 0 5.1 0a2.55 2.55 0 1 0 -5.1 0zM983.6 508.9a2.55 2.55 0 1 0 5.1 0a2.55 2.55 0 1 0 -5.1 0zM986.5 511.1a2.55 2.55 0 1 0 5.1 0a2.55 2.55 0 1 0 -5.1 0zM989.4 513.1a2.55 2.55 0 1 0 5.1 0a2.55 2.55 0 1 0 -5.1 0zM992.2 515a2.55 2.55 0 1 0 5.1 0a2.55 2.55 0 1 0 -5.1 0zM995.1 516.8a2.55 2.55 0 1 0 5.1 0a2.55 2.55 0 1 0 -5.1 0zM998 518.4a2.55 2.55 0 1 0 5.1 0a2.55 2.55 0 1 0 -5.1 0zM1000.9 520a2.55 2.55 0 1 0 5.1 0a2.55 2.55 0 1 0 -5.1 0zM1003.8 521.5a2.55 2.55 0 1 0 5.1 0a2.55 2.55 0 1 0 -5.1 0zM1006.7 522.8a2.55 2.55 0 1 0 5.1 0a2.55 2.55 0 1 0 -5.1 0zM1009.5 524.1a2.55 2.55 0 1 0 5.1 0a2.55 2.55 0 1 0 -5.1 0zM1012.4 525.4a2.55 2.55 0 1 0 5.1 0a2.55 2.55 0 1 0 -5.1 0zM1015.3 526.5a2.55 2.55 0 1 0 5.1 0a2.55 2.55 0 1 0 -5.1 0zM1018.2 527.6a2.55 2.55 0 1 0 5.1 0a2.55 2.55 0 1 0 -5.1 0zM1021.1 528.6a2.55 2.55 0 1 0 5.1 0a2.55 2.55 0 1 0 -5.1 0zM1023.9 529.6a2.55 2.55 0 1 0 5.1 0a2.55 2.55 0 1 0 -5.1 0zM1026.8 530.5a2.55 2.55 0 1 0 5.1 0a2.55 2.55 0 1 0 -5.1 0zM1029.7 531.4a2.55 2.55 0 1 0 5.1 0a2.55 2.55 0 1 0 -5.1 0zM1032.6 532.2a2.55 2.55 0 1 0 5.1 0a2.55 2.55 0 1 0 -5.1 0zM1035.5 533a2.55 2.55 0 1 0 5.1 0a2.55 2.55 0 1 0 -5.1 0zM1038.3 533.8a2.55 2.55 0 1 0 5.1 0a2.55 2.55 0 1 0 -5.1 0zM1041.2 534.5a2.55 2.55 0 1 0 5.1 0a2.55 2.55 0 1 0 -5.1 0zM1044.1 535.1a2.55 2.55 0 1 0 5.1 0a2.55 2.55 0 1 0 -5.1 0zM1047 535.8a2.55 2.55 0 1 0 5.1 0a2.55 2.55 0 1 0 -5.1 0zM1049.9 536.4a2.55 2.55 0 1 0 5.1 0a2.55 2.55 0 1 0 -5.1 0zM1052.7 537a2.55 2.55 0 1 0 5.1 0a2.55 2.55 0 1 0 -5.1 0zM1055.6 537.5a2.55 2.55 0 1 0 5.1 0a2.55 2.55 0 1 0 -5.1 0zM1058.5 538a2.55 2.55 0 1 0 5.1 0a2.55 2.55 0 1 0 -5.1 0zM1061.4 538.5a2.55 2.55 0 1 0 5.1 0a2.55 2.55 0 1 0 -5.1 0zM1064.2 539a2.55 2.55 0 1 0 5.1 0a2.55 2.55 0 1 0 -5.1 0zM1067.1 539.5a2.55 2.55 0 1 0 5.1 0a2.55 2.55 0 1 0 -5.1 0zM1070 539.9a2.55 2.55 0 1 0 5.1 0a2.55 2.55 0 1 0 -5.1 0zM1072.9 540.3a2.55 2.55 0 1 0 5.1 0a2.55 2.55 0 1 0 -5.1 0zM1075.8 540.6a2.55 2.55 0 1 0 5.1 0a2.55 2.55 0 1 0 -5.1 0zM1078.7 541a2.55 2.55 0 1 0 5.1 0a2.55 2.55 0 1 0 -5.1 0zM1081.5 541.3a2.55 2.55 0 1 0 5.1 0a2.55 2.55 0 1 0 -5.1 0zM1084.4 541.6a2.55 2.55 0 1 0 5.1 0a2.55 2.55 0 1 0 -5.1 0zM1087.3 541.9a2.55 2.55 0 1 0 5.1 0a2.55 2.55 0 1 0 -5.1 0zM1090.2 542.2a2.55 2.55 0 1 0 5.1 0a2.55 2.55 0 1 0 -5.1 0zM1093.1 542.4a2.55 2.55 0 1 0 5.1 0a2.55 2.55 0 1 0 -5.1 0zM1095.9 542.6a2.55 2.55 0 1 0 5.1 0a2.55 2.55 0 1 0 -5.1 0zM1098.8 542.8a2.55 2.55 0 1 0 5.1 0a2.55 2.55 0 1 0 -5.1 0zM1101.7 543a2.55 2.55 0 1 0 5.1 0a2.55 2.55 0 1 0 -5.1 0zM1104.6 543.1a2.55 2.55 0 1 0 5.1 0a2.55 2.55 0 1 0 -5.1 0zM1107.5 543.3a2.55 2.55 0 1 0 5.1 0a2.55 2.55 0 1 0 -5.1 0zM1110.3 543.4a2.55 2.55 0 1 0 5.1 0a2.55 2.55 0 1 0 -5.1 0zM1113.2 543.4a2.55 2.55 0 1 0 5.1 0a2.55 2.55 0 1 0 -5.1 0zM1116.1 543.5a2.55 2.55 0 1 0 5.1 0a2.55 2.55 0 1 0 -5.1 0zM1119 543.5a2.55 2.55 0 1 0 5.1 0a2.55 2.55 0 1 0 -5.1 0zM1121.9 543.5a2.55 2.55 0 1 0 5.1 0a2.55 2.55 0 1 0 -5.1 0zM1124.7 543.4a2.55 2.55 0 1 0 5.1 0a2.55 2.55 0 1 0 -5.1 0zM1127.6 543.3a2.55 2.55 0 1 0 5.1 0a2.55 2.55 0 1 0 -5.1 0zM1130.5 543.2a2.55 2.55 0 1 0 5.1 0a2.55 2.55 0 1 0 -5.1 0zM1133.4 543a2.55 2.55 0 1 0 5.1 0a2.55 2.55 0 1 0 -5.1 0zM1136.3 542.8a2.55 2.55 0 1 0 5.1 0a2.55 2.55 0 1 0 -5.1 0zM1139.1 542.5a2.55 2.55 0 1 0 5.1 0a2.55 2.55 0 1 0 -5.1 0zM1142 542.1a2.55 2.55 0 1 0 5.1 0a2.55 2.55 0 1 0 -5.1 0zM1144.9 541.7a2.55 2.55 0 1 0 5.1 0a2.55 2.55 0 1 0 -5.1 0zM1147.8 541.2a2.55 2.55 0 1 0 5.1 0a2.55 2.55 0 1 0 -5.1 0zM1150.7 540.5a2.55 2.55 0 1 0 5.1 0a2.55 2.55 0 1 0 -5.1 0zM1153.5 539.7a2.55 2.55 0 1 0 5.1 0a2.55 2.55 0 1 0 -5.1 0zM1156.4 538.8a2.55 2.55 0 1 0 5.1 0a2.55 2.55 0 1 0 -5.1 0zM1159.3 537.7a2.55 2.55 0 1 0 5.1 0a2.55 2.55 0 1 0 -5.1 0zM1162.2 536.3a2.55 2.55 0 1 0 5.1 0a2.55 2.55 0 1 0 -5.1 0zM1165.1 534.6a2.55 2.55 0 1 0 5.1 0a2.55 2.55 0 1 0 -5.1 0zM1167.9 532.5a2.55 2.55 0 1 0 5.1 0a2.55 2.55 0 1 0 -5.1 0zM1170.8 529.7a2.55 2.55 0 1 0 5.1 0a2.55 2.55 0 1 0 -5.1 0zM1173.7 526.2a2.55 2.55 0 1 0 5.1 0a2.55 2.55 0 1 0 -5.1 0zM1176.6 521.4a2.55 2.55 0 1 0 5.1 0a2.55 2.55 0 1 0 -5.1 0zM1179.5 514.5a2.55 2.55 0 1 0 5.1 0a2.55 2.55 0 1 0 -5.1 0zM1182.3 504.2a2.55 2.55 0 1 0 5.1 0a2.55 2.55 0 1 0 -5.1 0zM1185.2 486.8a2.55 2.55 0 1 0 5.1 0a2.55 2.55 0 1 0 -5.1 0zM1188.1 451.9a2.55 2.55 0 1 0 5.1 0a2.55 2.55 0 1 0 -5.1 0zM1191 346.7a2.55 2.55 0 1 0 5.1 0a2.55 2.55 0 1 0 -5.1 0z" fill="#7F00FF" clip-path="url(#cf2)"/>
<clipPath id="cf2"><rect x="905" y="342.5" width="296" height="236"/></clipPath>
<path d="M911.1 521.6L1196.4 521.6" stroke="#FF8000" stroke-width="1.7" stroke-dasharray="8 7.8"/>
<path d="M911.1 571.5L1196.4 571.5" stroke="#7F00FF" stroke-width="1.7" stroke-dasharray="8 7.8"/>
<path d="M1019.5 525.8V532.5" stroke="#FF8000" stroke-width="1.2"/><path d="M1019.5 521.8l-1.9 6h3.8zM1019.5 536.5l-1.9 -6h3.8z" fill="#FF8000"/>
<path d="M1039.2 537.5V566.5" stroke="#7F00FF" stroke-width="1.2"/><path d="M1039.2 533.5l-1.9 6h3.8zM1039.2 570.5l-1.9 -6h3.8z" fill="#7F00FF"/>
<path d="M1082.6 360.8L1110.4 360.8" stroke="#FF8000" stroke-width="1.5"/>
<rect x="1094.4" y="358.7" width="4.2" height="4.2" fill="#FF8000"/>
<path d="M1082.6 377.9L1110.4 377.9" stroke="#7F00FF" stroke-width="1.5"/>
<circle cx="1096.5" cy="377.9" r="2.3" fill="#7F00FF"/>
<text transform="translate(1114.2,365.7)" font-size="13.60" textLength="55.4" lengthAdjust="spacingAndGlyphs" stroke="#000" stroke-width="0.3">DIO:ITIC</text>
<text transform="translate(1114.2,382.9)" font-size="13.60" textLength="41.6" lengthAdjust="spacingAndGlyphs" stroke="#000" stroke-width="0.3">CN:Y6</text>
<text transform="translate(965.4,418.8)" font-size="13.60" textLength="96.6" lengthAdjust="spacingAndGlyphs" stroke="#000" stroke-width="0.3">2-Phase region</text>
<text transform="translate(1065.5,452.8)" font-size="13.60" textLength="102.4" lengthAdjust="spacingAndGlyphs" stroke="#000" stroke-width="0.3">Volume fraction:</text>
<text transform="translate(1065.5,470.4)" font-size="13.60" textLength="80.5" lengthAdjust="spacingAndGlyphs" stroke="#000" stroke-width="0.3">DIO: 38.28%</text>
<text transform="translate(1065.5,486.8)" font-size="13.60" textLength="88.5" lengthAdjust="spacingAndGlyphs" stroke="#000" stroke-width="0.3">1-CN: 45.21%</text>
<text transform="translate(913.6,547)" font-size="13.60" textLength="92.8" lengthAdjust="spacingAndGlyphs" stroke="#000" stroke-width="0.3">Homogeneous</text>
<text transform="translate(957,563.9)" font-size="13.60" text-anchor="middle" textLength="38.6" lengthAdjust="spacingAndGlyphs" stroke="#000" stroke-width="0.3">region</text>
<rect x="908.4" y="343" width="288" height="231.5" fill="none" stroke="#1c1c1c" stroke-width="1.2"/>
<path d="M908.4 574.5h-5M908.4 528.2h-5M908.4 481.9h-5M908.4 435.6h-5M908.4 389.3h-5M908.4 343h-5M908.4 551.4h-2.6M908.4 505.1h-2.6M908.4 458.8h-2.6M908.4 412.4h-2.6M908.4 366.2h-2.6" stroke="#1c1c1c" stroke-width="1.2" fill="none"/>
<path d="M908.4 574.5v5M980.4 574.5v5M1052.4 574.5v5M1124.4 574.5v5M1196.4 574.5v5M944.4 574.5v2.6M1016.4 574.5v2.6M1088.4 574.5v2.6M1160.4 574.5v2.6" stroke="#1c1c1c" stroke-width="1.2" fill="none"/>
<text transform="translate(900.6,579) scale(0.930,1)" font-size="15" text-anchor="end" stroke="#000" stroke-width="0.4">0.00</text><text transform="translate(900.6,532.7) scale(0.930,1)" font-size="15" text-anchor="end" stroke="#000" stroke-width="0.4">0.01</text><text transform="translate(900.6,486.3) scale(0.930,1)" font-size="15" text-anchor="end" stroke="#000" stroke-width="0.4">0.02</text><text transform="translate(900.6,440.1) scale(0.930,1)" font-size="15" text-anchor="end" stroke="#000" stroke-width="0.4">0.03</text><text transform="translate(900.6,393.8) scale(0.930,1)" font-size="15" text-anchor="end" stroke="#000" stroke-width="0.4">0.04</text><text transform="translate(900.6,347.4) scale(0.930,1)" font-size="15" text-anchor="end" stroke="#000" stroke-width="0.4">0.05</text>
<text transform="translate(908.4,593.6) scale(0.930,1)" font-size="15" text-anchor="middle" stroke="#000" stroke-width="0.4">0.00</text><text transform="translate(980.4,593.6) scale(0.930,1)" font-size="15" text-anchor="middle" stroke="#000" stroke-width="0.4">0.25</text><text transform="translate(1052.4,593.6) scale(0.930,1)" font-size="15" text-anchor="middle" stroke="#000" stroke-width="0.4">0.50</text><text transform="translate(1124.4,593.6) scale(0.930,1)" font-size="15" text-anchor="middle" stroke="#000" stroke-width="0.4">0.75</text><text transform="translate(1196.4,593.6) scale(0.930,1)" font-size="15" text-anchor="middle" stroke="#000" stroke-width="0.4">1.00</text>
<text transform="translate(1052.5,610.5)" font-size="17" text-anchor="middle" textLength="133.7" lengthAdjust="spacingAndGlyphs" stroke="#000" stroke-width="0.3">Additives (Vol.%)</text>
<text transform="translate(860.2,450.5) rotate(-90)" font-size="17.50" text-anchor="middle" stroke="#000" stroke-width="0.3"><tspan font-style="italic" font-family="'Liberation Serif', 'DejaVu Serif', serif" font-size="24">χ</tspan><tspan dy="4.5" font-size="13.4">spinodal</tspan><tspan dy="-4.5" font-size="17.5"> / </tspan><tspan font-style="italic" font-size="18">v</tspan><tspan dy="4.5" font-size="12.5">0</tspan><tspan dy="-4.5" font-size="17.8"> (a.u.)</tspan></text>
<text transform="translate(825.7,340.2) scale(1.060,1)" font-size="31" stroke="#000" stroke-width="0.3">(f)</text>
</g>
</svg>
</body></html>
